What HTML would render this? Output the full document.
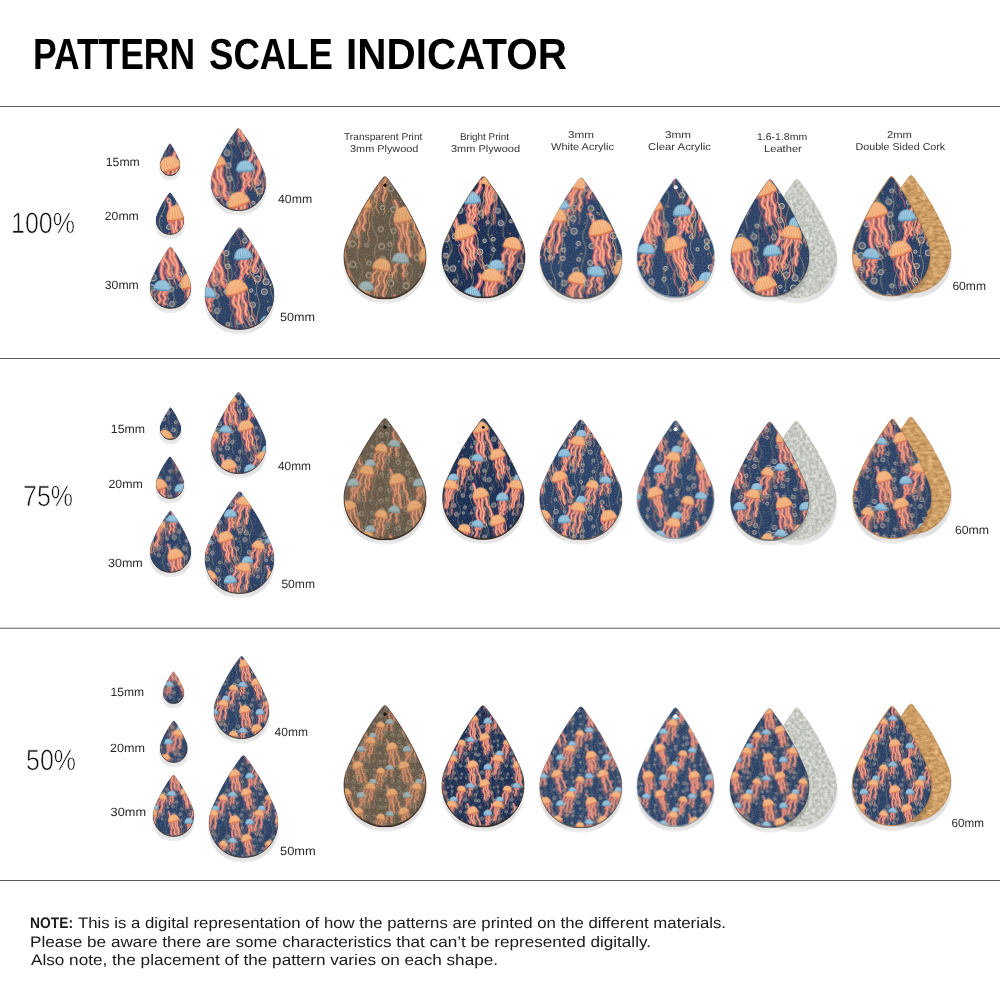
<!DOCTYPE html>
<html><head><meta charset="utf-8"><title>Pattern Scale Indicator</title>
<style>html,body{margin:0;padding:0;background:#fff;}svg{display:block;}text{text-rendering:geometricPrecision;}</style></head>
<body><svg width="1000" height="1000" viewBox="0 0 1000 1000">
<defs>
<clipPath id="dc" clipPathUnits="objectBoundingBox"><path d="M0.040,0.531 Q0.220,0.243 0.468,0.027 Q0.500,-0.003 0.532,0.027 Q0.780,0.243 0.960,0.531 A0.500,0.338 0 1 1 0.040,0.531 Z"/></clipPath>
<filter id="sh" x="-30%" y="-30%" width="160%" height="160%"><feGaussianBlur stdDeviation="4.5"/></filter>
<filter id="suede" x="0" y="0" width="100%" height="100%" color-interpolation-filters="sRGB"><feTurbulence type="fractalNoise" baseFrequency="0.32" numOctaves="3" seed="4"/><feColorMatrix type="matrix" values="0.34 0 0 0 0.615  0.34 0 0 0 0.627  0.34 0 0 0 0.595  0 0 0 0 1"/></filter>
<filter id="grain" x="0" y="0" width="100%" height="100%" color-interpolation-filters="sRGB"><feTurbulence type="fractalNoise" baseFrequency="0.9" numOctaves="1" seed="2"/><feColorMatrix type="matrix" values="0 0 0 0 1  0 0 0 0 1  0 0 0 0 1  1.2 0 0 0 -0.55"/></filter>
<filter id="cork" x="0" y="0" width="100%" height="100%" color-interpolation-filters="sRGB"><feTurbulence type="fractalNoise" baseFrequency="0.18 0.35" numOctaves="3" seed="9"/><feColorMatrix type="matrix" values="0.35 0 0 0 0.63  0.35 0 0 0 0.45  0.35 0 0 0 0.23  0 0 0 0 1"/></filter>
<g id="tN_c"><path d="M4.0,0.0 Q7.5,8.3 2.2,16.7 Q-3.1,25.0 0.9,33.3 Q5.8,41.7 0.1,50.0 Q-3.5,58.3 -0.9,66.7 Q1.6,75.0 -2.2,83.3 Q-5.9,91.7 -3.3,100.0" fill="none" stroke="#cdb877" stroke-width="0.7" opacity="0.75"/>
<path d="M20.0,0.0 Q26.8,8.3 21.9,16.7 Q15.6,25.0 21.6,33.3 Q28.0,41.7 23.4,50.0 Q19.2,58.3 24.0,66.7 Q28.9,75.0 25.7,83.3 Q22.6,91.7 26.9,100.0" fill="none" stroke="#cdb877" stroke-width="0.7" opacity="0.75"/>
<path d="M36.0,0.0 Q40.2,8.3 36.7,16.7 Q33.6,25.0 37.6,33.3 Q43.2,41.7 38.9,50.0 Q35.2,58.3 39.3,66.7 Q43.6,75.0 40.9,83.3 Q36.8,91.7 41.3,100.0" fill="none" stroke="#cdb877" stroke-width="0.7" opacity="0.75"/>
<path d="M52.0,0.0 Q54.9,8.3 51.9,16.7 Q47.3,25.0 50.8,33.3 Q55.9,41.7 49.9,50.0 Q45.1,58.3 48.5,66.7 Q53.9,75.0 48.7,83.3 Q42.2,91.7 47.1,100.0" fill="none" stroke="#cdb877" stroke-width="0.7" opacity="0.75"/>
<path d="M68.0,0.0 Q72.1,8.3 68.2,16.7 Q64.9,25.0 68.7,33.3 Q73.8,41.7 68.8,50.0 Q64.0,58.3 67.5,66.7 Q71.1,75.0 67.4,83.3 Q64.8,91.7 67.9,100.0" fill="none" stroke="#cdb877" stroke-width="0.7" opacity="0.75"/>
<path d="M84.0,0.0 Q87.4,8.3 83.3,16.7 Q77.8,25.0 83.7,33.3 Q87.6,41.7 83.2,50.0 Q78.5,58.3 83.1,66.7 Q88.7,75.0 82.6,83.3 Q78.8,91.7 83.0,100.0" fill="none" stroke="#cdb877" stroke-width="0.7" opacity="0.75"/>
<path d="M60.0,2.0 Q62.2,8.8 56.9,15.6 Q51.0,22.4 54.3,29.2 Q56.9,36.0 51.7,42.8 Q46.9,49.6 49.0,56.4 Q52.3,63.2 46.0,70.0" fill="none" stroke="#d8636d" stroke-width="4.5" stroke-linecap="round"/>
<path d="M60.0,2.0 Q62.2,8.8 56.9,15.6 Q51.0,22.4 54.3,29.2 Q56.9,36.0 51.7,42.8 Q46.9,49.6 49.0,56.4 Q52.3,63.2 46.0,70.0" fill="none" stroke="#f8c9a0" stroke-width="1.6" stroke-linecap="round" opacity="0.9"/>
<path d="M8.0,2.0 Q12.1,8.8 10.3,15.6 Q6.7,22.4 12.6,29.2 Q15.9,36.0 13.6,42.8 Q12.2,49.6 15.6,56.4 Q21.5,63.2 18.0,70.0" fill="none" stroke="#d8636d" stroke-width="4.5" stroke-linecap="round"/>
<path d="M8.0,2.0 Q12.1,8.8 10.3,15.6 Q6.7,22.4 12.6,29.2 Q15.9,36.0 13.6,42.8 Q12.2,49.6 15.6,56.4 Q21.5,63.2 18.0,70.0" fill="none" stroke="#f8c9a0" stroke-width="1.6" stroke-linecap="round" opacity="0.9"/>
<circle cx="9.6" cy="3.7" r="1.8" fill="#46587a" stroke="#cdc4b4" stroke-width="1.0"/>
<circle cx="9.9" cy="4.1" r="0.8" fill="#7a6a58"/>
<circle cx="9.4" cy="31.4" r="2.5" fill="#46587a" stroke="#cdc4b4" stroke-width="1.0"/>
<circle cx="9.7" cy="31.8" r="1.1" fill="#7a6a58"/>
<circle cx="4.8" cy="53.8" r="3.4" fill="#46587a" stroke="#cdc4b4" stroke-width="1.0"/>
<circle cx="5.1" cy="54.2" r="1.5" fill="#7a6a58"/>
<circle cx="3.1" cy="64.6" r="3.5" fill="#46587a" stroke="#cdc4b4" stroke-width="1.0"/>
<circle cx="3.4" cy="65.0" r="1.6" fill="#7a6a58"/>
<circle cx="4.7" cy="77.9" r="1.8" fill="#46587a" stroke="#cdc4b4" stroke-width="1.0"/>
<circle cx="5.0" cy="78.3" r="0.8" fill="#7a6a58"/>
<circle cx="6.6" cy="92.8" r="2.1" fill="#46587a" stroke="#cdc4b4" stroke-width="1.0"/>
<circle cx="6.9" cy="93.2" r="1.0" fill="#7a6a58"/>
<circle cx="19.0" cy="6.8" r="2.3" fill="#46587a" stroke="#cdc4b4" stroke-width="1.0"/>
<circle cx="19.3" cy="7.2" r="1.0" fill="#7a6a58"/>
<circle cx="24.3" cy="21.9" r="2.9" fill="#46587a" stroke="#cdc4b4" stroke-width="1.0"/>
<circle cx="24.6" cy="22.3" r="1.3" fill="#7a6a58"/>
<circle cx="25.7" cy="38.8" r="1.9" fill="#46587a" stroke="#cdc4b4" stroke-width="1.0"/>
<circle cx="26.0" cy="39.2" r="0.9" fill="#7a6a58"/>
<circle cx="23.3" cy="51.8" r="3.5" fill="#46587a" stroke="#cdc4b4" stroke-width="1.0"/>
<circle cx="23.6" cy="52.2" r="1.6" fill="#7a6a58"/>
<circle cx="24.3" cy="65.7" r="2.3" fill="#46587a" stroke="#cdc4b4" stroke-width="1.0"/>
<circle cx="24.6" cy="66.1" r="1.0" fill="#7a6a58"/>
<circle cx="24.7" cy="81.5" r="2.7" fill="#46587a" stroke="#cdc4b4" stroke-width="1.0"/>
<circle cx="25.0" cy="81.9" r="1.2" fill="#7a6a58"/>
<circle cx="17.4" cy="90.7" r="3.2" fill="#46587a" stroke="#cdc4b4" stroke-width="1.0"/>
<circle cx="17.7" cy="91.1" r="1.4" fill="#7a6a58"/>
<circle cx="32.9" cy="7.6" r="3.0" fill="#46587a" stroke="#cdc4b4" stroke-width="1.0"/>
<circle cx="33.2" cy="8.0" r="1.4" fill="#7a6a58"/>
<circle cx="34.6" cy="20.9" r="2.7" fill="#46587a" stroke="#cdc4b4" stroke-width="1.0"/>
<circle cx="34.9" cy="21.3" r="1.2" fill="#7a6a58"/>
<circle cx="35.9" cy="34.8" r="2.6" fill="#46587a" stroke="#cdc4b4" stroke-width="1.0"/>
<circle cx="36.2" cy="35.2" r="1.2" fill="#7a6a58"/>
<circle cx="31.8" cy="51.7" r="3.6" fill="#46587a" stroke="#cdc4b4" stroke-width="1.0"/>
<circle cx="32.1" cy="52.1" r="1.6" fill="#7a6a58"/>
<circle cx="34.8" cy="61.5" r="2.7" fill="#46587a" stroke="#cdc4b4" stroke-width="1.0"/>
<circle cx="35.1" cy="61.9" r="1.2" fill="#7a6a58"/>
<circle cx="36.1" cy="95.9" r="2.1" fill="#46587a" stroke="#cdc4b4" stroke-width="1.0"/>
<circle cx="36.4" cy="96.3" r="1.0" fill="#7a6a58"/>
<circle cx="53.9" cy="7.8" r="2.6" fill="#46587a" stroke="#cdc4b4" stroke-width="1.0"/>
<circle cx="54.2" cy="8.2" r="1.2" fill="#7a6a58"/>
<circle cx="50.4" cy="25.3" r="1.7" fill="#46587a" stroke="#cdc4b4" stroke-width="1.0"/>
<circle cx="50.7" cy="25.7" r="0.8" fill="#7a6a58"/>
<circle cx="52.7" cy="39.0" r="3.1" fill="#46587a" stroke="#cdc4b4" stroke-width="1.0"/>
<circle cx="53.0" cy="39.4" r="1.4" fill="#7a6a58"/>
<circle cx="50.5" cy="63.7" r="1.8" fill="#46587a" stroke="#cdc4b4" stroke-width="1.0"/>
<circle cx="50.8" cy="64.1" r="0.8" fill="#7a6a58"/>
<circle cx="47.4" cy="92.9" r="2.6" fill="#46587a" stroke="#cdc4b4" stroke-width="1.0"/>
<circle cx="47.7" cy="93.3" r="1.2" fill="#7a6a58"/>
<circle cx="63.0" cy="7.5" r="2.9" fill="#46587a" stroke="#cdc4b4" stroke-width="1.0"/>
<circle cx="63.3" cy="7.9" r="1.3" fill="#7a6a58"/>
<circle cx="63.9" cy="17.4" r="2.1" fill="#46587a" stroke="#cdc4b4" stroke-width="1.0"/>
<circle cx="64.2" cy="17.8" r="1.0" fill="#7a6a58"/>
<circle cx="65.0" cy="38.8" r="3.2" fill="#46587a" stroke="#cdc4b4" stroke-width="1.0"/>
<circle cx="65.3" cy="39.2" r="1.4" fill="#7a6a58"/>
<circle cx="67.0" cy="47.9" r="3.3" fill="#46587a" stroke="#cdc4b4" stroke-width="1.0"/>
<circle cx="67.3" cy="48.3" r="1.5" fill="#7a6a58"/>
<circle cx="60.7" cy="60.1" r="1.7" fill="#46587a" stroke="#cdc4b4" stroke-width="1.0"/>
<circle cx="61.0" cy="60.5" r="0.8" fill="#7a6a58"/>
<circle cx="62.1" cy="75.2" r="2.9" fill="#46587a" stroke="#cdc4b4" stroke-width="1.0"/>
<circle cx="62.4" cy="75.6" r="1.3" fill="#7a6a58"/>
<circle cx="60.6" cy="89.9" r="2.7" fill="#46587a" stroke="#cdc4b4" stroke-width="1.0"/>
<circle cx="60.9" cy="90.3" r="1.2" fill="#7a6a58"/>
<circle cx="76.6" cy="9.0" r="2.6" fill="#46587a" stroke="#cdc4b4" stroke-width="1.0"/>
<circle cx="76.9" cy="9.4" r="1.2" fill="#7a6a58"/>
<circle cx="78.3" cy="17.3" r="2.4" fill="#46587a" stroke="#cdc4b4" stroke-width="1.0"/>
<circle cx="78.6" cy="17.7" r="1.1" fill="#7a6a58"/>
<circle cx="75.9" cy="32.4" r="3.4" fill="#46587a" stroke="#cdc4b4" stroke-width="1.0"/>
<circle cx="76.2" cy="32.8" r="1.5" fill="#7a6a58"/>
<circle cx="76.1" cy="50.9" r="3.3" fill="#46587a" stroke="#cdc4b4" stroke-width="1.0"/>
<circle cx="76.4" cy="51.3" r="1.5" fill="#7a6a58"/>
<circle cx="74.4" cy="61.3" r="3.1" fill="#46587a" stroke="#cdc4b4" stroke-width="1.0"/>
<circle cx="74.7" cy="61.7" r="1.4" fill="#7a6a58"/>
<circle cx="80.3" cy="80.1" r="2.7" fill="#46587a" stroke="#cdc4b4" stroke-width="1.0"/>
<circle cx="80.6" cy="80.5" r="1.2" fill="#7a6a58"/>
<circle cx="82.6" cy="95.4" r="2.7" fill="#46587a" stroke="#cdc4b4" stroke-width="1.0"/>
<circle cx="82.9" cy="95.8" r="1.2" fill="#7a6a58"/>
<circle cx="94.1" cy="6.2" r="2.8" fill="#46587a" stroke="#cdc4b4" stroke-width="1.0"/>
<circle cx="94.4" cy="6.6" r="1.3" fill="#7a6a58"/>
<circle cx="94.0" cy="17.6" r="2.3" fill="#46587a" stroke="#cdc4b4" stroke-width="1.0"/>
<circle cx="94.3" cy="18.0" r="1.0" fill="#7a6a58"/>
<circle cx="95.9" cy="62.7" r="3.5" fill="#46587a" stroke="#cdc4b4" stroke-width="1.0"/>
<circle cx="96.2" cy="63.1" r="1.6" fill="#7a6a58"/>
<circle cx="92.1" cy="76.4" r="1.7" fill="#46587a" stroke="#cdc4b4" stroke-width="1.0"/>
<circle cx="92.4" cy="76.8" r="0.8" fill="#7a6a58"/>
<circle cx="3.8" cy="81.9" r="1.0" fill="#cdb877"/>
<circle cx="46.1" cy="82.8" r="0.9" fill="#cdb877"/>
<circle cx="62.3" cy="3.7" r="0.6" fill="#e07a5a"/>
<circle cx="20.6" cy="67.4" r="0.7" fill="#e07a5a"/>
<circle cx="49.2" cy="93.8" r="0.7" fill="#cdb877"/>
<circle cx="50.0" cy="32.5" r="0.9" fill="#7fa8c8"/>
<circle cx="1.8" cy="20.1" r="0.7" fill="#cdb877"/>
<circle cx="78.3" cy="33.9" r="0.6" fill="#cdb877"/>
<circle cx="9.6" cy="37.9" r="0.8" fill="#cdb877"/>
<circle cx="53.4" cy="76.8" r="0.8" fill="#e07a5a"/>
<circle cx="72.5" cy="8.5" r="0.6" fill="#cdb877"/>
<circle cx="21.3" cy="75.9" r="0.8" fill="#7fa8c8"/>
<circle cx="36.8" cy="34.0" r="0.6" fill="#cdb877"/>
<circle cx="78.0" cy="71.5" r="0.7" fill="#cdb877"/>
<circle cx="55.1" cy="10.4" r="0.5" fill="#e07a5a"/>
<circle cx="38.0" cy="99.1" r="0.6" fill="#e07a5a"/>
<circle cx="34.1" cy="61.5" r="0.9" fill="#7fa8c8"/>
<circle cx="7.7" cy="55.0" r="0.8" fill="#7fa8c8"/>
<circle cx="36.5" cy="29.6" r="0.8" fill="#e07a5a"/>
<circle cx="45.8" cy="27.7" r="0.9" fill="#7fa8c8"/>
<circle cx="1.2" cy="67.0" r="0.5" fill="#e07a5a"/>
<circle cx="82.6" cy="79.0" r="0.6" fill="#cdb877"/>
<circle cx="42.1" cy="11.6" r="0.6" fill="#e07a5a"/>
<circle cx="15.9" cy="84.5" r="0.7" fill="#7fa8c8"/>
<circle cx="80.6" cy="54.3" r="0.9" fill="#cdb877"/>
<circle cx="25.3" cy="47.7" r="0.6" fill="#cdb877"/>
<circle cx="31.7" cy="2.7" r="0.9" fill="#7fa8c8"/>
<circle cx="72.6" cy="32.0" r="0.7" fill="#7fa8c8"/>
<circle cx="6.3" cy="91.3" r="1.0" fill="#7fa8c8"/>
<circle cx="11.1" cy="21.5" r="0.8" fill="#cdb877"/>
<circle cx="86.8" cy="46.9" r="0.7" fill="#e07a5a"/>
<circle cx="54.2" cy="30.7" r="0.6" fill="#e07a5a"/>
<circle cx="82.0" cy="8.9" r="0.9" fill="#e07a5a"/>
<circle cx="65.2" cy="64.3" r="1.0" fill="#7fa8c8"/>
<circle cx="96.7" cy="4.1" r="0.6" fill="#cdb877"/>
<circle cx="89.4" cy="30.3" r="0.7" fill="#cdb877"/>
<circle cx="61.1" cy="80.8" r="0.5" fill="#e07a5a"/>
<circle cx="2.0" cy="24.4" r="0.5" fill="#cdb877"/>
<circle cx="86.8" cy="72.9" r="0.5" fill="#e07a5a"/>
<circle cx="29.1" cy="79.2" r="0.7" fill="#e07a5a"/>
<g transform="translate(20.0,22.0) rotate(-14)"><path d="M-10.5,0.0 Q-8.1,4.6 -10.7,9.2 Q-12.4,13.8 -9.6,18.5 Q-7.7,23.1 -10.7,27.7 Q-12.2,32.3 -9.9,36.9 Q-8.1,41.5 -9.9,46.1" fill="none" stroke="#d8636d" stroke-width="1.0"/>
<path d="M-7.5,0.0 Q-5.0,4.3 -7.2,8.5 Q-9.1,12.8 -7.7,17.1 Q-5.5,21.3 -8.1,25.6 Q-9.4,29.9 -6.9,34.2 Q-5.5,38.4 -7.3,42.7" fill="none" stroke="#e9a474" stroke-width="0.9"/>
<path d="M-4.5,0.0 Q-2.0,4.5 -4.4,8.9 Q-4.8,13.4 -2.4,17.9 Q-1.2,22.4 -2.9,26.8 Q-4.6,31.3 -1.4,35.8 Q-0.0,40.3 -1.1,44.7" fill="none" stroke="#e9a474" stroke-width="0.7"/>
<path d="M-1.5,0.0 Q-0.5,4.0 -1.9,7.9 Q-3.7,11.9 -2.5,15.8 Q-1.1,19.8 -3.4,23.7 Q-4.2,27.7 -2.6,31.6 Q-1.1,35.6 -3.6,39.5" fill="none" stroke="#d8636d" stroke-width="0.8"/>
<path d="M1.5,0.0 Q2.6,3.7 0.6,7.4 Q-0.7,11.2 -0.1,14.9 Q1.5,18.6 -0.8,22.3 Q-2.7,26.1 -1.0,29.8 Q0.7,33.5 -1.5,37.2" fill="none" stroke="#e9a474" stroke-width="0.7"/>
<path d="M4.5,0.0 Q6.2,4.9 3.9,9.8 Q2.7,14.7 4.4,19.6 Q6.9,24.5 4.1,29.4 Q2.3,34.3 4.0,39.2 Q6.7,44.1 4.8,48.9" fill="none" stroke="#e9a474" stroke-width="0.8"/>
<path d="M7.5,0.0 Q9.5,5.1 6.7,10.2 Q5.2,15.3 7.1,20.3 Q8.0,25.4 6.0,30.5 Q4.4,35.6 6.7,40.7 Q8.0,45.8 6.0,50.9" fill="none" stroke="#d8636d" stroke-width="0.8"/>
<path d="M10.5,0.0 Q12.9,3.9 11.2,7.9 Q8.6,11.8 9.8,15.7 Q12.3,19.6 11.0,23.6 Q8.9,27.5 9.9,31.4 Q12.0,35.4 10.6,39.3" fill="none" stroke="#e9a474" stroke-width="0.9"/>
<path d="M-5.5,-1.0 Q-2.9,2.8 -4.8,6.6 Q-8.1,10.3 -4.4,14.1 Q-2.6,17.9 -4.1,21.7 Q-7.4,25.5 -4.3,29.2" fill="none" stroke="#d8636d" stroke-width="4.2" stroke-linecap="round" stroke-dasharray="1.2 0.8"/>
<path d="M-5.5,-1.0 Q-2.9,2.8 -4.8,6.6 Q-8.1,10.3 -4.4,14.1 Q-2.6,17.9 -4.1,21.7 Q-7.4,25.5 -4.3,29.2" fill="none" stroke="#ee9b6c" stroke-width="2.0" stroke-linecap="round"/>
<path d="M-5.5,-1.0 Q-2.9,2.8 -4.8,6.6 Q-8.1,10.3 -4.4,14.1 Q-2.6,17.9 -4.1,21.7 Q-7.4,25.5 -4.3,29.2" fill="none" stroke="#f8c9a0" stroke-width="0.9" stroke-linecap="round"/>
<path d="M0.0,-1.0 Q2.9,3.6 0.9,8.2 Q-1.5,12.7 2.0,17.3 Q5.0,21.9 2.3,26.5 Q1.6,31.1 3.7,35.7" fill="none" stroke="#d8636d" stroke-width="4.2" stroke-linecap="round" stroke-dasharray="1.2 0.8"/>
<path d="M0.0,-1.0 Q2.9,3.6 0.9,8.2 Q-1.5,12.7 2.0,17.3 Q5.0,21.9 2.3,26.5 Q1.6,31.1 3.7,35.7" fill="none" stroke="#ee9b6c" stroke-width="2.0" stroke-linecap="round"/>
<path d="M0.0,-1.0 Q2.9,3.6 0.9,8.2 Q-1.5,12.7 2.0,17.3 Q5.0,21.9 2.3,26.5 Q1.6,31.1 3.7,35.7" fill="none" stroke="#f8c9a0" stroke-width="0.9" stroke-linecap="round"/>
<path d="M5.5,-1.0 Q7.6,3.3 4.4,7.6 Q2.9,11.9 5.1,16.2 Q5.6,20.5 4.5,24.8 Q0.8,29.1 3.2,33.4" fill="none" stroke="#d8636d" stroke-width="4.2" stroke-linecap="round" stroke-dasharray="1.2 0.8"/>
<path d="M5.5,-1.0 Q7.6,3.3 4.4,7.6 Q2.9,11.9 5.1,16.2 Q5.6,20.5 4.5,24.8 Q0.8,29.1 3.2,33.4" fill="none" stroke="#ee9b6c" stroke-width="2.0" stroke-linecap="round"/>
<path d="M5.5,-1.0 Q7.6,3.3 4.4,7.6 Q2.9,11.9 5.1,16.2 Q5.6,20.5 4.5,24.8 Q0.8,29.1 3.2,33.4" fill="none" stroke="#f8c9a0" stroke-width="0.9" stroke-linecap="round"/>
<path d="M-12.5,0 C-12.5,-19.5 12.5,-19.5 12.5,0 Q0,3.3 -12.5,0 Z" fill="#f0a66e"/>
<path d="M-9.0,-0.8 L-5.0,-12.8" stroke="#fbd3a6" stroke-width="1.1" opacity="0.6"/>
<path d="M-5.4,-0.8 L-3.0,-12.8" stroke="#fbd3a6" stroke-width="1.1" opacity="0.6"/>
<path d="M-1.8,-0.8 L-1.0,-12.8" stroke="#fbd3a6" stroke-width="1.1" opacity="0.6"/>
<path d="M1.8,-0.8 L1.0,-12.8" stroke="#fbd3a6" stroke-width="1.1" opacity="0.6"/>
<path d="M5.4,-0.8 L3.0,-12.8" stroke="#fbd3a6" stroke-width="1.1" opacity="0.6"/>
<path d="M9.0,-0.8 L5.0,-12.8" stroke="#fbd3a6" stroke-width="1.1" opacity="0.6"/>
<path d="M-12.5,0 Q0,3.3 12.5,0" fill="none" stroke="#da7350" stroke-width="2.0"/></g>
<g transform="translate(72.0,8.0) rotate(8)"><path d="M-9.2,0.0 Q-8.1,4.0 -9.1,8.0 Q-11.4,12.0 -10.3,15.9 Q-8.2,19.9 -10.0,23.9 Q-12.9,27.9 -10.9,31.9 Q-9.5,35.9 -11.6,39.8" fill="none" stroke="#d8636d" stroke-width="0.9"/>
<path d="M-6.6,0.0 Q-4.8,4.1 -7.1,8.2 Q-9.1,12.3 -8.3,16.4 Q-5.7,20.5 -8.0,24.6 Q-10.2,28.7 -8.4,32.8 Q-6.1,36.9 -8.8,40.9" fill="none" stroke="#e9a474" stroke-width="0.9"/>
<path d="M-4.0,0.0 Q-2.1,3.4 -3.0,6.7 Q-5.3,10.1 -4.0,13.4 Q-1.6,16.8 -3.8,20.1 Q-5.5,23.5 -2.7,26.8 Q-1.4,30.2 -2.8,33.5" fill="none" stroke="#e9a474" stroke-width="1.0"/>
<path d="M-1.3,0.0 Q1.1,3.5 -1.9,7.1 Q-3.0,10.6 -1.6,14.1 Q0.9,17.7 -1.7,21.2 Q-3.5,24.7 -2.1,28.3 Q-0.1,31.8 -1.7,35.3" fill="none" stroke="#d8636d" stroke-width="0.7"/>
<path d="M1.3,0.0 Q3.8,4.3 1.1,8.6 Q0.0,12.9 1.5,17.2 Q4.4,21.5 2.1,25.8 Q-0.0,30.1 3.2,34.4 Q5.3,38.7 3.0,43.0" fill="none" stroke="#e9a474" stroke-width="0.7"/>
<path d="M4.0,0.0 Q5.7,4.2 5.4,8.5 Q3.7,12.7 6.2,17.0 Q7.4,21.2 5.8,25.4 Q4.6,29.7 6.1,33.9 Q9.5,38.1 7.6,42.4" fill="none" stroke="#e9a474" stroke-width="0.9"/>
<path d="M6.6,0.0 Q8.2,4.2 5.9,8.4 Q3.6,12.7 5.6,16.9 Q7.5,21.1 4.7,25.3 Q2.7,29.5 4.2,33.8 Q5.3,38.0 3.2,42.2" fill="none" stroke="#d8636d" stroke-width="0.8"/>
<path d="M9.2,0.0 Q10.7,4.0 9.5,8.0 Q7.1,12.0 9.0,16.0 Q10.2,20.1 8.2,24.1 Q6.2,28.1 8.0,32.1 Q10.0,36.1 8.0,40.1" fill="none" stroke="#e9a474" stroke-width="0.7"/>
<path d="M-4.8,-1.0 Q-2.9,2.6 -4.4,6.1 Q-6.0,9.7 -4.7,13.3 Q-1.9,16.8 -4.0,20.4 Q-5.3,24.0 -3.1,27.5" fill="none" stroke="#d8636d" stroke-width="3.7" stroke-linecap="round" stroke-dasharray="1.2 0.8"/>
<path d="M-4.8,-1.0 Q-2.9,2.6 -4.4,6.1 Q-6.0,9.7 -4.7,13.3 Q-1.9,16.8 -4.0,20.4 Q-5.3,24.0 -3.1,27.5" fill="none" stroke="#ee9b6c" stroke-width="1.7" stroke-linecap="round"/>
<path d="M-4.8,-1.0 Q-2.9,2.6 -4.4,6.1 Q-6.0,9.7 -4.7,13.3 Q-1.9,16.8 -4.0,20.4 Q-5.3,24.0 -3.1,27.5" fill="none" stroke="#f8c9a0" stroke-width="0.8" stroke-linecap="round"/>
<path d="M0.0,-1.0 Q2.2,3.3 -0.9,7.5 Q-4.5,11.8 -2.4,16.1 Q-1.3,20.3 -4.2,24.6 Q-6.1,28.9 -4.6,33.2" fill="none" stroke="#d8636d" stroke-width="3.7" stroke-linecap="round" stroke-dasharray="1.2 0.8"/>
<path d="M0.0,-1.0 Q2.2,3.3 -0.9,7.5 Q-4.5,11.8 -2.4,16.1 Q-1.3,20.3 -4.2,24.6 Q-6.1,28.9 -4.6,33.2" fill="none" stroke="#ee9b6c" stroke-width="1.7" stroke-linecap="round"/>
<path d="M0.0,-1.0 Q2.2,3.3 -0.9,7.5 Q-4.5,11.8 -2.4,16.1 Q-1.3,20.3 -4.2,24.6 Q-6.1,28.9 -4.6,33.2" fill="none" stroke="#f8c9a0" stroke-width="0.8" stroke-linecap="round"/>
<path d="M4.8,-1.0 Q8.0,2.6 6.4,6.2 Q4.8,9.8 7.8,13.5 Q10.5,17.1 7.7,20.7 Q7.1,24.3 9.2,27.9" fill="none" stroke="#d8636d" stroke-width="3.7" stroke-linecap="round" stroke-dasharray="1.2 0.8"/>
<path d="M4.8,-1.0 Q8.0,2.6 6.4,6.2 Q4.8,9.8 7.8,13.5 Q10.5,17.1 7.7,20.7 Q7.1,24.3 9.2,27.9" fill="none" stroke="#ee9b6c" stroke-width="1.7" stroke-linecap="round"/>
<path d="M4.8,-1.0 Q8.0,2.6 6.4,6.2 Q4.8,9.8 7.8,13.5 Q10.5,17.1 7.7,20.7 Q7.1,24.3 9.2,27.9" fill="none" stroke="#f8c9a0" stroke-width="0.8" stroke-linecap="round"/>
<path d="M-11.0,0 C-11.0,-16.9 11.0,-16.9 11.0,0 Q0,2.9 -11.0,0 Z" fill="#f0a66e"/>
<path d="M-7.9,-0.7 L-4.4,-11.0" stroke="#fbd3a6" stroke-width="1.0" opacity="0.6"/>
<path d="M-4.8,-0.7 L-2.6,-11.0" stroke="#fbd3a6" stroke-width="1.0" opacity="0.6"/>
<path d="M-1.6,-0.7 L-0.9,-11.0" stroke="#fbd3a6" stroke-width="1.0" opacity="0.6"/>
<path d="M1.6,-0.7 L0.9,-11.0" stroke="#fbd3a6" stroke-width="1.0" opacity="0.6"/>
<path d="M4.8,-0.7 L2.6,-11.0" stroke="#fbd3a6" stroke-width="1.0" opacity="0.6"/>
<path d="M7.9,-0.7 L4.4,-11.0" stroke="#fbd3a6" stroke-width="1.0" opacity="0.6"/>
<path d="M-11.0,0 Q0,2.9 11.0,0" fill="none" stroke="#da7350" stroke-width="1.8"/></g>
<g transform="translate(46.0,62.0) rotate(-18)"><path d="M-10.1,0.0 Q-7.8,4.9 -11.3,9.9 Q-13.1,14.8 -10.6,19.8 Q-9.0,24.7 -12.2,29.6 Q-14.0,34.6 -12.0,39.5 Q-9.7,44.5 -12.3,49.4" fill="none" stroke="#d8636d" stroke-width="0.8"/>
<path d="M-7.2,0.0 Q-5.3,4.6 -6.5,9.2 Q-9.1,13.7 -5.7,18.3 Q-3.7,22.9 -6.6,27.5 Q-7.8,32.1 -5.0,36.7 Q-3.7,41.2 -5.1,45.8" fill="none" stroke="#e9a474" stroke-width="0.6"/>
<path d="M-4.3,0.0 Q-1.6,4.3 -4.3,8.6 Q-5.0,12.9 -3.4,17.2 Q-0.9,21.5 -2.9,25.7 Q-4.3,30.0 -3.0,34.3 Q-1.2,38.6 -2.3,42.9" fill="none" stroke="#e9a474" stroke-width="0.8"/>
<path d="M-1.4,0.0 Q0.7,4.1 -1.4,8.2 Q-2.7,12.3 0.2,16.4 Q1.4,20.5 -0.4,24.6 Q-2.0,28.7 1.0,32.8 Q1.8,36.9 0.8,41.0" fill="none" stroke="#d8636d" stroke-width="0.9"/>
<path d="M1.4,0.0 Q3.4,4.4 1.9,8.7 Q-0.7,13.1 1.4,17.5 Q3.3,21.8 1.4,26.2 Q0.0,30.6 1.7,34.9 Q4.0,39.3 2.3,43.6" fill="none" stroke="#e9a474" stroke-width="0.8"/>
<path d="M4.3,0.0 Q6.2,4.4 4.3,8.8 Q1.9,13.2 3.9,17.6 Q5.3,22.0 4.7,26.4 Q2.3,30.8 3.8,35.2 Q5.2,39.6 3.8,44.0" fill="none" stroke="#e9a474" stroke-width="0.8"/>
<path d="M7.2,0.0 Q9.4,3.4 7.0,6.9 Q6.2,10.3 7.6,13.7 Q10.7,17.2 9.4,20.6 Q7.0,24.0 9.0,27.5 Q11.7,30.9 9.7,34.3" fill="none" stroke="#d8636d" stroke-width="0.9"/>
<path d="M10.1,0.0 Q12.0,4.1 10.0,8.3 Q7.6,12.4 9.3,16.6 Q9.9,20.7 8.2,24.9 Q5.3,29.0 7.8,33.2 Q8.6,37.3 6.6,41.5" fill="none" stroke="#e9a474" stroke-width="0.9"/>
<path d="M-5.3,-1.0 Q-2.4,2.5 -6.3,6.1 Q-8.9,9.6 -6.7,13.1 Q-3.3,16.7 -6.7,20.2 Q-8.5,23.7 -6.6,27.2" fill="none" stroke="#d8636d" stroke-width="4.0" stroke-linecap="round" stroke-dasharray="1.2 0.8"/>
<path d="M-5.3,-1.0 Q-2.4,2.5 -6.3,6.1 Q-8.9,9.6 -6.7,13.1 Q-3.3,16.7 -6.7,20.2 Q-8.5,23.7 -6.6,27.2" fill="none" stroke="#ee9b6c" stroke-width="1.9" stroke-linecap="round"/>
<path d="M-5.3,-1.0 Q-2.4,2.5 -6.3,6.1 Q-8.9,9.6 -6.7,13.1 Q-3.3,16.7 -6.7,20.2 Q-8.5,23.7 -6.6,27.2" fill="none" stroke="#f8c9a0" stroke-width="0.9" stroke-linecap="round"/>
<path d="M0.0,-1.0 Q2.1,3.1 -0.7,7.2 Q-3.7,11.3 -2.9,15.4 Q-1.6,19.5 -4.3,23.6 Q-6.8,27.7 -5.0,31.8" fill="none" stroke="#d8636d" stroke-width="4.0" stroke-linecap="round" stroke-dasharray="1.2 0.8"/>
<path d="M0.0,-1.0 Q2.1,3.1 -0.7,7.2 Q-3.7,11.3 -2.9,15.4 Q-1.6,19.5 -4.3,23.6 Q-6.8,27.7 -5.0,31.8" fill="none" stroke="#ee9b6c" stroke-width="1.9" stroke-linecap="round"/>
<path d="M0.0,-1.0 Q2.1,3.1 -0.7,7.2 Q-3.7,11.3 -2.9,15.4 Q-1.6,19.5 -4.3,23.6 Q-6.8,27.7 -5.0,31.8" fill="none" stroke="#f8c9a0" stroke-width="0.9" stroke-linecap="round"/>
<path d="M5.3,-1.0 Q6.5,2.4 3.8,5.8 Q2.4,9.2 4.0,12.6 Q5.8,16.0 3.0,19.4 Q0.6,22.8 2.1,26.2" fill="none" stroke="#d8636d" stroke-width="4.0" stroke-linecap="round" stroke-dasharray="1.2 0.8"/>
<path d="M5.3,-1.0 Q6.5,2.4 3.8,5.8 Q2.4,9.2 4.0,12.6 Q5.8,16.0 3.0,19.4 Q0.6,22.8 2.1,26.2" fill="none" stroke="#ee9b6c" stroke-width="1.9" stroke-linecap="round"/>
<path d="M5.3,-1.0 Q6.5,2.4 3.8,5.8 Q2.4,9.2 4.0,12.6 Q5.8,16.0 3.0,19.4 Q0.6,22.8 2.1,26.2" fill="none" stroke="#f8c9a0" stroke-width="0.9" stroke-linecap="round"/>
<path d="M-12.0,0 C-12.0,-18.2 12.0,-18.2 12.0,0 Q0,3.1 -12.0,0 Z" fill="#f0a66e"/>
<path d="M-8.6,-0.7 L-4.8,-11.9" stroke="#fbd3a6" stroke-width="1.1" opacity="0.6"/>
<path d="M-5.2,-0.7 L-2.9,-11.9" stroke="#fbd3a6" stroke-width="1.1" opacity="0.6"/>
<path d="M-1.7,-0.7 L-1.0,-11.9" stroke="#fbd3a6" stroke-width="1.1" opacity="0.6"/>
<path d="M1.7,-0.7 L1.0,-11.9" stroke="#fbd3a6" stroke-width="1.1" opacity="0.6"/>
<path d="M5.2,-0.7 L2.9,-11.9" stroke="#fbd3a6" stroke-width="1.1" opacity="0.6"/>
<path d="M8.6,-0.7 L4.8,-11.9" stroke="#fbd3a6" stroke-width="1.1" opacity="0.6"/>
<path d="M-12.0,0 Q0,3.1 12.0,0" fill="none" stroke="#da7350" stroke-width="1.9"/></g>
<g transform="translate(94.0,74.0) rotate(12)"><path d="M-8.4,0.0 Q-6.0,3.5 -8.6,7.1 Q-10.9,10.6 -9.5,14.1 Q-8.0,17.7 -8.8,21.2 Q-12.1,24.8 -10.4,28.3 Q-8.2,31.8 -10.4,35.4" fill="none" stroke="#d8636d" stroke-width="0.9"/>
<path d="M-6.0,0.0 Q-4.0,3.1 -5.8,6.2 Q-7.0,9.3 -4.0,12.4 Q-2.1,15.5 -4.6,18.6 Q-5.4,21.7 -4.1,24.8 Q-1.6,27.9 -2.7,31.0" fill="none" stroke="#e9a474" stroke-width="0.8"/>
<path d="M-3.6,0.0 Q-2.3,3.1 -4.3,6.2 Q-6.8,9.3 -5.1,12.4 Q-2.9,15.4 -5.4,18.5 Q-7.1,21.6 -6.1,24.7 Q-3.8,27.8 -6.4,30.9" fill="none" stroke="#e9a474" stroke-width="0.9"/>
<path d="M-1.2,0.0 Q1.2,4.0 -1.2,8.0 Q-2.2,11.9 -0.3,15.9 Q1.8,19.9 0.4,23.9 Q-2.4,27.9 0.8,31.8 Q3.0,35.8 0.7,39.8" fill="none" stroke="#d8636d" stroke-width="0.9"/>
<path d="M1.2,0.0 Q3.2,3.9 2.0,7.7 Q-0.8,11.6 1.8,15.4 Q3.6,19.3 1.9,23.1 Q0.2,27.0 2.5,30.8 Q4.4,34.7 2.7,38.5" fill="none" stroke="#e9a474" stroke-width="0.8"/>
<path d="M3.6,0.0 Q6.3,3.7 4.7,7.4 Q3.0,11.1 4.2,14.7 Q6.8,18.4 4.8,22.1 Q2.9,25.8 4.7,29.5 Q7.1,33.2 5.5,36.9" fill="none" stroke="#e9a474" stroke-width="0.9"/>
<path d="M6.0,0.0 Q8.6,4.0 6.9,7.9 Q4.0,11.9 7.2,15.9 Q9.1,19.8 7.5,23.8 Q5.2,27.8 6.9,31.7 Q9.1,35.7 7.4,39.7" fill="none" stroke="#d8636d" stroke-width="0.9"/>
<path d="M8.4,0.0 Q10.6,3.7 8.5,7.3 Q8.2,11.0 9.2,14.7 Q11.7,18.3 9.9,22.0 Q9.3,25.7 11.1,29.3 Q14.4,33.0 12.2,36.7" fill="none" stroke="#e9a474" stroke-width="0.7"/>
<path d="M-4.4,-1.0 Q-1.9,2.8 -5.4,6.6 Q-8.3,10.4 -6.7,14.3 Q-4.8,18.1 -7.8,21.9 Q-9.6,25.7 -8.5,29.5" fill="none" stroke="#d8636d" stroke-width="3.4" stroke-linecap="round" stroke-dasharray="1.2 0.8"/>
<path d="M-4.4,-1.0 Q-1.9,2.8 -5.4,6.6 Q-8.3,10.4 -6.7,14.3 Q-4.8,18.1 -7.8,21.9 Q-9.6,25.7 -8.5,29.5" fill="none" stroke="#ee9b6c" stroke-width="1.6" stroke-linecap="round"/>
<path d="M-4.4,-1.0 Q-1.9,2.8 -5.4,6.6 Q-8.3,10.4 -6.7,14.3 Q-4.8,18.1 -7.8,21.9 Q-9.6,25.7 -8.5,29.5" fill="none" stroke="#f8c9a0" stroke-width="0.7" stroke-linecap="round"/>
<path d="M0.0,-1.0 Q3.5,2.8 0.6,6.5 Q-0.7,10.3 1.7,14.1 Q5.6,17.9 2.9,21.6 Q1.7,25.4 4.8,29.2" fill="none" stroke="#d8636d" stroke-width="3.4" stroke-linecap="round" stroke-dasharray="1.2 0.8"/>
<path d="M0.0,-1.0 Q3.5,2.8 0.6,6.5 Q-0.7,10.3 1.7,14.1 Q5.6,17.9 2.9,21.6 Q1.7,25.4 4.8,29.2" fill="none" stroke="#ee9b6c" stroke-width="1.6" stroke-linecap="round"/>
<path d="M0.0,-1.0 Q3.5,2.8 0.6,6.5 Q-0.7,10.3 1.7,14.1 Q5.6,17.9 2.9,21.6 Q1.7,25.4 4.8,29.2" fill="none" stroke="#f8c9a0" stroke-width="0.7" stroke-linecap="round"/>
<path d="M4.4,-1.0 Q6.9,2.9 3.4,6.8 Q0.1,10.8 3.1,14.7 Q4.0,18.6 2.4,22.5 Q-1.5,26.4 1.0,30.4" fill="none" stroke="#d8636d" stroke-width="3.4" stroke-linecap="round" stroke-dasharray="1.2 0.8"/>
<path d="M4.4,-1.0 Q6.9,2.9 3.4,6.8 Q0.1,10.8 3.1,14.7 Q4.0,18.6 2.4,22.5 Q-1.5,26.4 1.0,30.4" fill="none" stroke="#ee9b6c" stroke-width="1.6" stroke-linecap="round"/>
<path d="M4.4,-1.0 Q6.9,2.9 3.4,6.8 Q0.1,10.8 3.1,14.7 Q4.0,18.6 2.4,22.5 Q-1.5,26.4 1.0,30.4" fill="none" stroke="#f8c9a0" stroke-width="0.7" stroke-linecap="round"/>
<path d="M-10.0,0 C-10.0,-15.6 10.0,-15.6 10.0,0 Q0,2.6 -10.0,0 Z" fill="#f0a66e"/>
<path d="M-7.2,-0.6 L-4.0,-10.2" stroke="#fbd3a6" stroke-width="0.9" opacity="0.6"/>
<path d="M-4.3,-0.6 L-2.4,-10.2" stroke="#fbd3a6" stroke-width="0.9" opacity="0.6"/>
<path d="M-1.4,-0.6 L-0.8,-10.2" stroke="#fbd3a6" stroke-width="0.9" opacity="0.6"/>
<path d="M1.4,-0.6 L0.8,-10.2" stroke="#fbd3a6" stroke-width="0.9" opacity="0.6"/>
<path d="M4.3,-0.6 L2.4,-10.2" stroke="#fbd3a6" stroke-width="0.9" opacity="0.6"/>
<path d="M7.2,-0.6 L4.0,-10.2" stroke="#fbd3a6" stroke-width="0.9" opacity="0.6"/>
<path d="M-10.0,0 Q0,2.6 10.0,0" fill="none" stroke="#da7350" stroke-width="1.6"/></g>
<g transform="translate(52.0,26.0) rotate(-4)"><path d="M-8.0,0.0 Q-5.7,2.2 -8.2,4.5 Q-10.1,6.7 -8.2,9.0 Q-6.6,11.2 -8.2,13.5 Q-10.9,15.7 -9.2,18.0 Q-6.6,20.2 -8.7,22.5" fill="none" stroke="#d8636d" stroke-width="0.7"/>
<path d="M-4.8,0.0 Q-3.4,2.6 -5.2,5.2 Q-6.4,7.8 -3.7,10.4 Q-1.8,13.0 -3.5,15.6 Q-5.3,18.2 -4.0,20.8 Q-1.7,23.4 -3.5,26.0" fill="none" stroke="#e9a474" stroke-width="0.7"/>
<path d="M-1.6,0.0 Q0.3,2.9 -2.2,5.8 Q-4.1,8.7 -2.1,11.6 Q-0.4,14.5 -2.4,17.5 Q-4.8,20.4 -2.6,23.3 Q-1.3,26.2 -3.8,29.1" fill="none" stroke="#e9a474" stroke-width="0.7"/>
<path d="M1.6,0.0 Q2.9,2.4 1.7,4.8 Q-0.4,7.2 1.1,9.6 Q1.7,12.0 0.5,14.4 Q-2.0,16.8 -1.1,19.2 Q1.8,21.6 -1.0,24.0" fill="none" stroke="#d8636d" stroke-width="0.8"/>
<path d="M4.8,0.0 Q6.7,2.3 5.6,4.6 Q4.5,6.9 6.4,9.1 Q8.9,11.4 7.3,13.7 Q6.3,16.0 8.1,18.3 Q9.8,20.6 8.6,22.9" fill="none" stroke="#e9a474" stroke-width="0.8"/>
<path d="M8.0,0.0 Q9.7,2.9 7.9,5.7 Q6.6,8.6 9.0,11.4 Q11.6,14.3 9.9,17.1 Q7.4,20.0 10.8,22.8 Q13.2,25.7 10.8,28.5" fill="none" stroke="#e9a474" stroke-width="1.0"/>
<path d="M-2.3,-1.0 Q-0.5,1.3 -1.6,3.6 Q-4.3,5.9 -2.0,8.2 Q0.1,10.5 -2.0,12.9 Q-4.0,15.2 -1.6,17.5" fill="none" stroke="#d8636d" stroke-width="3.3" stroke-linecap="round" stroke-dasharray="1.2 0.8"/>
<path d="M-2.3,-1.0 Q-0.5,1.3 -1.6,3.6 Q-4.3,5.9 -2.0,8.2 Q0.1,10.5 -2.0,12.9 Q-4.0,15.2 -1.6,17.5" fill="none" stroke="#ee9b6c" stroke-width="1.6" stroke-linecap="round"/>
<path d="M-2.3,-1.0 Q-0.5,1.3 -1.6,3.6 Q-4.3,5.9 -2.0,8.2 Q0.1,10.5 -2.0,12.9 Q-4.0,15.2 -1.6,17.5" fill="none" stroke="#f8c9a0" stroke-width="0.7" stroke-linecap="round"/>
<path d="M2.3,-1.0 Q4.1,1.2 2.8,3.4 Q-0.2,5.6 3.1,7.9 Q6.3,10.1 2.8,12.3 Q0.8,14.5 3.7,16.7" fill="none" stroke="#d8636d" stroke-width="3.3" stroke-linecap="round" stroke-dasharray="1.2 0.8"/>
<path d="M2.3,-1.0 Q4.1,1.2 2.8,3.4 Q-0.2,5.6 3.1,7.9 Q6.3,10.1 2.8,12.3 Q0.8,14.5 3.7,16.7" fill="none" stroke="#ee9b6c" stroke-width="1.6" stroke-linecap="round"/>
<path d="M2.3,-1.0 Q4.1,1.2 2.8,3.4 Q-0.2,5.6 3.1,7.9 Q6.3,10.1 2.8,12.3 Q0.8,14.5 3.7,16.7" fill="none" stroke="#f8c9a0" stroke-width="0.7" stroke-linecap="round"/>
<path d="M-9.5,0 C-9.5,-14.3 9.5,-14.3 9.5,0 Q0,2.4 -9.5,0 Z" fill="#7fb3d2"/>
<path d="M-6.8,-0.6 L-3.8,-9.3" stroke="#c2e2ef" stroke-width="0.9" opacity="0.6"/>
<path d="M-4.1,-0.6 L-2.3,-9.3" stroke="#c2e2ef" stroke-width="0.9" opacity="0.6"/>
<path d="M-1.4,-0.6 L-0.8,-9.3" stroke="#c2e2ef" stroke-width="0.9" opacity="0.6"/>
<path d="M1.4,-0.6 L0.8,-9.3" stroke="#c2e2ef" stroke-width="0.9" opacity="0.6"/>
<path d="M4.1,-0.6 L2.3,-9.3" stroke="#c2e2ef" stroke-width="0.9" opacity="0.6"/>
<path d="M6.8,-0.6 L3.8,-9.3" stroke="#c2e2ef" stroke-width="0.9" opacity="0.6"/>
<path d="M-9.5,0 Q0,2.4 9.5,0" fill="none" stroke="#5d93b8" stroke-width="1.5"/></g>
<g transform="translate(14.0,66.0) rotate(6)"><path d="M-7.6,0.0 Q-4.9,2.5 -7.8,4.9 Q-8.5,7.4 -6.6,9.9 Q-5.3,12.4 -7.1,14.8 Q-9.1,17.3 -7.1,19.8 Q-4.0,22.3 -6.4,24.7" fill="none" stroke="#d8636d" stroke-width="0.8"/>
<path d="M-4.5,0.0 Q-2.9,2.7 -5.9,5.4 Q-7.9,8.0 -5.5,10.7 Q-4.0,13.4 -6.3,16.1 Q-9.5,18.8 -8.1,21.4 Q-5.1,24.1 -8.0,26.8" fill="none" stroke="#e9a474" stroke-width="0.9"/>
<path d="M-1.5,0.0 Q-0.0,2.4 -1.7,4.8 Q-4.3,7.2 -2.3,9.6 Q-1.2,11.9 -2.9,14.3 Q-4.5,16.7 -2.7,19.1 Q-0.8,21.5 -3.5,23.9" fill="none" stroke="#e9a474" stroke-width="0.9"/>
<path d="M1.5,0.0 Q3.7,2.0 1.2,3.9 Q-1.0,5.9 1.1,7.9 Q4.2,9.8 0.9,11.8 Q-0.6,13.7 1.5,15.7 Q3.7,17.7 1.8,19.6" fill="none" stroke="#d8636d" stroke-width="0.8"/>
<path d="M4.5,0.0 Q6.7,2.2 4.0,4.4 Q2.4,6.7 4.4,8.9 Q5.2,11.1 3.4,13.3 Q1.5,15.5 3.3,17.8 Q4.6,20.0 3.0,22.2" fill="none" stroke="#e9a474" stroke-width="0.9"/>
<path d="M7.6,0.0 Q9.2,1.9 6.8,3.8 Q5.9,5.7 6.9,7.6 Q9.1,9.4 7.6,11.3 Q5.3,13.2 7.2,15.1 Q9.3,17.0 7.5,18.9" fill="none" stroke="#e9a474" stroke-width="0.8"/>
<path d="M-2.2,-1.0 Q-0.2,1.6 -1.5,4.2 Q-4.2,6.8 -1.1,9.4 Q1.0,12.0 -2.3,14.5 Q-2.9,17.1 -1.3,19.7" fill="none" stroke="#d8636d" stroke-width="3.2" stroke-linecap="round" stroke-dasharray="1.2 0.8"/>
<path d="M-2.2,-1.0 Q-0.2,1.6 -1.5,4.2 Q-4.2,6.8 -1.1,9.4 Q1.0,12.0 -2.3,14.5 Q-2.9,17.1 -1.3,19.7" fill="none" stroke="#ee9b6c" stroke-width="1.5" stroke-linecap="round"/>
<path d="M-2.2,-1.0 Q-0.2,1.6 -1.5,4.2 Q-4.2,6.8 -1.1,9.4 Q1.0,12.0 -2.3,14.5 Q-2.9,17.1 -1.3,19.7" fill="none" stroke="#f8c9a0" stroke-width="0.7" stroke-linecap="round"/>
<path d="M2.2,-1.0 Q5.0,1.0 2.3,3.1 Q0.9,5.1 3.5,7.2 Q6.2,9.2 3.6,11.2 Q1.8,13.3 5.1,15.3" fill="none" stroke="#d8636d" stroke-width="3.2" stroke-linecap="round" stroke-dasharray="1.2 0.8"/>
<path d="M2.2,-1.0 Q5.0,1.0 2.3,3.1 Q0.9,5.1 3.5,7.2 Q6.2,9.2 3.6,11.2 Q1.8,13.3 5.1,15.3" fill="none" stroke="#ee9b6c" stroke-width="1.5" stroke-linecap="round"/>
<path d="M2.2,-1.0 Q5.0,1.0 2.3,3.1 Q0.9,5.1 3.5,7.2 Q6.2,9.2 3.6,11.2 Q1.8,13.3 5.1,15.3" fill="none" stroke="#f8c9a0" stroke-width="0.7" stroke-linecap="round"/>
<path d="M-9.0,0 C-9.0,-13.0 9.0,-13.0 9.0,0 Q0,2.2 -9.0,0 Z" fill="#7fb3d2"/>
<path d="M-6.5,-0.5 L-3.6,-8.5" stroke="#c2e2ef" stroke-width="0.8" opacity="0.6"/>
<path d="M-3.9,-0.5 L-2.1,-8.5" stroke="#c2e2ef" stroke-width="0.8" opacity="0.6"/>
<path d="M-1.3,-0.5 L-0.7,-8.5" stroke="#c2e2ef" stroke-width="0.8" opacity="0.6"/>
<path d="M1.3,-0.5 L0.7,-8.5" stroke="#c2e2ef" stroke-width="0.8" opacity="0.6"/>
<path d="M3.9,-0.5 L2.1,-8.5" stroke="#c2e2ef" stroke-width="0.8" opacity="0.6"/>
<path d="M6.5,-0.5 L3.6,-8.5" stroke="#c2e2ef" stroke-width="0.8" opacity="0.6"/>
<path d="M-9.0,0 Q0,2.2 9.0,0" fill="none" stroke="#5d93b8" stroke-width="1.4"/></g>
<g transform="translate(78.0,96.0) rotate(-8)"><path d="M-7.1,0.0 Q-5.3,1.8 -8.3,3.6 Q-10.7,5.4 -7.9,7.2 Q-6.6,9.0 -9.2,10.8 Q-11.8,12.6 -10.2,14.4 Q-8.1,16.2 -10.5,18.0" fill="none" stroke="#d8636d" stroke-width="0.7"/>
<path d="M-4.3,0.0 Q-2.8,2.5 -3.9,5.0 Q-6.6,7.5 -5.0,10.0 Q-1.7,12.5 -4.4,15.0 Q-6.3,17.5 -4.7,20.0 Q-2.4,22.5 -4.4,25.0" fill="none" stroke="#e9a474" stroke-width="1.0"/>
<path d="M-1.4,0.0 Q0.7,2.3 -1.1,4.6 Q-4.0,6.9 -2.0,9.2 Q-0.4,11.5 -2.3,13.8 Q-4.0,16.1 -1.8,18.4 Q-0.2,20.7 -2.6,23.0" fill="none" stroke="#e9a474" stroke-width="0.7"/>
<path d="M1.4,0.0 Q3.7,1.7 0.3,3.4 Q-0.9,5.1 0.2,6.8 Q2.0,8.4 1.0,10.1 Q-1.7,11.8 0.1,13.5 Q2.1,15.2 -0.5,16.9" fill="none" stroke="#d8636d" stroke-width="0.8"/>
<path d="M4.3,0.0 Q6.6,2.3 4.9,4.7 Q2.6,7.0 5.6,9.3 Q7.2,11.6 6.5,14.0 Q3.7,16.3 7.1,18.6 Q8.7,21.0 6.8,23.3" fill="none" stroke="#e9a474" stroke-width="0.8"/>
<path d="M7.1,0.0 Q8.5,2.2 7.3,4.4 Q4.6,6.6 7.3,8.8 Q8.1,11.0 6.6,13.2 Q4.3,15.4 6.4,17.6 Q7.9,19.8 6.0,22.0" fill="none" stroke="#e9a474" stroke-width="0.6"/>
<path d="M-2.0,-1.0 Q0.2,1.4 -0.3,3.8 Q-2.9,6.2 -0.7,8.5 Q3.1,10.9 0.8,13.3 Q-0.4,15.7 2.2,18.1" fill="none" stroke="#d8636d" stroke-width="3.0" stroke-linecap="round" stroke-dasharray="1.2 0.8"/>
<path d="M-2.0,-1.0 Q0.2,1.4 -0.3,3.8 Q-2.9,6.2 -0.7,8.5 Q3.1,10.9 0.8,13.3 Q-0.4,15.7 2.2,18.1" fill="none" stroke="#ee9b6c" stroke-width="1.4" stroke-linecap="round"/>
<path d="M-2.0,-1.0 Q0.2,1.4 -0.3,3.8 Q-2.9,6.2 -0.7,8.5 Q3.1,10.9 0.8,13.3 Q-0.4,15.7 2.2,18.1" fill="none" stroke="#f8c9a0" stroke-width="0.7" stroke-linecap="round"/>
<path d="M2.0,-1.0 Q4.1,1.3 0.6,3.6 Q-1.8,6.0 -0.1,8.3 Q2.7,10.6 -1.4,12.9 Q-4.0,15.3 -1.9,17.6" fill="none" stroke="#d8636d" stroke-width="3.0" stroke-linecap="round" stroke-dasharray="1.2 0.8"/>
<path d="M2.0,-1.0 Q4.1,1.3 0.6,3.6 Q-1.8,6.0 -0.1,8.3 Q2.7,10.6 -1.4,12.9 Q-4.0,15.3 -1.9,17.6" fill="none" stroke="#ee9b6c" stroke-width="1.4" stroke-linecap="round"/>
<path d="M2.0,-1.0 Q4.1,1.3 0.6,3.6 Q-1.8,6.0 -0.1,8.3 Q2.7,10.6 -1.4,12.9 Q-4.0,15.3 -1.9,17.6" fill="none" stroke="#f8c9a0" stroke-width="0.7" stroke-linecap="round"/>
<path d="M-8.5,0 C-8.5,-13.0 8.5,-13.0 8.5,0 Q0,2.2 -8.5,0 Z" fill="#7fb3d2"/>
<path d="M-6.1,-0.5 L-3.4,-8.5" stroke="#c2e2ef" stroke-width="0.8" opacity="0.6"/>
<path d="M-3.7,-0.5 L-2.0,-8.5" stroke="#c2e2ef" stroke-width="0.8" opacity="0.6"/>
<path d="M-1.2,-0.5 L-0.7,-8.5" stroke="#c2e2ef" stroke-width="0.8" opacity="0.6"/>
<path d="M1.2,-0.5 L0.7,-8.5" stroke="#c2e2ef" stroke-width="0.8" opacity="0.6"/>
<path d="M3.7,-0.5 L2.0,-8.5" stroke="#c2e2ef" stroke-width="0.8" opacity="0.6"/>
<path d="M6.1,-0.5 L3.4,-8.5" stroke="#c2e2ef" stroke-width="0.8" opacity="0.6"/>
<path d="M-8.5,0 Q0,2.2 8.5,0" fill="none" stroke="#5d93b8" stroke-width="1.4"/></g></g>
<g id="tN"><rect width="100" height="100" fill="#2b4065"/><use href="#tN_c" x="-100" y="-100"/><use href="#tN_c" x="-100" y="0"/><use href="#tN_c" x="-100" y="100"/><use href="#tN_c" x="0" y="-100"/><use href="#tN_c" x="0" y="0"/><use href="#tN_c" x="0" y="100"/><use href="#tN_c" x="100" y="-100"/><use href="#tN_c" x="100" y="0"/><use href="#tN_c" x="100" y="100"/></g>
<g id="tB_c"><path d="M4.0,0.0 Q9.8,8.3 5.4,16.7 Q1.3,25.0 6.6,33.3 Q13.6,41.7 9.1,50.0 Q4.0,58.3 9.5,66.7 Q15.7,75.0 11.3,83.3 Q8.5,91.7 13.1,100.0" fill="none" stroke="#cdb877" stroke-width="0.7" opacity="0.75"/>
<path d="M20.0,0.0 Q26.4,8.3 21.0,16.7 Q18.5,25.0 23.1,33.3 Q26.9,41.7 24.9,50.0 Q19.5,58.3 25.2,66.7 Q32.1,75.0 27.5,83.3 Q23.0,91.7 29.0,100.0" fill="none" stroke="#cdb877" stroke-width="0.7" opacity="0.75"/>
<path d="M36.0,0.0 Q40.5,8.3 33.8,16.7 Q29.8,25.0 32.6,33.3 Q37.9,41.7 31.8,50.0 Q24.7,58.3 29.4,66.7 Q33.8,75.0 27.9,83.3 Q24.1,91.7 27.1,100.0" fill="none" stroke="#cdb877" stroke-width="0.7" opacity="0.75"/>
<path d="M52.0,0.0 Q56.3,8.3 50.1,16.7 Q44.7,25.0 49.9,33.3 Q51.7,41.7 47.8,50.0 Q42.9,58.3 46.1,66.7 Q51.8,75.0 45.8,83.3 Q38.6,91.7 43.7,100.0" fill="none" stroke="#cdb877" stroke-width="0.7" opacity="0.75"/>
<path d="M68.0,0.0 Q74.6,8.3 69.1,16.7 Q66.3,25.0 69.6,33.3 Q74.9,41.7 72.0,50.0 Q65.6,58.3 72.2,66.7 Q77.6,75.0 73.5,83.3 Q67.9,91.7 74.7,100.0" fill="none" stroke="#cdb877" stroke-width="0.7" opacity="0.75"/>
<path d="M84.0,0.0 Q88.1,8.3 84.1,16.7 Q79.9,25.0 85.7,33.3 Q91.2,41.7 86.1,50.0 Q82.2,58.3 87.8,66.7 Q93.4,75.0 87.6,83.3 Q84.4,91.7 88.7,100.0" fill="none" stroke="#cdb877" stroke-width="0.7" opacity="0.75"/>
<path d="M60.0,2.0 Q63.5,8.8 56.9,15.6 Q52.1,22.4 53.8,29.2 Q58.2,36.0 51.0,42.8 Q45.9,49.6 49.0,56.4 Q51.8,63.2 46.0,70.0" fill="none" stroke="#d8636d" stroke-width="4.5" stroke-linecap="round"/>
<path d="M60.0,2.0 Q63.5,8.8 56.9,15.6 Q52.1,22.4 53.8,29.2 Q58.2,36.0 51.0,42.8 Q45.9,49.6 49.0,56.4 Q51.8,63.2 46.0,70.0" fill="none" stroke="#f8c9a0" stroke-width="1.6" stroke-linecap="round" opacity="0.9"/>
<path d="M8.0,2.0 Q11.9,8.8 10.3,15.6 Q7.7,22.4 11.5,29.2 Q16.8,36.0 14.0,42.8 Q11.3,49.6 15.9,56.4 Q20.1,63.2 18.0,70.0" fill="none" stroke="#d8636d" stroke-width="4.5" stroke-linecap="round"/>
<path d="M8.0,2.0 Q11.9,8.8 10.3,15.6 Q7.7,22.4 11.5,29.2 Q16.8,36.0 14.0,42.8 Q11.3,49.6 15.9,56.4 Q20.1,63.2 18.0,70.0" fill="none" stroke="#f8c9a0" stroke-width="1.6" stroke-linecap="round" opacity="0.9"/>
<circle cx="5.5" cy="8.1" r="2.9" fill="#46587a" stroke="#cdc4b4" stroke-width="1.0"/>
<circle cx="5.8" cy="8.5" r="1.3" fill="#7a6a58"/>
<circle cx="4.2" cy="20.8" r="2.4" fill="#46587a" stroke="#cdc4b4" stroke-width="1.0"/>
<circle cx="4.5" cy="21.2" r="1.1" fill="#7a6a58"/>
<circle cx="11.4" cy="39.6" r="2.7" fill="#46587a" stroke="#cdc4b4" stroke-width="1.0"/>
<circle cx="11.7" cy="40.0" r="1.2" fill="#7a6a58"/>
<circle cx="5.2" cy="46.0" r="1.8" fill="#46587a" stroke="#cdc4b4" stroke-width="1.0"/>
<circle cx="5.5" cy="46.4" r="0.8" fill="#7a6a58"/>
<circle cx="5.6" cy="63.3" r="3.4" fill="#46587a" stroke="#cdc4b4" stroke-width="1.0"/>
<circle cx="5.9" cy="63.7" r="1.5" fill="#7a6a58"/>
<circle cx="7.7" cy="76.3" r="1.7" fill="#46587a" stroke="#cdc4b4" stroke-width="1.0"/>
<circle cx="8.0" cy="76.7" r="0.8" fill="#7a6a58"/>
<circle cx="4.0" cy="92.9" r="3.6" fill="#46587a" stroke="#cdc4b4" stroke-width="1.0"/>
<circle cx="4.3" cy="93.3" r="1.6" fill="#7a6a58"/>
<circle cx="18.7" cy="10.5" r="3.2" fill="#46587a" stroke="#cdc4b4" stroke-width="1.0"/>
<circle cx="19.0" cy="10.9" r="1.4" fill="#7a6a58"/>
<circle cx="24.9" cy="23.7" r="3.2" fill="#46587a" stroke="#cdc4b4" stroke-width="1.0"/>
<circle cx="25.2" cy="24.1" r="1.4" fill="#7a6a58"/>
<circle cx="25.6" cy="39.7" r="2.0" fill="#46587a" stroke="#cdc4b4" stroke-width="1.0"/>
<circle cx="25.9" cy="40.1" r="0.9" fill="#7a6a58"/>
<circle cx="23.3" cy="49.7" r="2.7" fill="#46587a" stroke="#cdc4b4" stroke-width="1.0"/>
<circle cx="23.6" cy="50.1" r="1.2" fill="#7a6a58"/>
<circle cx="25.1" cy="64.3" r="3.3" fill="#46587a" stroke="#cdc4b4" stroke-width="1.0"/>
<circle cx="25.4" cy="64.7" r="1.5" fill="#7a6a58"/>
<circle cx="24.7" cy="82.0" r="2.6" fill="#46587a" stroke="#cdc4b4" stroke-width="1.0"/>
<circle cx="25.0" cy="82.4" r="1.2" fill="#7a6a58"/>
<circle cx="25.0" cy="94.8" r="2.6" fill="#46587a" stroke="#cdc4b4" stroke-width="1.0"/>
<circle cx="25.3" cy="95.2" r="1.2" fill="#7a6a58"/>
<circle cx="34.2" cy="8.9" r="2.0" fill="#46587a" stroke="#cdc4b4" stroke-width="1.0"/>
<circle cx="34.5" cy="9.3" r="0.9" fill="#7a6a58"/>
<circle cx="39.2" cy="34.1" r="3.5" fill="#46587a" stroke="#cdc4b4" stroke-width="1.0"/>
<circle cx="39.5" cy="34.5" r="1.6" fill="#7a6a58"/>
<circle cx="35.8" cy="50.2" r="2.9" fill="#46587a" stroke="#cdc4b4" stroke-width="1.0"/>
<circle cx="36.1" cy="50.6" r="1.3" fill="#7a6a58"/>
<circle cx="34.1" cy="61.8" r="2.7" fill="#46587a" stroke="#cdc4b4" stroke-width="1.0"/>
<circle cx="34.4" cy="62.2" r="1.2" fill="#7a6a58"/>
<circle cx="32.1" cy="95.6" r="3.1" fill="#46587a" stroke="#cdc4b4" stroke-width="1.0"/>
<circle cx="32.4" cy="96.0" r="1.4" fill="#7a6a58"/>
<circle cx="52.1" cy="17.6" r="2.9" fill="#46587a" stroke="#cdc4b4" stroke-width="1.0"/>
<circle cx="52.4" cy="18.0" r="1.3" fill="#7a6a58"/>
<circle cx="47.7" cy="38.9" r="1.9" fill="#46587a" stroke="#cdc4b4" stroke-width="1.0"/>
<circle cx="48.0" cy="39.3" r="0.9" fill="#7a6a58"/>
<circle cx="53.0" cy="47.8" r="2.1" fill="#46587a" stroke="#cdc4b4" stroke-width="1.0"/>
<circle cx="53.3" cy="48.2" r="0.9" fill="#7a6a58"/>
<circle cx="51.9" cy="74.6" r="2.4" fill="#46587a" stroke="#cdc4b4" stroke-width="1.0"/>
<circle cx="52.2" cy="75.0" r="1.1" fill="#7a6a58"/>
<circle cx="51.5" cy="89.3" r="3.5" fill="#46587a" stroke="#cdc4b4" stroke-width="1.0"/>
<circle cx="51.8" cy="89.7" r="1.6" fill="#7a6a58"/>
<circle cx="66.3" cy="3.0" r="2.2" fill="#46587a" stroke="#cdc4b4" stroke-width="1.0"/>
<circle cx="66.6" cy="3.4" r="1.0" fill="#7a6a58"/>
<circle cx="61.6" cy="37.4" r="2.4" fill="#46587a" stroke="#cdc4b4" stroke-width="1.0"/>
<circle cx="61.9" cy="37.8" r="1.1" fill="#7a6a58"/>
<circle cx="68.5" cy="47.0" r="1.8" fill="#46587a" stroke="#cdc4b4" stroke-width="1.0"/>
<circle cx="68.8" cy="47.4" r="0.8" fill="#7a6a58"/>
<circle cx="65.3" cy="66.4" r="1.9" fill="#46587a" stroke="#cdc4b4" stroke-width="1.0"/>
<circle cx="65.6" cy="66.8" r="0.9" fill="#7a6a58"/>
<circle cx="60.3" cy="78.1" r="3.2" fill="#46587a" stroke="#cdc4b4" stroke-width="1.0"/>
<circle cx="60.6" cy="78.5" r="1.4" fill="#7a6a58"/>
<circle cx="67.7" cy="95.0" r="3.3" fill="#46587a" stroke="#cdc4b4" stroke-width="1.0"/>
<circle cx="68.0" cy="95.4" r="1.5" fill="#7a6a58"/>
<circle cx="78.3" cy="4.8" r="3.0" fill="#46587a" stroke="#cdc4b4" stroke-width="1.0"/>
<circle cx="78.6" cy="5.2" r="1.3" fill="#7a6a58"/>
<circle cx="75.2" cy="21.0" r="3.4" fill="#46587a" stroke="#cdc4b4" stroke-width="1.0"/>
<circle cx="75.5" cy="21.4" r="1.5" fill="#7a6a58"/>
<circle cx="79.3" cy="34.8" r="2.7" fill="#46587a" stroke="#cdc4b4" stroke-width="1.0"/>
<circle cx="79.6" cy="35.2" r="1.2" fill="#7a6a58"/>
<circle cx="82.5" cy="47.9" r="2.9" fill="#46587a" stroke="#cdc4b4" stroke-width="1.0"/>
<circle cx="82.8" cy="48.3" r="1.3" fill="#7a6a58"/>
<circle cx="74.4" cy="64.8" r="2.0" fill="#46587a" stroke="#cdc4b4" stroke-width="1.0"/>
<circle cx="74.7" cy="65.2" r="0.9" fill="#7a6a58"/>
<circle cx="74.6" cy="75.7" r="1.9" fill="#46587a" stroke="#cdc4b4" stroke-width="1.0"/>
<circle cx="74.9" cy="76.1" r="0.8" fill="#7a6a58"/>
<circle cx="78.6" cy="97.0" r="3.5" fill="#46587a" stroke="#cdc4b4" stroke-width="1.0"/>
<circle cx="78.9" cy="97.4" r="1.6" fill="#7a6a58"/>
<circle cx="92.4" cy="19.3" r="2.8" fill="#46587a" stroke="#cdc4b4" stroke-width="1.0"/>
<circle cx="92.7" cy="19.7" r="1.3" fill="#7a6a58"/>
<circle cx="95.4" cy="37.5" r="2.2" fill="#46587a" stroke="#cdc4b4" stroke-width="1.0"/>
<circle cx="95.7" cy="37.9" r="1.0" fill="#7a6a58"/>
<circle cx="93.1" cy="45.8" r="1.8" fill="#46587a" stroke="#cdc4b4" stroke-width="1.0"/>
<circle cx="93.4" cy="46.2" r="0.8" fill="#7a6a58"/>
<circle cx="89.5" cy="66.2" r="2.2" fill="#46587a" stroke="#cdc4b4" stroke-width="1.0"/>
<circle cx="89.8" cy="66.6" r="1.0" fill="#7a6a58"/>
<circle cx="90.1" cy="76.3" r="2.1" fill="#46587a" stroke="#cdc4b4" stroke-width="1.0"/>
<circle cx="90.4" cy="76.7" r="1.0" fill="#7a6a58"/>
<circle cx="92.6" cy="91.2" r="2.9" fill="#46587a" stroke="#cdc4b4" stroke-width="1.0"/>
<circle cx="92.9" cy="91.6" r="1.3" fill="#7a6a58"/>
<circle cx="21.2" cy="90.7" r="1.0" fill="#cdb877"/>
<circle cx="80.6" cy="42.6" r="0.5" fill="#cdb877"/>
<circle cx="5.1" cy="41.8" r="0.8" fill="#e07a5a"/>
<circle cx="92.1" cy="66.3" r="0.7" fill="#e07a5a"/>
<circle cx="51.9" cy="92.1" r="0.8" fill="#7fa8c8"/>
<circle cx="69.0" cy="93.2" r="0.7" fill="#cdb877"/>
<circle cx="41.2" cy="10.5" r="0.6" fill="#cdb877"/>
<circle cx="82.5" cy="81.2" r="0.5" fill="#cdb877"/>
<circle cx="48.6" cy="20.8" r="0.8" fill="#e07a5a"/>
<circle cx="0.5" cy="2.4" r="0.7" fill="#cdb877"/>
<circle cx="7.7" cy="75.5" r="0.6" fill="#cdb877"/>
<circle cx="37.3" cy="71.6" r="0.6" fill="#7fa8c8"/>
<circle cx="39.5" cy="12.2" r="0.6" fill="#e07a5a"/>
<circle cx="61.7" cy="33.4" r="0.7" fill="#e07a5a"/>
<circle cx="69.3" cy="2.5" r="0.8" fill="#e07a5a"/>
<circle cx="72.4" cy="49.8" r="0.7" fill="#7fa8c8"/>
<circle cx="14.1" cy="37.5" r="0.7" fill="#7fa8c8"/>
<circle cx="72.0" cy="72.8" r="0.7" fill="#7fa8c8"/>
<circle cx="83.6" cy="29.7" r="0.6" fill="#7fa8c8"/>
<circle cx="59.7" cy="54.9" r="0.8" fill="#cdb877"/>
<circle cx="91.9" cy="58.6" r="0.9" fill="#e07a5a"/>
<circle cx="7.1" cy="17.6" r="0.8" fill="#7fa8c8"/>
<circle cx="89.8" cy="79.9" r="1.0" fill="#cdb877"/>
<circle cx="98.9" cy="64.8" r="0.6" fill="#7fa8c8"/>
<circle cx="39.1" cy="70.8" r="0.9" fill="#7fa8c8"/>
<circle cx="43.9" cy="52.4" r="0.6" fill="#cdb877"/>
<circle cx="98.7" cy="96.9" r="0.7" fill="#7fa8c8"/>
<circle cx="51.7" cy="71.5" r="0.6" fill="#e07a5a"/>
<circle cx="46.1" cy="70.3" r="0.7" fill="#7fa8c8"/>
<circle cx="78.3" cy="57.3" r="0.6" fill="#7fa8c8"/>
<circle cx="71.9" cy="81.0" r="0.7" fill="#cdb877"/>
<circle cx="18.0" cy="51.0" r="0.7" fill="#7fa8c8"/>
<circle cx="25.4" cy="73.1" r="0.7" fill="#cdb877"/>
<circle cx="47.2" cy="96.2" r="0.7" fill="#cdb877"/>
<circle cx="91.2" cy="8.1" r="0.9" fill="#cdb877"/>
<circle cx="22.5" cy="62.1" r="0.7" fill="#cdb877"/>
<circle cx="38.3" cy="88.1" r="1.0" fill="#7fa8c8"/>
<circle cx="46.5" cy="71.2" r="0.9" fill="#cdb877"/>
<circle cx="17.7" cy="9.4" r="0.7" fill="#e07a5a"/>
<circle cx="72.9" cy="60.6" r="1.0" fill="#e07a5a"/>
<g transform="translate(20.0,22.0) rotate(-14)"><path d="M-10.5,0.0 Q-8.2,4.2 -9.3,8.4 Q-11.1,12.6 -9.2,16.7 Q-6.9,20.9 -7.9,25.1 Q-9.6,29.3 -8.7,33.5 Q-6.1,37.7 -7.4,41.9" fill="none" stroke="#d8636d" stroke-width="0.9"/>
<path d="M-7.5,0.0 Q-4.7,3.7 -6.9,7.4 Q-9.2,11.1 -5.7,14.8 Q-4.8,18.5 -5.1,22.2 Q-7.4,25.9 -5.9,29.6 Q-3.2,33.3 -4.8,37.0" fill="none" stroke="#e9a474" stroke-width="0.6"/>
<path d="M-4.5,0.0 Q-2.9,4.5 -4.5,8.9 Q-5.8,13.4 -3.3,17.8 Q-1.9,22.3 -3.9,26.7 Q-4.8,31.2 -3.6,35.6 Q-1.0,40.1 -2.5,44.5" fill="none" stroke="#e9a474" stroke-width="0.9"/>
<path d="M-1.5,0.0 Q0.5,4.0 -2.5,8.0 Q-3.6,12.0 -2.9,16.0 Q-0.7,20.0 -2.7,24.0 Q-5.4,28.0 -4.2,32.0 Q-2.2,36.0 -4.0,40.1" fill="none" stroke="#d8636d" stroke-width="0.6"/>
<path d="M1.5,0.0 Q3.8,4.1 1.7,8.2 Q-0.4,12.4 1.2,16.5 Q3.7,20.6 1.1,24.7 Q0.5,28.9 2.5,33.0 Q3.4,37.1 2.0,41.2" fill="none" stroke="#e9a474" stroke-width="0.6"/>
<path d="M4.5,0.0 Q6.3,3.8 5.0,7.6 Q2.5,11.4 4.4,15.2 Q7.5,19.0 4.8,22.7 Q3.4,26.5 5.7,30.3 Q7.4,34.1 6.2,37.9" fill="none" stroke="#e9a474" stroke-width="0.8"/>
<path d="M7.5,0.0 Q9.4,3.7 8.2,7.4 Q5.5,11.1 8.3,14.8 Q10.0,18.5 8.6,22.2 Q6.9,25.9 8.3,29.6 Q10.2,33.3 8.7,37.0" fill="none" stroke="#d8636d" stroke-width="0.7"/>
<path d="M10.5,0.0 Q12.7,3.5 9.6,7.1 Q7.8,10.6 9.3,14.2 Q10.9,17.7 8.9,21.3 Q5.5,24.8 6.9,28.4 Q8.7,31.9 6.8,35.5" fill="none" stroke="#e9a474" stroke-width="0.8"/>
<path d="M-5.5,-1.0 Q-3.9,3.2 -5.3,7.5 Q-8.2,11.7 -5.8,16.0 Q-3.7,20.2 -6.7,24.5 Q-9.1,28.7 -7.4,33.0" fill="none" stroke="#d8636d" stroke-width="4.2" stroke-linecap="round" stroke-dasharray="1.2 0.8"/>
<path d="M-5.5,-1.0 Q-3.9,3.2 -5.3,7.5 Q-8.2,11.7 -5.8,16.0 Q-3.7,20.2 -6.7,24.5 Q-9.1,28.7 -7.4,33.0" fill="none" stroke="#ee9b6c" stroke-width="2.0" stroke-linecap="round"/>
<path d="M-5.5,-1.0 Q-3.9,3.2 -5.3,7.5 Q-8.2,11.7 -5.8,16.0 Q-3.7,20.2 -6.7,24.5 Q-9.1,28.7 -7.4,33.0" fill="none" stroke="#f8c9a0" stroke-width="0.9" stroke-linecap="round"/>
<path d="M0.0,-1.0 Q2.4,4.0 -1.1,9.0 Q-3.2,14.0 -1.8,19.0 Q-0.8,24.0 -3.4,29.0 Q-7.0,34.0 -4.4,39.0" fill="none" stroke="#d8636d" stroke-width="4.2" stroke-linecap="round" stroke-dasharray="1.2 0.8"/>
<path d="M0.0,-1.0 Q2.4,4.0 -1.1,9.0 Q-3.2,14.0 -1.8,19.0 Q-0.8,24.0 -3.4,29.0 Q-7.0,34.0 -4.4,39.0" fill="none" stroke="#ee9b6c" stroke-width="2.0" stroke-linecap="round"/>
<path d="M0.0,-1.0 Q2.4,4.0 -1.1,9.0 Q-3.2,14.0 -1.8,19.0 Q-0.8,24.0 -3.4,29.0 Q-7.0,34.0 -4.4,39.0" fill="none" stroke="#f8c9a0" stroke-width="0.9" stroke-linecap="round"/>
<path d="M5.5,-1.0 Q7.6,3.8 6.8,8.5 Q4.6,13.3 7.9,18.0 Q9.6,22.8 9.3,27.5 Q7.4,32.3 9.7,37.0" fill="none" stroke="#d8636d" stroke-width="4.2" stroke-linecap="round" stroke-dasharray="1.2 0.8"/>
<path d="M5.5,-1.0 Q7.6,3.8 6.8,8.5 Q4.6,13.3 7.9,18.0 Q9.6,22.8 9.3,27.5 Q7.4,32.3 9.7,37.0" fill="none" stroke="#ee9b6c" stroke-width="2.0" stroke-linecap="round"/>
<path d="M5.5,-1.0 Q7.6,3.8 6.8,8.5 Q4.6,13.3 7.9,18.0 Q9.6,22.8 9.3,27.5 Q7.4,32.3 9.7,37.0" fill="none" stroke="#f8c9a0" stroke-width="0.9" stroke-linecap="round"/>
<path d="M-12.5,0 C-12.5,-19.5 12.5,-19.5 12.5,0 Q0,3.3 -12.5,0 Z" fill="#f0a66e"/>
<path d="M-9.0,-0.8 L-5.0,-12.8" stroke="#fbd3a6" stroke-width="1.1" opacity="0.6"/>
<path d="M-5.4,-0.8 L-3.0,-12.8" stroke="#fbd3a6" stroke-width="1.1" opacity="0.6"/>
<path d="M-1.8,-0.8 L-1.0,-12.8" stroke="#fbd3a6" stroke-width="1.1" opacity="0.6"/>
<path d="M1.8,-0.8 L1.0,-12.8" stroke="#fbd3a6" stroke-width="1.1" opacity="0.6"/>
<path d="M5.4,-0.8 L3.0,-12.8" stroke="#fbd3a6" stroke-width="1.1" opacity="0.6"/>
<path d="M9.0,-0.8 L5.0,-12.8" stroke="#fbd3a6" stroke-width="1.1" opacity="0.6"/>
<path d="M-12.5,0 Q0,3.3 12.5,0" fill="none" stroke="#da7350" stroke-width="2.0"/></g>
<g transform="translate(72.0,8.0) rotate(8)"><path d="M-9.2,0.0 Q-7.7,4.3 -10.2,8.7 Q-11.4,13.0 -9.3,17.3 Q-7.7,21.6 -10.6,26.0 Q-11.9,30.3 -10.6,34.6 Q-9.0,39.0 -10.4,43.3" fill="none" stroke="#d8636d" stroke-width="1.0"/>
<path d="M-6.6,0.0 Q-4.1,3.6 -5.8,7.2 Q-7.3,10.7 -6.1,14.3 Q-4.2,17.9 -6.3,21.5 Q-7.7,25.0 -4.7,28.6 Q-3.2,32.2 -5.0,35.8" fill="none" stroke="#e9a474" stroke-width="0.9"/>
<path d="M-4.0,0.0 Q-1.9,3.6 -3.4,7.3 Q-5.4,10.9 -3.8,14.6 Q-2.4,18.2 -3.7,21.9 Q-5.9,25.5 -3.8,29.2 Q-2.3,32.8 -3.6,36.4" fill="none" stroke="#e9a474" stroke-width="1.0"/>
<path d="M-1.3,0.0 Q0.3,4.3 -0.1,8.6 Q-2.6,13.0 -1.0,17.3 Q1.4,21.6 -0.7,25.9 Q-2.1,30.3 1.1,34.6 Q3.1,38.9 0.9,43.2" fill="none" stroke="#d8636d" stroke-width="0.9"/>
<path d="M1.3,0.0 Q3.5,3.6 0.6,7.2 Q0.1,10.8 1.5,14.4 Q3.1,18.0 2.2,21.6 Q-0.7,25.2 0.8,28.8 Q3.6,32.4 1.5,36.0" fill="none" stroke="#e9a474" stroke-width="0.6"/>
<path d="M4.0,0.0 Q6.6,4.1 4.5,8.2 Q3.8,12.3 5.8,16.4 Q8.0,20.6 5.9,24.7 Q5.0,28.8 7.5,32.9 Q8.9,37.0 7.6,41.1" fill="none" stroke="#e9a474" stroke-width="0.9"/>
<path d="M6.6,0.0 Q8.3,4.1 7.8,8.1 Q5.0,12.2 8.4,16.3 Q10.3,20.3 7.8,24.4 Q7.5,28.5 9.5,32.5 Q10.8,36.6 9.7,40.6" fill="none" stroke="#d8636d" stroke-width="0.9"/>
<path d="M9.2,0.0 Q10.5,3.7 9.1,7.5 Q6.4,11.2 8.0,14.9 Q10.0,18.6 7.9,22.4 Q5.6,26.1 8.1,29.8 Q9.0,33.6 7.0,37.3" fill="none" stroke="#e9a474" stroke-width="0.6"/>
<path d="M-4.8,-1.0 Q-2.6,2.9 -3.5,6.9 Q-4.8,10.8 -2.0,14.8 Q-0.4,18.7 -1.3,22.7 Q-3.2,26.6 -0.7,30.6" fill="none" stroke="#d8636d" stroke-width="3.7" stroke-linecap="round" stroke-dasharray="1.2 0.8"/>
<path d="M-4.8,-1.0 Q-2.6,2.9 -3.5,6.9 Q-4.8,10.8 -2.0,14.8 Q-0.4,18.7 -1.3,22.7 Q-3.2,26.6 -0.7,30.6" fill="none" stroke="#ee9b6c" stroke-width="1.7" stroke-linecap="round"/>
<path d="M-4.8,-1.0 Q-2.6,2.9 -3.5,6.9 Q-4.8,10.8 -2.0,14.8 Q-0.4,18.7 -1.3,22.7 Q-3.2,26.6 -0.7,30.6" fill="none" stroke="#f8c9a0" stroke-width="0.8" stroke-linecap="round"/>
<path d="M0.0,-1.0 Q3.2,2.7 0.2,6.4 Q-2.4,10.1 0.5,13.8 Q2.7,17.5 1.3,21.2 Q-0.7,24.9 1.1,28.6" fill="none" stroke="#d8636d" stroke-width="3.7" stroke-linecap="round" stroke-dasharray="1.2 0.8"/>
<path d="M0.0,-1.0 Q3.2,2.7 0.2,6.4 Q-2.4,10.1 0.5,13.8 Q2.7,17.5 1.3,21.2 Q-0.7,24.9 1.1,28.6" fill="none" stroke="#ee9b6c" stroke-width="1.7" stroke-linecap="round"/>
<path d="M0.0,-1.0 Q3.2,2.7 0.2,6.4 Q-2.4,10.1 0.5,13.8 Q2.7,17.5 1.3,21.2 Q-0.7,24.9 1.1,28.6" fill="none" stroke="#f8c9a0" stroke-width="0.8" stroke-linecap="round"/>
<path d="M4.8,-1.0 Q6.7,2.3 4.2,5.7 Q1.9,9.0 2.4,12.4 Q5.1,15.7 1.7,19.1 Q-0.3,22.4 1.6,25.8" fill="none" stroke="#d8636d" stroke-width="3.7" stroke-linecap="round" stroke-dasharray="1.2 0.8"/>
<path d="M4.8,-1.0 Q6.7,2.3 4.2,5.7 Q1.9,9.0 2.4,12.4 Q5.1,15.7 1.7,19.1 Q-0.3,22.4 1.6,25.8" fill="none" stroke="#ee9b6c" stroke-width="1.7" stroke-linecap="round"/>
<path d="M4.8,-1.0 Q6.7,2.3 4.2,5.7 Q1.9,9.0 2.4,12.4 Q5.1,15.7 1.7,19.1 Q-0.3,22.4 1.6,25.8" fill="none" stroke="#f8c9a0" stroke-width="0.8" stroke-linecap="round"/>
<path d="M-11.0,0 C-11.0,-16.9 11.0,-16.9 11.0,0 Q0,2.9 -11.0,0 Z" fill="#f0a66e"/>
<path d="M-7.9,-0.7 L-4.4,-11.0" stroke="#fbd3a6" stroke-width="1.0" opacity="0.6"/>
<path d="M-4.8,-0.7 L-2.6,-11.0" stroke="#fbd3a6" stroke-width="1.0" opacity="0.6"/>
<path d="M-1.6,-0.7 L-0.9,-11.0" stroke="#fbd3a6" stroke-width="1.0" opacity="0.6"/>
<path d="M1.6,-0.7 L0.9,-11.0" stroke="#fbd3a6" stroke-width="1.0" opacity="0.6"/>
<path d="M4.8,-0.7 L2.6,-11.0" stroke="#fbd3a6" stroke-width="1.0" opacity="0.6"/>
<path d="M7.9,-0.7 L4.4,-11.0" stroke="#fbd3a6" stroke-width="1.0" opacity="0.6"/>
<path d="M-11.0,0 Q0,2.9 11.0,0" fill="none" stroke="#da7350" stroke-width="1.8"/></g>
<g transform="translate(46.0,62.0) rotate(-18)"><path d="M-10.1,0.0 Q-7.8,4.3 -11.0,8.7 Q-13.1,13.0 -11.6,17.4 Q-9.6,21.7 -11.8,26.1 Q-14.5,30.4 -12.0,34.8 Q-11.0,39.1 -13.5,43.5" fill="none" stroke="#d8636d" stroke-width="0.7"/>
<path d="M-7.2,0.0 Q-5.1,4.4 -7.8,8.8 Q-9.8,13.2 -7.7,17.7 Q-5.4,22.1 -8.4,26.5 Q-9.5,30.9 -8.7,35.3 Q-6.3,39.7 -8.2,44.2" fill="none" stroke="#e9a474" stroke-width="0.7"/>
<path d="M-4.3,0.0 Q-2.1,3.7 -4.3,7.4 Q-6.4,11.1 -4.8,14.8 Q-3.5,18.4 -4.3,22.1 Q-7.6,25.8 -5.2,29.5 Q-4.0,33.2 -5.5,36.9" fill="none" stroke="#e9a474" stroke-width="1.0"/>
<path d="M-1.4,0.0 Q0.1,3.4 -2.1,6.8 Q-4.5,10.2 -2.9,13.6 Q-1.3,17.0 -2.9,20.4 Q-4.3,23.8 -3.0,27.2 Q-1.6,30.6 -3.7,34.0" fill="none" stroke="#d8636d" stroke-width="0.9"/>
<path d="M1.4,0.0 Q4.1,3.7 2.1,7.4 Q-0.0,11.1 2.2,14.8 Q5.0,18.6 4.3,22.3 Q2.6,26.0 3.9,29.7 Q6.2,33.4 4.9,37.1" fill="none" stroke="#e9a474" stroke-width="0.7"/>
<path d="M4.3,0.0 Q7.1,3.6 4.7,7.3 Q3.1,10.9 5.3,14.5 Q7.6,18.2 7.5,21.8 Q5.9,25.5 7.7,29.1 Q9.4,32.7 8.3,36.4" fill="none" stroke="#e9a474" stroke-width="0.8"/>
<path d="M7.2,0.0 Q9.2,4.4 7.3,8.8 Q5.4,13.2 7.1,17.6 Q8.0,22.0 6.5,26.4 Q3.8,30.8 6.5,35.2 Q7.8,39.6 5.7,44.0" fill="none" stroke="#d8636d" stroke-width="0.8"/>
<path d="M10.1,0.0 Q11.8,4.8 10.0,9.7 Q6.7,14.5 9.3,19.4 Q10.3,24.2 8.4,29.1 Q6.7,33.9 7.5,38.8 Q10.0,43.6 7.3,48.5" fill="none" stroke="#e9a474" stroke-width="0.9"/>
<path d="M-5.3,-1.0 Q-3.6,3.0 -5.6,7.0 Q-9.4,11.0 -7.2,15.0 Q-5.8,19.1 -8.3,23.1 Q-10.6,27.1 -8.6,31.1" fill="none" stroke="#d8636d" stroke-width="4.0" stroke-linecap="round" stroke-dasharray="1.2 0.8"/>
<path d="M-5.3,-1.0 Q-3.6,3.0 -5.6,7.0 Q-9.4,11.0 -7.2,15.0 Q-5.8,19.1 -8.3,23.1 Q-10.6,27.1 -8.6,31.1" fill="none" stroke="#ee9b6c" stroke-width="1.9" stroke-linecap="round"/>
<path d="M-5.3,-1.0 Q-3.6,3.0 -5.6,7.0 Q-9.4,11.0 -7.2,15.0 Q-5.8,19.1 -8.3,23.1 Q-10.6,27.1 -8.6,31.1" fill="none" stroke="#f8c9a0" stroke-width="0.9" stroke-linecap="round"/>
<path d="M0.0,-1.0 Q2.5,2.2 -0.2,5.4 Q-2.5,8.6 -1.4,11.8 Q1.2,15.0 -0.9,18.2 Q-2.7,21.5 -1.4,24.7" fill="none" stroke="#d8636d" stroke-width="4.0" stroke-linecap="round" stroke-dasharray="1.2 0.8"/>
<path d="M0.0,-1.0 Q2.5,2.2 -0.2,5.4 Q-2.5,8.6 -1.4,11.8 Q1.2,15.0 -0.9,18.2 Q-2.7,21.5 -1.4,24.7" fill="none" stroke="#ee9b6c" stroke-width="1.9" stroke-linecap="round"/>
<path d="M0.0,-1.0 Q2.5,2.2 -0.2,5.4 Q-2.5,8.6 -1.4,11.8 Q1.2,15.0 -0.9,18.2 Q-2.7,21.5 -1.4,24.7" fill="none" stroke="#f8c9a0" stroke-width="0.9" stroke-linecap="round"/>
<path d="M5.3,-1.0 Q6.3,2.2 4.5,5.4 Q1.2,8.7 3.5,11.9 Q4.8,15.1 2.1,18.3 Q0.4,21.5 1.4,24.7" fill="none" stroke="#d8636d" stroke-width="4.0" stroke-linecap="round" stroke-dasharray="1.2 0.8"/>
<path d="M5.3,-1.0 Q6.3,2.2 4.5,5.4 Q1.2,8.7 3.5,11.9 Q4.8,15.1 2.1,18.3 Q0.4,21.5 1.4,24.7" fill="none" stroke="#ee9b6c" stroke-width="1.9" stroke-linecap="round"/>
<path d="M5.3,-1.0 Q6.3,2.2 4.5,5.4 Q1.2,8.7 3.5,11.9 Q4.8,15.1 2.1,18.3 Q0.4,21.5 1.4,24.7" fill="none" stroke="#f8c9a0" stroke-width="0.9" stroke-linecap="round"/>
<path d="M-12.0,0 C-12.0,-18.2 12.0,-18.2 12.0,0 Q0,3.1 -12.0,0 Z" fill="#f0a66e"/>
<path d="M-8.6,-0.7 L-4.8,-11.9" stroke="#fbd3a6" stroke-width="1.1" opacity="0.6"/>
<path d="M-5.2,-0.7 L-2.9,-11.9" stroke="#fbd3a6" stroke-width="1.1" opacity="0.6"/>
<path d="M-1.7,-0.7 L-1.0,-11.9" stroke="#fbd3a6" stroke-width="1.1" opacity="0.6"/>
<path d="M1.7,-0.7 L1.0,-11.9" stroke="#fbd3a6" stroke-width="1.1" opacity="0.6"/>
<path d="M5.2,-0.7 L2.9,-11.9" stroke="#fbd3a6" stroke-width="1.1" opacity="0.6"/>
<path d="M8.6,-0.7 L4.8,-11.9" stroke="#fbd3a6" stroke-width="1.1" opacity="0.6"/>
<path d="M-12.0,0 Q0,3.1 12.0,0" fill="none" stroke="#da7350" stroke-width="1.9"/></g>
<g transform="translate(94.0,74.0) rotate(12)"><path d="M-8.4,0.0 Q-5.9,3.0 -8.2,5.9 Q-10.4,8.9 -7.6,11.9 Q-7.0,14.9 -7.9,17.8 Q-9.8,20.8 -8.7,23.8 Q-6.6,26.7 -8.3,29.7" fill="none" stroke="#d8636d" stroke-width="0.9"/>
<path d="M-6.0,0.0 Q-4.0,3.7 -5.9,7.4 Q-6.5,11.2 -5.0,14.9 Q-2.3,18.6 -3.9,22.3 Q-4.9,26.0 -3.6,29.7 Q-0.4,33.5 -2.5,37.2" fill="none" stroke="#e9a474" stroke-width="0.9"/>
<path d="M-3.6,0.0 Q-2.1,3.9 -4.4,7.9 Q-6.9,11.8 -4.6,15.8 Q-3.4,19.7 -5.7,23.7 Q-7.8,27.6 -5.7,31.6 Q-4.3,35.5 -6.8,39.5" fill="none" stroke="#e9a474" stroke-width="0.6"/>
<path d="M-1.2,0.0 Q0.0,3.2 -1.5,6.4 Q-4.4,9.6 -3.3,12.9 Q-1.3,16.1 -3.3,19.3 Q-5.7,22.5 -4.6,25.7 Q-2.4,28.9 -5.0,32.2" fill="none" stroke="#d8636d" stroke-width="0.7"/>
<path d="M1.2,0.0 Q3.5,3.2 2.5,6.5 Q0.7,9.7 3.4,13.0 Q5.2,16.2 3.6,19.5 Q2.4,22.7 4.1,26.0 Q6.7,29.2 5.2,32.5" fill="none" stroke="#e9a474" stroke-width="0.9"/>
<path d="M3.6,0.0 Q5.8,3.9 2.4,7.8 Q0.7,11.8 2.1,15.7 Q3.6,19.6 2.7,23.5 Q0.1,27.4 1.2,31.4 Q3.3,35.3 0.8,39.2" fill="none" stroke="#e9a474" stroke-width="0.8"/>
<path d="M6.0,0.0 Q8.2,4.1 6.0,8.2 Q4.6,12.3 6.7,16.4 Q9.3,20.5 7.5,24.6 Q5.9,28.7 8.1,32.8 Q11.2,36.9 9.2,41.0" fill="none" stroke="#d8636d" stroke-width="0.8"/>
<path d="M8.4,0.0 Q10.2,3.8 8.1,7.5 Q6.4,11.3 9.0,15.1 Q10.6,18.9 8.4,22.6 Q7.6,26.4 9.0,30.2 Q11.3,34.0 9.3,37.7" fill="none" stroke="#e9a474" stroke-width="0.7"/>
<path d="M-4.4,-1.0 Q-3.2,2.2 -5.2,5.4 Q-8.8,8.7 -6.8,11.9 Q-5.9,15.1 -7.8,18.3 Q-10.9,21.6 -9.3,24.8" fill="none" stroke="#d8636d" stroke-width="3.4" stroke-linecap="round" stroke-dasharray="1.2 0.8"/>
<path d="M-4.4,-1.0 Q-3.2,2.2 -5.2,5.4 Q-8.8,8.7 -6.8,11.9 Q-5.9,15.1 -7.8,18.3 Q-10.9,21.6 -9.3,24.8" fill="none" stroke="#ee9b6c" stroke-width="1.6" stroke-linecap="round"/>
<path d="M-4.4,-1.0 Q-3.2,2.2 -5.2,5.4 Q-8.8,8.7 -6.8,11.9 Q-5.9,15.1 -7.8,18.3 Q-10.9,21.6 -9.3,24.8" fill="none" stroke="#f8c9a0" stroke-width="0.7" stroke-linecap="round"/>
<path d="M0.0,-1.0 Q2.0,2.7 0.3,6.3 Q-1.4,10.0 0.7,13.7 Q3.4,17.4 2.3,21.0 Q0.8,24.7 2.6,28.4" fill="none" stroke="#d8636d" stroke-width="3.4" stroke-linecap="round" stroke-dasharray="1.2 0.8"/>
<path d="M0.0,-1.0 Q2.0,2.7 0.3,6.3 Q-1.4,10.0 0.7,13.7 Q3.4,17.4 2.3,21.0 Q0.8,24.7 2.6,28.4" fill="none" stroke="#ee9b6c" stroke-width="1.6" stroke-linecap="round"/>
<path d="M0.0,-1.0 Q2.0,2.7 0.3,6.3 Q-1.4,10.0 0.7,13.7 Q3.4,17.4 2.3,21.0 Q0.8,24.7 2.6,28.4" fill="none" stroke="#f8c9a0" stroke-width="0.7" stroke-linecap="round"/>
<path d="M4.4,-1.0 Q7.0,1.8 4.1,4.6 Q0.7,7.3 3.6,10.1 Q4.6,12.9 3.0,15.7 Q0.1,18.5 1.9,21.3" fill="none" stroke="#d8636d" stroke-width="3.4" stroke-linecap="round" stroke-dasharray="1.2 0.8"/>
<path d="M4.4,-1.0 Q7.0,1.8 4.1,4.6 Q0.7,7.3 3.6,10.1 Q4.6,12.9 3.0,15.7 Q0.1,18.5 1.9,21.3" fill="none" stroke="#ee9b6c" stroke-width="1.6" stroke-linecap="round"/>
<path d="M4.4,-1.0 Q7.0,1.8 4.1,4.6 Q0.7,7.3 3.6,10.1 Q4.6,12.9 3.0,15.7 Q0.1,18.5 1.9,21.3" fill="none" stroke="#f8c9a0" stroke-width="0.7" stroke-linecap="round"/>
<path d="M-10.0,0 C-10.0,-15.6 10.0,-15.6 10.0,0 Q0,2.6 -10.0,0 Z" fill="#f0a66e"/>
<path d="M-7.2,-0.6 L-4.0,-10.2" stroke="#fbd3a6" stroke-width="0.9" opacity="0.6"/>
<path d="M-4.3,-0.6 L-2.4,-10.2" stroke="#fbd3a6" stroke-width="0.9" opacity="0.6"/>
<path d="M-1.4,-0.6 L-0.8,-10.2" stroke="#fbd3a6" stroke-width="0.9" opacity="0.6"/>
<path d="M1.4,-0.6 L0.8,-10.2" stroke="#fbd3a6" stroke-width="0.9" opacity="0.6"/>
<path d="M4.3,-0.6 L2.4,-10.2" stroke="#fbd3a6" stroke-width="0.9" opacity="0.6"/>
<path d="M7.2,-0.6 L4.0,-10.2" stroke="#fbd3a6" stroke-width="0.9" opacity="0.6"/>
<path d="M-10.0,0 Q0,2.6 10.0,0" fill="none" stroke="#da7350" stroke-width="1.6"/></g>
<g transform="translate(52.0,26.0) rotate(-4)"><path d="M-8.0,0.0 Q-5.2,2.0 -7.1,4.1 Q-8.8,6.1 -7.1,8.2 Q-5.5,10.2 -7.0,12.3 Q-8.3,14.3 -5.5,16.4 Q-4.3,18.4 -5.5,20.5" fill="none" stroke="#d8636d" stroke-width="0.9"/>
<path d="M-4.8,0.0 Q-2.5,2.5 -5.4,5.0 Q-6.5,7.6 -5.3,10.1 Q-2.7,12.6 -5.5,15.1 Q-7.8,17.6 -6.1,20.1 Q-3.4,22.7 -5.8,25.2" fill="none" stroke="#e9a474" stroke-width="0.9"/>
<path d="M-1.6,0.0 Q-0.4,2.2 -2.4,4.3 Q-3.5,6.5 -1.9,8.7 Q0.3,10.8 -2.6,13.0 Q-4.9,15.1 -3.0,17.3 Q-0.7,19.5 -2.7,21.6" fill="none" stroke="#e9a474" stroke-width="0.9"/>
<path d="M1.6,0.0 Q4.5,2.9 1.6,5.8 Q0.1,8.7 2.1,11.6 Q5.0,14.5 3.3,17.4 Q2.0,20.3 3.5,23.2 Q6.3,26.1 4.8,29.0" fill="none" stroke="#d8636d" stroke-width="0.9"/>
<path d="M4.8,0.0 Q7.2,2.0 4.8,3.9 Q3.2,5.9 5.0,7.8 Q7.6,9.8 5.6,11.7 Q3.3,13.7 5.2,15.7 Q7.8,17.6 6.1,19.6" fill="none" stroke="#e9a474" stroke-width="1.0"/>
<path d="M8.0,0.0 Q9.8,2.1 8.0,4.1 Q5.5,6.2 6.0,8.2 Q8.2,10.3 5.7,12.4 Q2.8,14.4 4.3,16.5 Q5.9,18.6 4.2,20.6" fill="none" stroke="#e9a474" stroke-width="0.7"/>
<path d="M-2.3,-1.0 Q-0.1,1.1 -3.1,3.3 Q-5.0,5.4 -2.9,7.6 Q-0.9,9.7 -3.4,11.9 Q-4.9,14.0 -3.0,16.2" fill="none" stroke="#d8636d" stroke-width="3.3" stroke-linecap="round" stroke-dasharray="1.2 0.8"/>
<path d="M-2.3,-1.0 Q-0.1,1.1 -3.1,3.3 Q-5.0,5.4 -2.9,7.6 Q-0.9,9.7 -3.4,11.9 Q-4.9,14.0 -3.0,16.2" fill="none" stroke="#ee9b6c" stroke-width="1.6" stroke-linecap="round"/>
<path d="M-2.3,-1.0 Q-0.1,1.1 -3.1,3.3 Q-5.0,5.4 -2.9,7.6 Q-0.9,9.7 -3.4,11.9 Q-4.9,14.0 -3.0,16.2" fill="none" stroke="#f8c9a0" stroke-width="0.7" stroke-linecap="round"/>
<path d="M2.3,-1.0 Q4.6,1.9 2.4,4.7 Q-0.7,7.6 0.6,10.5 Q3.5,13.3 1.1,16.2 Q-2.6,19.0 0.3,21.9" fill="none" stroke="#d8636d" stroke-width="3.3" stroke-linecap="round" stroke-dasharray="1.2 0.8"/>
<path d="M2.3,-1.0 Q4.6,1.9 2.4,4.7 Q-0.7,7.6 0.6,10.5 Q3.5,13.3 1.1,16.2 Q-2.6,19.0 0.3,21.9" fill="none" stroke="#ee9b6c" stroke-width="1.6" stroke-linecap="round"/>
<path d="M2.3,-1.0 Q4.6,1.9 2.4,4.7 Q-0.7,7.6 0.6,10.5 Q3.5,13.3 1.1,16.2 Q-2.6,19.0 0.3,21.9" fill="none" stroke="#f8c9a0" stroke-width="0.7" stroke-linecap="round"/>
<path d="M-9.5,0 C-9.5,-14.3 9.5,-14.3 9.5,0 Q0,2.4 -9.5,0 Z" fill="#7fb3d2"/>
<path d="M-6.8,-0.6 L-3.8,-9.3" stroke="#c2e2ef" stroke-width="0.9" opacity="0.6"/>
<path d="M-4.1,-0.6 L-2.3,-9.3" stroke="#c2e2ef" stroke-width="0.9" opacity="0.6"/>
<path d="M-1.4,-0.6 L-0.8,-9.3" stroke="#c2e2ef" stroke-width="0.9" opacity="0.6"/>
<path d="M1.4,-0.6 L0.8,-9.3" stroke="#c2e2ef" stroke-width="0.9" opacity="0.6"/>
<path d="M4.1,-0.6 L2.3,-9.3" stroke="#c2e2ef" stroke-width="0.9" opacity="0.6"/>
<path d="M6.8,-0.6 L3.8,-9.3" stroke="#c2e2ef" stroke-width="0.9" opacity="0.6"/>
<path d="M-9.5,0 Q0,2.4 9.5,0" fill="none" stroke="#5d93b8" stroke-width="1.5"/></g>
<g transform="translate(14.0,66.0) rotate(6)"><path d="M-7.6,0.0 Q-6.3,2.6 -8.0,5.3 Q-10.2,7.9 -7.4,10.6 Q-6.3,13.2 -8.0,15.9 Q-10.2,18.5 -7.9,21.1 Q-6.6,23.8 -7.9,26.4" fill="none" stroke="#d8636d" stroke-width="1.0"/>
<path d="M-4.5,0.0 Q-2.8,2.4 -5.2,4.8 Q-8.0,7.2 -6.2,9.7 Q-4.0,12.1 -6.9,14.5 Q-9.2,16.9 -7.5,19.3 Q-5.3,21.7 -7.5,24.2" fill="none" stroke="#e9a474" stroke-width="0.9"/>
<path d="M-1.5,0.0 Q1.2,1.9 -0.4,3.8 Q-2.2,5.7 0.1,7.6 Q1.5,9.5 -0.2,11.4 Q-0.8,13.3 0.6,15.1 Q3.6,17.0 1.6,18.9" fill="none" stroke="#e9a474" stroke-width="0.8"/>
<path d="M1.5,0.0 Q3.4,2.7 2.2,5.3 Q1.4,8.0 3.2,10.6 Q5.5,13.3 4.0,15.9 Q2.9,18.6 4.8,21.3 Q6.4,23.9 5.4,26.6" fill="none" stroke="#d8636d" stroke-width="0.9"/>
<path d="M4.5,0.0 Q7.1,1.9 5.2,3.8 Q2.8,5.7 5.1,7.6 Q6.0,9.5 4.4,11.4 Q2.3,13.3 4.8,15.2 Q5.6,17.1 4.2,19.0" fill="none" stroke="#e9a474" stroke-width="0.6"/>
<path d="M7.6,0.0 Q9.6,2.2 7.4,4.3 Q5.4,6.5 6.8,8.7 Q7.6,10.8 5.1,13.0 Q3.7,15.2 6.0,17.4 Q7.5,19.5 4.7,21.7" fill="none" stroke="#e9a474" stroke-width="0.8"/>
<path d="M-2.2,-1.0 Q-0.1,0.9 -0.7,2.9 Q-3.6,4.8 -1.2,6.8 Q1.7,8.7 0.5,10.7 Q-1.1,12.6 0.8,14.6" fill="none" stroke="#d8636d" stroke-width="3.2" stroke-linecap="round" stroke-dasharray="1.2 0.8"/>
<path d="M-2.2,-1.0 Q-0.1,0.9 -0.7,2.9 Q-3.6,4.8 -1.2,6.8 Q1.7,8.7 0.5,10.7 Q-1.1,12.6 0.8,14.6" fill="none" stroke="#ee9b6c" stroke-width="1.5" stroke-linecap="round"/>
<path d="M-2.2,-1.0 Q-0.1,0.9 -0.7,2.9 Q-3.6,4.8 -1.2,6.8 Q1.7,8.7 0.5,10.7 Q-1.1,12.6 0.8,14.6" fill="none" stroke="#f8c9a0" stroke-width="0.7" stroke-linecap="round"/>
<path d="M2.2,-1.0 Q3.6,1.5 1.2,4.0 Q-1.2,6.5 0.6,9.0 Q2.2,11.5 -0.6,14.0 Q-3.4,16.5 -1.0,19.0" fill="none" stroke="#d8636d" stroke-width="3.2" stroke-linecap="round" stroke-dasharray="1.2 0.8"/>
<path d="M2.2,-1.0 Q3.6,1.5 1.2,4.0 Q-1.2,6.5 0.6,9.0 Q2.2,11.5 -0.6,14.0 Q-3.4,16.5 -1.0,19.0" fill="none" stroke="#ee9b6c" stroke-width="1.5" stroke-linecap="round"/>
<path d="M2.2,-1.0 Q3.6,1.5 1.2,4.0 Q-1.2,6.5 0.6,9.0 Q2.2,11.5 -0.6,14.0 Q-3.4,16.5 -1.0,19.0" fill="none" stroke="#f8c9a0" stroke-width="0.7" stroke-linecap="round"/>
<path d="M-9.0,0 C-9.0,-13.0 9.0,-13.0 9.0,0 Q0,2.2 -9.0,0 Z" fill="#7fb3d2"/>
<path d="M-6.5,-0.5 L-3.6,-8.5" stroke="#c2e2ef" stroke-width="0.8" opacity="0.6"/>
<path d="M-3.9,-0.5 L-2.1,-8.5" stroke="#c2e2ef" stroke-width="0.8" opacity="0.6"/>
<path d="M-1.3,-0.5 L-0.7,-8.5" stroke="#c2e2ef" stroke-width="0.8" opacity="0.6"/>
<path d="M1.3,-0.5 L0.7,-8.5" stroke="#c2e2ef" stroke-width="0.8" opacity="0.6"/>
<path d="M3.9,-0.5 L2.1,-8.5" stroke="#c2e2ef" stroke-width="0.8" opacity="0.6"/>
<path d="M6.5,-0.5 L3.6,-8.5" stroke="#c2e2ef" stroke-width="0.8" opacity="0.6"/>
<path d="M-9.0,0 Q0,2.2 9.0,0" fill="none" stroke="#5d93b8" stroke-width="1.4"/></g>
<g transform="translate(78.0,96.0) rotate(-8)"><path d="M-7.1,0.0 Q-4.5,2.4 -6.8,4.8 Q-7.7,7.3 -5.3,9.7 Q-3.0,12.1 -5.7,14.5 Q-6.0,16.9 -3.6,19.3 Q-2.5,21.8 -3.5,24.2" fill="none" stroke="#d8636d" stroke-width="0.9"/>
<path d="M-4.3,0.0 Q-2.0,2.2 -4.4,4.4 Q-6.4,6.7 -5.1,8.9 Q-2.9,11.1 -4.9,13.3 Q-7.0,15.5 -5.4,17.7 Q-3.6,20.0 -5.6,22.2" fill="none" stroke="#e9a474" stroke-width="0.7"/>
<path d="M-1.4,0.0 Q-0.3,2.2 -1.8,4.3 Q-4.5,6.5 -1.9,8.6 Q-1.2,10.8 -3.1,12.9 Q-5.7,15.1 -3.7,17.2 Q-1.1,19.4 -4.0,21.5" fill="none" stroke="#e9a474" stroke-width="0.7"/>
<path d="M1.4,0.0 Q3.8,1.7 2.5,3.4 Q0.3,5.1 2.7,6.7 Q5.3,8.4 3.9,10.1 Q1.9,11.8 3.6,13.5 Q5.1,15.2 4.2,16.9" fill="none" stroke="#d8636d" stroke-width="0.8"/>
<path d="M4.3,0.0 Q6.1,1.8 3.1,3.6 Q2.0,5.4 2.4,7.2 Q5.2,9.0 2.2,10.7 Q1.0,12.5 2.2,14.3 Q3.9,16.1 1.4,17.9" fill="none" stroke="#e9a474" stroke-width="0.9"/>
<path d="M7.1,0.0 Q9.4,2.1 6.9,4.2 Q4.9,6.4 7.6,8.5 Q9.7,10.6 8.0,12.7 Q5.0,14.8 7.5,17.0 Q9.4,19.1 7.5,21.2" fill="none" stroke="#e9a474" stroke-width="0.9"/>
<path d="M-2.0,-1.0 Q1.0,0.7 -2.3,2.3 Q-4.0,4.0 -1.7,5.6 Q0.1,7.3 -1.3,9.0 Q-3.8,10.6 -1.2,12.3" fill="none" stroke="#d8636d" stroke-width="3.0" stroke-linecap="round" stroke-dasharray="1.2 0.8"/>
<path d="M-2.0,-1.0 Q1.0,0.7 -2.3,2.3 Q-4.0,4.0 -1.7,5.6 Q0.1,7.3 -1.3,9.0 Q-3.8,10.6 -1.2,12.3" fill="none" stroke="#ee9b6c" stroke-width="1.4" stroke-linecap="round"/>
<path d="M-2.0,-1.0 Q1.0,0.7 -2.3,2.3 Q-4.0,4.0 -1.7,5.6 Q0.1,7.3 -1.3,9.0 Q-3.8,10.6 -1.2,12.3" fill="none" stroke="#f8c9a0" stroke-width="0.7" stroke-linecap="round"/>
<path d="M2.0,-1.0 Q4.4,1.1 2.9,3.3 Q0.2,5.4 3.8,7.6 Q6.9,9.7 3.6,11.9 Q2.2,14.0 5.2,16.1" fill="none" stroke="#d8636d" stroke-width="3.0" stroke-linecap="round" stroke-dasharray="1.2 0.8"/>
<path d="M2.0,-1.0 Q4.4,1.1 2.9,3.3 Q0.2,5.4 3.8,7.6 Q6.9,9.7 3.6,11.9 Q2.2,14.0 5.2,16.1" fill="none" stroke="#ee9b6c" stroke-width="1.4" stroke-linecap="round"/>
<path d="M2.0,-1.0 Q4.4,1.1 2.9,3.3 Q0.2,5.4 3.8,7.6 Q6.9,9.7 3.6,11.9 Q2.2,14.0 5.2,16.1" fill="none" stroke="#f8c9a0" stroke-width="0.7" stroke-linecap="round"/>
<path d="M-8.5,0 C-8.5,-13.0 8.5,-13.0 8.5,0 Q0,2.2 -8.5,0 Z" fill="#7fb3d2"/>
<path d="M-6.1,-0.5 L-3.4,-8.5" stroke="#c2e2ef" stroke-width="0.8" opacity="0.6"/>
<path d="M-3.7,-0.5 L-2.0,-8.5" stroke="#c2e2ef" stroke-width="0.8" opacity="0.6"/>
<path d="M-1.2,-0.5 L-0.7,-8.5" stroke="#c2e2ef" stroke-width="0.8" opacity="0.6"/>
<path d="M1.2,-0.5 L0.7,-8.5" stroke="#c2e2ef" stroke-width="0.8" opacity="0.6"/>
<path d="M3.7,-0.5 L2.0,-8.5" stroke="#c2e2ef" stroke-width="0.8" opacity="0.6"/>
<path d="M6.1,-0.5 L3.4,-8.5" stroke="#c2e2ef" stroke-width="0.8" opacity="0.6"/>
<path d="M-8.5,0 Q0,2.2 8.5,0" fill="none" stroke="#5d93b8" stroke-width="1.4"/></g></g>
<g id="tB"><rect width="100" height="100" fill="#1c2f53"/><use href="#tB_c" x="-100" y="-100"/><use href="#tB_c" x="-100" y="0"/><use href="#tB_c" x="-100" y="100"/><use href="#tB_c" x="0" y="-100"/><use href="#tB_c" x="0" y="0"/><use href="#tB_c" x="0" y="100"/><use href="#tB_c" x="100" y="-100"/><use href="#tB_c" x="100" y="0"/><use href="#tB_c" x="100" y="100"/></g>
<g id="tW_c"><path d="M4.0,0.0 Q7.5,8.3 3.4,16.7 Q-2.7,25.0 2.8,33.3 Q5.5,41.7 0.9,50.0 Q-2.6,58.3 0.1,66.7 Q5.6,75.0 -1.0,83.3 Q-5.7,91.7 -1.2,100.0" fill="none" stroke="#cdb877" stroke-width="0.7" opacity="0.75"/>
<path d="M20.0,0.0 Q25.0,8.3 19.9,16.7 Q14.3,25.0 20.0,33.3 Q25.2,41.7 20.2,50.0 Q16.1,58.3 21.3,66.7 Q24.0,75.0 20.6,83.3 Q17.0,91.7 20.9,100.0" fill="none" stroke="#cdb877" stroke-width="0.7" opacity="0.75"/>
<path d="M36.0,0.0 Q39.7,8.3 35.5,16.7 Q32.1,25.0 34.9,33.3 Q38.2,41.7 33.9,50.0 Q30.5,58.3 33.7,66.7 Q38.1,75.0 34.2,83.3 Q30.5,91.7 33.4,100.0" fill="none" stroke="#cdb877" stroke-width="0.7" opacity="0.75"/>
<path d="M52.0,0.0 Q56.9,8.3 52.4,16.7 Q46.7,25.0 52.4,33.3 Q57.0,41.7 53.3,50.0 Q48.5,58.3 53.2,66.7 Q58.0,75.0 53.5,83.3 Q50.3,91.7 54.1,100.0" fill="none" stroke="#cdb877" stroke-width="0.7" opacity="0.75"/>
<path d="M68.0,0.0 Q74.0,8.3 68.1,16.7 Q64.8,25.0 69.4,33.3 Q72.5,41.7 69.2,50.0 Q64.5,58.3 69.9,66.7 Q73.4,75.0 70.3,83.3 Q65.6,91.7 70.5,100.0" fill="none" stroke="#cdb877" stroke-width="0.7" opacity="0.75"/>
<path d="M84.0,0.0 Q89.5,8.3 82.5,16.7 Q76.8,25.0 80.9,33.3 Q83.8,41.7 79.4,50.0 Q75.3,58.3 77.6,66.7 Q81.0,75.0 76.0,83.3 Q71.1,91.7 75.3,100.0" fill="none" stroke="#cdb877" stroke-width="0.7" opacity="0.75"/>
<path d="M60.0,2.0 Q62.3,8.8 57.1,15.6 Q53.3,22.4 54.8,29.2 Q57.3,36.0 51.9,42.8 Q46.5,49.6 49.1,56.4 Q52.3,63.2 46.0,70.0" fill="none" stroke="#d8636d" stroke-width="4.5" stroke-linecap="round"/>
<path d="M60.0,2.0 Q62.3,8.8 57.1,15.6 Q53.3,22.4 54.8,29.2 Q57.3,36.0 51.9,42.8 Q46.5,49.6 49.1,56.4 Q52.3,63.2 46.0,70.0" fill="none" stroke="#f8c9a0" stroke-width="1.6" stroke-linecap="round" opacity="0.9"/>
<path d="M8.0,2.0 Q14.0,8.8 10.7,15.6 Q6.1,22.4 11.3,29.2 Q17.1,36.0 13.9,42.8 Q11.1,49.6 15.4,56.4 Q19.9,63.2 18.0,70.0" fill="none" stroke="#d8636d" stroke-width="4.5" stroke-linecap="round"/>
<path d="M8.0,2.0 Q14.0,8.8 10.7,15.6 Q6.1,22.4 11.3,29.2 Q17.1,36.0 13.9,42.8 Q11.1,49.6 15.4,56.4 Q19.9,63.2 18.0,70.0" fill="none" stroke="#f8c9a0" stroke-width="1.6" stroke-linecap="round" opacity="0.9"/>
<circle cx="10.0" cy="5.1" r="2.1" fill="#46587a" stroke="#cdc4b4" stroke-width="1.0"/>
<circle cx="10.3" cy="5.5" r="1.0" fill="#7a6a58"/>
<circle cx="10.0" cy="35.5" r="2.9" fill="#46587a" stroke="#cdc4b4" stroke-width="1.0"/>
<circle cx="10.3" cy="35.9" r="1.3" fill="#7a6a58"/>
<circle cx="8.3" cy="53.2" r="2.7" fill="#46587a" stroke="#cdc4b4" stroke-width="1.0"/>
<circle cx="8.6" cy="53.6" r="1.2" fill="#7a6a58"/>
<circle cx="8.6" cy="60.5" r="3.1" fill="#46587a" stroke="#cdc4b4" stroke-width="1.0"/>
<circle cx="8.9" cy="60.9" r="1.4" fill="#7a6a58"/>
<circle cx="5.4" cy="74.6" r="3.3" fill="#46587a" stroke="#cdc4b4" stroke-width="1.0"/>
<circle cx="5.7" cy="75.0" r="1.5" fill="#7a6a58"/>
<circle cx="9.0" cy="96.1" r="3.1" fill="#46587a" stroke="#cdc4b4" stroke-width="1.0"/>
<circle cx="9.3" cy="96.5" r="1.4" fill="#7a6a58"/>
<circle cx="24.0" cy="21.0" r="3.5" fill="#46587a" stroke="#cdc4b4" stroke-width="1.0"/>
<circle cx="24.3" cy="21.4" r="1.6" fill="#7a6a58"/>
<circle cx="18.3" cy="47.6" r="3.5" fill="#46587a" stroke="#cdc4b4" stroke-width="1.0"/>
<circle cx="18.6" cy="48.0" r="1.6" fill="#7a6a58"/>
<circle cx="22.5" cy="62.6" r="2.7" fill="#46587a" stroke="#cdc4b4" stroke-width="1.0"/>
<circle cx="22.8" cy="63.0" r="1.2" fill="#7a6a58"/>
<circle cx="20.2" cy="79.3" r="2.8" fill="#46587a" stroke="#cdc4b4" stroke-width="1.0"/>
<circle cx="20.5" cy="79.7" r="1.3" fill="#7a6a58"/>
<circle cx="39.4" cy="10.2" r="3.6" fill="#46587a" stroke="#cdc4b4" stroke-width="1.0"/>
<circle cx="39.7" cy="10.6" r="1.6" fill="#7a6a58"/>
<circle cx="32.8" cy="24.5" r="3.5" fill="#46587a" stroke="#cdc4b4" stroke-width="1.0"/>
<circle cx="33.1" cy="24.9" r="1.6" fill="#7a6a58"/>
<circle cx="37.5" cy="47.5" r="3.3" fill="#46587a" stroke="#cdc4b4" stroke-width="1.0"/>
<circle cx="37.8" cy="47.9" r="1.5" fill="#7a6a58"/>
<circle cx="33.9" cy="60.5" r="3.3" fill="#46587a" stroke="#cdc4b4" stroke-width="1.0"/>
<circle cx="34.2" cy="60.9" r="1.5" fill="#7a6a58"/>
<circle cx="38.3" cy="92.1" r="2.0" fill="#46587a" stroke="#cdc4b4" stroke-width="1.0"/>
<circle cx="38.6" cy="92.5" r="0.9" fill="#7a6a58"/>
<circle cx="52.3" cy="10.3" r="1.8" fill="#46587a" stroke="#cdc4b4" stroke-width="1.0"/>
<circle cx="52.6" cy="10.7" r="0.8" fill="#7a6a58"/>
<circle cx="46.1" cy="23.3" r="2.3" fill="#46587a" stroke="#cdc4b4" stroke-width="1.0"/>
<circle cx="46.4" cy="23.7" r="1.0" fill="#7a6a58"/>
<circle cx="54.3" cy="62.7" r="1.8" fill="#46587a" stroke="#cdc4b4" stroke-width="1.0"/>
<circle cx="54.6" cy="63.1" r="0.8" fill="#7a6a58"/>
<circle cx="46.0" cy="76.0" r="2.5" fill="#46587a" stroke="#cdc4b4" stroke-width="1.0"/>
<circle cx="46.3" cy="76.4" r="1.1" fill="#7a6a58"/>
<circle cx="47.1" cy="88.9" r="3.3" fill="#46587a" stroke="#cdc4b4" stroke-width="1.0"/>
<circle cx="47.4" cy="89.3" r="1.5" fill="#7a6a58"/>
<circle cx="68.2" cy="10.5" r="2.4" fill="#46587a" stroke="#cdc4b4" stroke-width="1.0"/>
<circle cx="68.5" cy="10.9" r="1.1" fill="#7a6a58"/>
<circle cx="64.5" cy="22.7" r="2.8" fill="#46587a" stroke="#cdc4b4" stroke-width="1.0"/>
<circle cx="64.8" cy="23.1" r="1.3" fill="#7a6a58"/>
<circle cx="65.3" cy="39.5" r="2.7" fill="#46587a" stroke="#cdc4b4" stroke-width="1.0"/>
<circle cx="65.6" cy="39.9" r="1.2" fill="#7a6a58"/>
<circle cx="66.2" cy="47.8" r="2.3" fill="#46587a" stroke="#cdc4b4" stroke-width="1.0"/>
<circle cx="66.5" cy="48.2" r="1.0" fill="#7a6a58"/>
<circle cx="64.7" cy="74.4" r="2.5" fill="#46587a" stroke="#cdc4b4" stroke-width="1.0"/>
<circle cx="65.0" cy="74.8" r="1.1" fill="#7a6a58"/>
<circle cx="60.2" cy="93.8" r="2.9" fill="#46587a" stroke="#cdc4b4" stroke-width="1.0"/>
<circle cx="60.5" cy="94.2" r="1.3" fill="#7a6a58"/>
<circle cx="79.7" cy="6.9" r="3.0" fill="#46587a" stroke="#cdc4b4" stroke-width="1.0"/>
<circle cx="80.0" cy="7.3" r="1.3" fill="#7a6a58"/>
<circle cx="80.3" cy="23.5" r="1.7" fill="#46587a" stroke="#cdc4b4" stroke-width="1.0"/>
<circle cx="80.6" cy="23.9" r="0.8" fill="#7a6a58"/>
<circle cx="80.1" cy="39.7" r="2.2" fill="#46587a" stroke="#cdc4b4" stroke-width="1.0"/>
<circle cx="80.4" cy="40.1" r="1.0" fill="#7a6a58"/>
<circle cx="79.4" cy="48.5" r="2.4" fill="#46587a" stroke="#cdc4b4" stroke-width="1.0"/>
<circle cx="79.7" cy="48.9" r="1.1" fill="#7a6a58"/>
<circle cx="77.4" cy="65.1" r="2.3" fill="#46587a" stroke="#cdc4b4" stroke-width="1.0"/>
<circle cx="77.7" cy="65.5" r="1.0" fill="#7a6a58"/>
<circle cx="80.9" cy="74.5" r="2.8" fill="#46587a" stroke="#cdc4b4" stroke-width="1.0"/>
<circle cx="81.2" cy="74.9" r="1.3" fill="#7a6a58"/>
<circle cx="76.9" cy="90.5" r="3.2" fill="#46587a" stroke="#cdc4b4" stroke-width="1.0"/>
<circle cx="77.2" cy="90.9" r="1.5" fill="#7a6a58"/>
<circle cx="90.2" cy="6.6" r="3.0" fill="#46587a" stroke="#cdc4b4" stroke-width="1.0"/>
<circle cx="90.5" cy="7.0" r="1.4" fill="#7a6a58"/>
<circle cx="91.3" cy="20.0" r="3.3" fill="#46587a" stroke="#cdc4b4" stroke-width="1.0"/>
<circle cx="91.6" cy="20.4" r="1.5" fill="#7a6a58"/>
<circle cx="95.9" cy="32.9" r="2.3" fill="#46587a" stroke="#cdc4b4" stroke-width="1.0"/>
<circle cx="96.2" cy="33.3" r="1.1" fill="#7a6a58"/>
<circle cx="96.2" cy="49.6" r="2.1" fill="#46587a" stroke="#cdc4b4" stroke-width="1.0"/>
<circle cx="96.5" cy="50.0" r="1.0" fill="#7a6a58"/>
<circle cx="93.1" cy="61.6" r="3.2" fill="#46587a" stroke="#cdc4b4" stroke-width="1.0"/>
<circle cx="93.4" cy="62.0" r="1.5" fill="#7a6a58"/>
<circle cx="91.0" cy="95.5" r="2.9" fill="#46587a" stroke="#cdc4b4" stroke-width="1.0"/>
<circle cx="91.3" cy="95.9" r="1.3" fill="#7a6a58"/>
<circle cx="80.6" cy="34.5" r="0.6" fill="#7fa8c8"/>
<circle cx="51.8" cy="85.0" r="0.7" fill="#cdb877"/>
<circle cx="41.7" cy="42.0" r="0.7" fill="#7fa8c8"/>
<circle cx="15.6" cy="0.5" r="1.0" fill="#cdb877"/>
<circle cx="98.7" cy="43.4" r="1.0" fill="#cdb877"/>
<circle cx="22.2" cy="74.6" r="0.9" fill="#cdb877"/>
<circle cx="74.8" cy="96.3" r="0.8" fill="#e07a5a"/>
<circle cx="86.2" cy="85.8" r="1.0" fill="#e07a5a"/>
<circle cx="81.0" cy="4.5" r="1.0" fill="#cdb877"/>
<circle cx="51.2" cy="19.8" r="0.9" fill="#7fa8c8"/>
<circle cx="57.7" cy="1.3" r="0.9" fill="#e07a5a"/>
<circle cx="50.3" cy="23.9" r="0.5" fill="#cdb877"/>
<circle cx="41.4" cy="93.9" r="0.8" fill="#7fa8c8"/>
<circle cx="12.5" cy="97.2" r="0.8" fill="#e07a5a"/>
<circle cx="35.2" cy="19.7" r="0.8" fill="#e07a5a"/>
<circle cx="17.1" cy="79.2" r="1.0" fill="#e07a5a"/>
<circle cx="82.3" cy="0.8" r="0.8" fill="#7fa8c8"/>
<circle cx="5.0" cy="27.1" r="0.6" fill="#cdb877"/>
<circle cx="52.0" cy="5.1" r="0.7" fill="#e07a5a"/>
<circle cx="85.7" cy="77.5" r="0.5" fill="#e07a5a"/>
<circle cx="6.8" cy="97.5" r="0.9" fill="#e07a5a"/>
<circle cx="51.5" cy="49.0" r="0.6" fill="#e07a5a"/>
<circle cx="35.1" cy="64.7" r="0.8" fill="#7fa8c8"/>
<circle cx="26.5" cy="98.8" r="0.7" fill="#e07a5a"/>
<circle cx="55.6" cy="71.6" r="0.7" fill="#e07a5a"/>
<circle cx="56.7" cy="4.3" r="0.7" fill="#cdb877"/>
<circle cx="78.3" cy="38.0" r="0.9" fill="#cdb877"/>
<circle cx="88.7" cy="5.3" r="0.8" fill="#cdb877"/>
<circle cx="31.5" cy="95.0" r="0.7" fill="#e07a5a"/>
<circle cx="24.5" cy="53.6" r="0.8" fill="#e07a5a"/>
<circle cx="80.3" cy="22.4" r="0.6" fill="#e07a5a"/>
<circle cx="93.6" cy="37.4" r="0.9" fill="#7fa8c8"/>
<circle cx="12.1" cy="69.1" r="1.0" fill="#cdb877"/>
<circle cx="66.2" cy="88.7" r="0.9" fill="#cdb877"/>
<circle cx="10.9" cy="31.8" r="0.8" fill="#cdb877"/>
<circle cx="71.7" cy="47.4" r="0.6" fill="#7fa8c8"/>
<circle cx="4.4" cy="9.2" r="0.5" fill="#7fa8c8"/>
<circle cx="17.9" cy="2.3" r="0.9" fill="#e07a5a"/>
<circle cx="2.5" cy="11.5" r="0.7" fill="#cdb877"/>
<circle cx="95.2" cy="57.9" r="0.9" fill="#e07a5a"/>
<g transform="translate(20.0,22.0) rotate(-14)"><path d="M-10.5,0.0 Q-8.2,5.2 -11.7,10.3 Q-13.5,15.5 -11.0,20.7 Q-9.5,25.8 -12.6,31.0 Q-14.4,36.2 -12.5,41.3 Q-10.2,46.5 -12.7,51.7" fill="none" stroke="#d8636d" stroke-width="0.8"/>
<path d="M-7.5,0.0 Q-5.6,4.8 -6.8,9.6 Q-9.4,14.4 -6.0,19.2 Q-4.0,24.0 -6.9,28.7 Q-8.1,33.5 -5.3,38.3 Q-4.0,43.1 -5.4,47.9" fill="none" stroke="#e9a474" stroke-width="0.6"/>
<path d="M-4.5,0.0 Q-1.7,4.5 -4.5,9.0 Q-5.2,13.5 -3.6,17.9 Q-1.1,22.4 -3.1,26.9 Q-4.5,31.4 -3.2,35.9 Q-1.3,40.4 -2.5,44.9" fill="none" stroke="#e9a474" stroke-width="0.8"/>
<path d="M-1.5,0.0 Q0.7,4.3 -1.5,8.6 Q-2.8,12.8 0.2,17.1 Q1.4,21.4 -0.5,25.7 Q-2.1,30.0 0.9,34.3 Q1.8,38.5 0.7,42.8" fill="none" stroke="#d8636d" stroke-width="0.9"/>
<path d="M1.5,0.0 Q3.5,4.6 2.0,9.1 Q-0.6,13.7 1.4,18.3 Q3.3,22.8 1.4,27.4 Q0.1,31.9 1.7,36.5 Q4.1,41.1 2.3,45.6" fill="none" stroke="#e9a474" stroke-width="0.8"/>
<path d="M4.5,0.0 Q6.4,4.6 4.4,9.2 Q2.1,13.8 4.1,18.4 Q5.5,23.0 4.9,27.6 Q2.4,32.2 3.9,36.8 Q5.4,41.4 4.0,46.0" fill="none" stroke="#e9a474" stroke-width="0.8"/>
<path d="M7.5,0.0 Q9.7,3.6 7.3,7.2 Q6.5,10.8 7.9,14.4 Q11.0,17.9 9.7,21.5 Q7.3,25.1 9.3,28.7 Q12.0,32.3 10.0,35.9" fill="none" stroke="#d8636d" stroke-width="0.9"/>
<path d="M10.5,0.0 Q12.4,4.3 10.5,8.7 Q8.0,13.0 9.7,17.4 Q10.3,21.7 8.6,26.0 Q5.7,30.4 8.2,34.7 Q9.0,39.0 7.0,43.4" fill="none" stroke="#e9a474" stroke-width="0.9"/>
<path d="M-5.5,-1.0 Q-2.6,2.7 -6.6,6.4 Q-9.1,10.1 -6.9,13.7 Q-3.5,17.4 -6.9,21.1 Q-8.7,24.8 -6.8,28.5" fill="none" stroke="#d8636d" stroke-width="4.2" stroke-linecap="round" stroke-dasharray="1.2 0.8"/>
<path d="M-5.5,-1.0 Q-2.6,2.7 -6.6,6.4 Q-9.1,10.1 -6.9,13.7 Q-3.5,17.4 -6.9,21.1 Q-8.7,24.8 -6.8,28.5" fill="none" stroke="#ee9b6c" stroke-width="2.0" stroke-linecap="round"/>
<path d="M-5.5,-1.0 Q-2.6,2.7 -6.6,6.4 Q-9.1,10.1 -6.9,13.7 Q-3.5,17.4 -6.9,21.1 Q-8.7,24.8 -6.8,28.5" fill="none" stroke="#f8c9a0" stroke-width="0.9" stroke-linecap="round"/>
<path d="M0.0,-1.0 Q2.1,3.3 -0.7,7.6 Q-3.7,11.8 -2.9,16.1 Q-1.6,20.4 -4.3,24.7 Q-6.8,28.9 -5.0,33.2" fill="none" stroke="#d8636d" stroke-width="4.2" stroke-linecap="round" stroke-dasharray="1.2 0.8"/>
<path d="M0.0,-1.0 Q2.1,3.3 -0.7,7.6 Q-3.7,11.8 -2.9,16.1 Q-1.6,20.4 -4.3,24.7 Q-6.8,28.9 -5.0,33.2" fill="none" stroke="#ee9b6c" stroke-width="2.0" stroke-linecap="round"/>
<path d="M0.0,-1.0 Q2.1,3.3 -0.7,7.6 Q-3.7,11.8 -2.9,16.1 Q-1.6,20.4 -4.3,24.7 Q-6.8,28.9 -5.0,33.2" fill="none" stroke="#f8c9a0" stroke-width="0.9" stroke-linecap="round"/>
<path d="M5.5,-1.0 Q6.7,2.5 4.0,6.1 Q2.6,9.6 4.2,13.2 Q6.0,16.7 3.2,20.3 Q0.8,23.8 2.4,27.3" fill="none" stroke="#d8636d" stroke-width="4.2" stroke-linecap="round" stroke-dasharray="1.2 0.8"/>
<path d="M5.5,-1.0 Q6.7,2.5 4.0,6.1 Q2.6,9.6 4.2,13.2 Q6.0,16.7 3.2,20.3 Q0.8,23.8 2.4,27.3" fill="none" stroke="#ee9b6c" stroke-width="2.0" stroke-linecap="round"/>
<path d="M5.5,-1.0 Q6.7,2.5 4.0,6.1 Q2.6,9.6 4.2,13.2 Q6.0,16.7 3.2,20.3 Q0.8,23.8 2.4,27.3" fill="none" stroke="#f8c9a0" stroke-width="0.9" stroke-linecap="round"/>
<path d="M-12.5,0 C-12.5,-19.5 12.5,-19.5 12.5,0 Q0,3.3 -12.5,0 Z" fill="#f0a66e"/>
<path d="M-9.0,-0.8 L-5.0,-12.8" stroke="#fbd3a6" stroke-width="1.1" opacity="0.6"/>
<path d="M-5.4,-0.8 L-3.0,-12.8" stroke="#fbd3a6" stroke-width="1.1" opacity="0.6"/>
<path d="M-1.8,-0.8 L-1.0,-12.8" stroke="#fbd3a6" stroke-width="1.1" opacity="0.6"/>
<path d="M1.8,-0.8 L1.0,-12.8" stroke="#fbd3a6" stroke-width="1.1" opacity="0.6"/>
<path d="M5.4,-0.8 L3.0,-12.8" stroke="#fbd3a6" stroke-width="1.1" opacity="0.6"/>
<path d="M9.0,-0.8 L5.0,-12.8" stroke="#fbd3a6" stroke-width="1.1" opacity="0.6"/>
<path d="M-12.5,0 Q0,3.3 12.5,0" fill="none" stroke="#da7350" stroke-width="2.0"/></g>
<g transform="translate(72.0,8.0) rotate(8)"><path d="M-9.2,0.0 Q-6.5,3.3 -8.7,6.7 Q-10.2,10.0 -8.0,13.4 Q-6.5,16.7 -8.2,20.0 Q-9.2,23.4 -7.6,26.7 Q-4.7,30.1 -6.6,33.4" fill="none" stroke="#d8636d" stroke-width="0.8"/>
<path d="M-6.6,0.0 Q-5.2,3.4 -6.4,6.9 Q-9.3,10.3 -7.2,13.8 Q-4.7,17.2 -7.5,20.7 Q-9.5,24.1 -7.8,27.6 Q-5.4,31.0 -7.5,34.4" fill="none" stroke="#e9a474" stroke-width="0.8"/>
<path d="M-4.0,0.0 Q-2.3,4.2 -4.0,8.4 Q-4.9,12.7 -3.2,16.9 Q-0.9,21.1 -1.5,25.3 Q-4.4,29.5 -2.4,33.7 Q-0.1,38.0 -1.0,42.2" fill="none" stroke="#e9a474" stroke-width="0.9"/>
<path d="M-1.3,0.0 Q1.2,4.4 -0.2,8.8 Q-2.1,13.3 0.1,17.7 Q2.9,22.1 0.2,26.5 Q-1.0,31.0 1.9,35.4 Q3.3,39.8 2.3,44.2" fill="none" stroke="#d8636d" stroke-width="0.9"/>
<path d="M1.3,0.0 Q3.3,4.5 0.7,9.1 Q-1.5,13.6 1.0,18.2 Q1.7,22.7 -0.7,27.3 Q-2.7,31.8 -0.2,36.4 Q0.4,40.9 -1.3,45.5" fill="none" stroke="#e9a474" stroke-width="0.9"/>
<path d="M4.0,0.0 Q5.7,4.1 4.5,8.2 Q1.7,12.3 4.4,16.4 Q6.1,20.5 2.8,24.6 Q0.8,28.7 3.7,32.8 Q4.6,36.9 3.1,41.0" fill="none" stroke="#e9a474" stroke-width="0.8"/>
<path d="M6.6,0.0 Q7.7,3.1 6.0,6.2 Q3.6,9.2 5.2,12.3 Q7.7,15.4 6.1,18.5 Q3.6,21.5 5.5,24.6 Q7.0,27.7 4.8,30.8" fill="none" stroke="#d8636d" stroke-width="0.9"/>
<path d="M9.2,0.0 Q11.0,4.6 8.8,9.1 Q7.8,13.7 8.8,18.3 Q10.5,22.9 9.9,27.4 Q7.8,32.0 9.7,36.6 Q11.4,41.1 9.1,45.7" fill="none" stroke="#e9a474" stroke-width="0.8"/>
<path d="M-4.8,-1.0 Q-2.4,2.2 -6.1,5.4 Q-9.3,8.5 -7.7,11.7 Q-6.1,14.9 -8.4,18.1 Q-10.8,21.3 -9.3,24.4" fill="none" stroke="#d8636d" stroke-width="3.7" stroke-linecap="round" stroke-dasharray="1.2 0.8"/>
<path d="M-4.8,-1.0 Q-2.4,2.2 -6.1,5.4 Q-9.3,8.5 -7.7,11.7 Q-6.1,14.9 -8.4,18.1 Q-10.8,21.3 -9.3,24.4" fill="none" stroke="#ee9b6c" stroke-width="1.7" stroke-linecap="round"/>
<path d="M-4.8,-1.0 Q-2.4,2.2 -6.1,5.4 Q-9.3,8.5 -7.7,11.7 Q-6.1,14.9 -8.4,18.1 Q-10.8,21.3 -9.3,24.4" fill="none" stroke="#f8c9a0" stroke-width="0.8" stroke-linecap="round"/>
<path d="M0.0,-1.0 Q2.0,2.8 -0.6,6.7 Q-3.1,10.5 -1.6,14.3 Q0.0,18.2 -2.1,22.0 Q-4.7,25.9 -2.9,29.7" fill="none" stroke="#d8636d" stroke-width="3.7" stroke-linecap="round" stroke-dasharray="1.2 0.8"/>
<path d="M0.0,-1.0 Q2.0,2.8 -0.6,6.7 Q-3.1,10.5 -1.6,14.3 Q0.0,18.2 -2.1,22.0 Q-4.7,25.9 -2.9,29.7" fill="none" stroke="#ee9b6c" stroke-width="1.7" stroke-linecap="round"/>
<path d="M0.0,-1.0 Q2.0,2.8 -0.6,6.7 Q-3.1,10.5 -1.6,14.3 Q0.0,18.2 -2.1,22.0 Q-4.7,25.9 -2.9,29.7" fill="none" stroke="#f8c9a0" stroke-width="0.8" stroke-linecap="round"/>
<path d="M4.8,-1.0 Q7.0,3.3 5.4,7.6 Q3.8,12.0 6.1,16.3 Q8.1,20.6 6.1,24.9 Q3.8,29.2 6.3,33.6" fill="none" stroke="#d8636d" stroke-width="3.7" stroke-linecap="round" stroke-dasharray="1.2 0.8"/>
<path d="M4.8,-1.0 Q7.0,3.3 5.4,7.6 Q3.8,12.0 6.1,16.3 Q8.1,20.6 6.1,24.9 Q3.8,29.2 6.3,33.6" fill="none" stroke="#ee9b6c" stroke-width="1.7" stroke-linecap="round"/>
<path d="M4.8,-1.0 Q7.0,3.3 5.4,7.6 Q3.8,12.0 6.1,16.3 Q8.1,20.6 6.1,24.9 Q3.8,29.2 6.3,33.6" fill="none" stroke="#f8c9a0" stroke-width="0.8" stroke-linecap="round"/>
<path d="M-11.0,0 C-11.0,-16.9 11.0,-16.9 11.0,0 Q0,2.9 -11.0,0 Z" fill="#f0a66e"/>
<path d="M-7.9,-0.7 L-4.4,-11.0" stroke="#fbd3a6" stroke-width="1.0" opacity="0.6"/>
<path d="M-4.8,-0.7 L-2.6,-11.0" stroke="#fbd3a6" stroke-width="1.0" opacity="0.6"/>
<path d="M-1.6,-0.7 L-0.9,-11.0" stroke="#fbd3a6" stroke-width="1.0" opacity="0.6"/>
<path d="M1.6,-0.7 L0.9,-11.0" stroke="#fbd3a6" stroke-width="1.0" opacity="0.6"/>
<path d="M4.8,-0.7 L2.6,-11.0" stroke="#fbd3a6" stroke-width="1.0" opacity="0.6"/>
<path d="M7.9,-0.7 L4.4,-11.0" stroke="#fbd3a6" stroke-width="1.0" opacity="0.6"/>
<path d="M-11.0,0 Q0,2.9 11.0,0" fill="none" stroke="#da7350" stroke-width="1.8"/></g>
<g transform="translate(46.0,62.0) rotate(-18)"><path d="M-10.1,0.0 Q-9.0,4.4 -9.9,8.8 Q-12.3,13.1 -11.1,17.5 Q-9.0,21.9 -10.9,26.3 Q-13.8,30.7 -11.7,35.1 Q-10.3,39.4 -12.5,43.8" fill="none" stroke="#d8636d" stroke-width="0.9"/>
<path d="M-7.2,0.0 Q-5.4,4.5 -7.7,9.0 Q-9.7,13.5 -8.9,18.0 Q-6.3,22.5 -8.6,27.0 Q-10.8,31.5 -9.0,36.0 Q-6.7,40.5 -9.4,45.0" fill="none" stroke="#e9a474" stroke-width="0.9"/>
<path d="M-4.3,0.0 Q-2.4,3.7 -3.4,7.4 Q-5.7,11.1 -4.4,14.8 Q-2.0,18.4 -4.2,22.1 Q-5.9,25.8 -3.1,29.5 Q-1.7,33.2 -3.2,36.9" fill="none" stroke="#e9a474" stroke-width="1.0"/>
<path d="M-1.4,0.0 Q1.0,3.9 -2.1,7.8 Q-3.1,11.7 -1.7,15.6 Q0.8,19.4 -1.9,23.3 Q-3.7,27.2 -2.2,31.1 Q-0.2,35.0 -1.8,38.9" fill="none" stroke="#d8636d" stroke-width="0.7"/>
<path d="M1.4,0.0 Q3.9,4.7 1.2,9.5 Q0.1,14.2 1.6,18.9 Q4.5,23.7 2.2,28.4 Q0.1,33.1 3.3,37.9 Q5.4,42.6 3.2,47.4" fill="none" stroke="#e9a474" stroke-width="0.7"/>
<path d="M4.3,0.0 Q6.1,4.7 5.8,9.3 Q4.0,14.0 6.6,18.6 Q7.8,23.3 6.1,28.0 Q4.9,32.6 6.5,37.3 Q9.8,42.0 8.0,46.6" fill="none" stroke="#e9a474" stroke-width="0.9"/>
<path d="M7.2,0.0 Q8.8,4.6 6.5,9.3 Q4.2,13.9 6.2,18.6 Q8.1,23.2 5.3,27.9 Q3.3,32.5 4.8,37.1 Q5.9,41.8 3.8,46.4" fill="none" stroke="#d8636d" stroke-width="0.8"/>
<path d="M10.1,0.0 Q11.5,4.4 10.3,8.8 Q7.9,13.2 9.8,17.7 Q11.1,22.1 9.0,26.5 Q7.0,30.9 8.8,35.3 Q10.9,39.7 8.8,44.1" fill="none" stroke="#e9a474" stroke-width="0.7"/>
<path d="M-5.3,-1.0 Q-3.3,2.9 -4.8,6.8 Q-6.4,10.7 -5.1,14.6 Q-2.3,18.6 -4.5,22.5 Q-5.7,26.4 -3.5,30.3" fill="none" stroke="#d8636d" stroke-width="4.0" stroke-linecap="round" stroke-dasharray="1.2 0.8"/>
<path d="M-5.3,-1.0 Q-3.3,2.9 -4.8,6.8 Q-6.4,10.7 -5.1,14.6 Q-2.3,18.6 -4.5,22.5 Q-5.7,26.4 -3.5,30.3" fill="none" stroke="#ee9b6c" stroke-width="1.9" stroke-linecap="round"/>
<path d="M-5.3,-1.0 Q-3.3,2.9 -4.8,6.8 Q-6.4,10.7 -5.1,14.6 Q-2.3,18.6 -4.5,22.5 Q-5.7,26.4 -3.5,30.3" fill="none" stroke="#f8c9a0" stroke-width="0.9" stroke-linecap="round"/>
<path d="M0.0,-1.0 Q2.2,3.7 -0.9,8.4 Q-4.5,13.1 -2.4,17.7 Q-1.3,22.4 -4.2,27.1 Q-6.1,31.8 -4.6,36.5" fill="none" stroke="#d8636d" stroke-width="4.0" stroke-linecap="round" stroke-dasharray="1.2 0.8"/>
<path d="M0.0,-1.0 Q2.2,3.7 -0.9,8.4 Q-4.5,13.1 -2.4,17.7 Q-1.3,22.4 -4.2,27.1 Q-6.1,31.8 -4.6,36.5" fill="none" stroke="#ee9b6c" stroke-width="1.9" stroke-linecap="round"/>
<path d="M0.0,-1.0 Q2.2,3.7 -0.9,8.4 Q-4.5,13.1 -2.4,17.7 Q-1.3,22.4 -4.2,27.1 Q-6.1,31.8 -4.6,36.5" fill="none" stroke="#f8c9a0" stroke-width="0.9" stroke-linecap="round"/>
<path d="M5.3,-1.0 Q8.5,3.0 6.8,6.9 Q5.2,10.9 8.2,14.9 Q10.9,18.8 8.2,22.8 Q7.5,26.8 9.6,30.7" fill="none" stroke="#d8636d" stroke-width="4.0" stroke-linecap="round" stroke-dasharray="1.2 0.8"/>
<path d="M5.3,-1.0 Q8.5,3.0 6.8,6.9 Q5.2,10.9 8.2,14.9 Q10.9,18.8 8.2,22.8 Q7.5,26.8 9.6,30.7" fill="none" stroke="#ee9b6c" stroke-width="1.9" stroke-linecap="round"/>
<path d="M5.3,-1.0 Q8.5,3.0 6.8,6.9 Q5.2,10.9 8.2,14.9 Q10.9,18.8 8.2,22.8 Q7.5,26.8 9.6,30.7" fill="none" stroke="#f8c9a0" stroke-width="0.9" stroke-linecap="round"/>
<path d="M-12.0,0 C-12.0,-18.2 12.0,-18.2 12.0,0 Q0,3.1 -12.0,0 Z" fill="#f0a66e"/>
<path d="M-8.6,-0.7 L-4.8,-11.9" stroke="#fbd3a6" stroke-width="1.1" opacity="0.6"/>
<path d="M-5.2,-0.7 L-2.9,-11.9" stroke="#fbd3a6" stroke-width="1.1" opacity="0.6"/>
<path d="M-1.7,-0.7 L-1.0,-11.9" stroke="#fbd3a6" stroke-width="1.1" opacity="0.6"/>
<path d="M1.7,-0.7 L1.0,-11.9" stroke="#fbd3a6" stroke-width="1.1" opacity="0.6"/>
<path d="M5.2,-0.7 L2.9,-11.9" stroke="#fbd3a6" stroke-width="1.1" opacity="0.6"/>
<path d="M8.6,-0.7 L4.8,-11.9" stroke="#fbd3a6" stroke-width="1.1" opacity="0.6"/>
<path d="M-12.0,0 Q0,3.1 12.0,0" fill="none" stroke="#da7350" stroke-width="1.9"/></g>
<g transform="translate(94.0,74.0) rotate(12)"><path d="M-8.4,0.0 Q-6.1,3.4 -7.9,6.8 Q-10.1,10.2 -8.3,13.6 Q-6.4,17.0 -8.1,20.4 Q-11.0,23.8 -8.0,27.2 Q-6.0,30.6 -8.4,33.9" fill="none" stroke="#d8636d" stroke-width="0.9"/>
<path d="M-6.0,0.0 Q-5.0,3.1 -6.4,6.2 Q-8.0,9.3 -7.1,12.4 Q-5.5,15.6 -7.9,18.7 Q-9.6,21.8 -7.8,24.9 Q-5.6,28.0 -7.9,31.1" fill="none" stroke="#e9a474" stroke-width="1.0"/>
<path d="M-3.6,0.0 Q-2.4,3.5 -4.5,7.1 Q-6.3,10.6 -4.9,14.1 Q-1.9,17.7 -5.0,21.2 Q-7.2,24.7 -4.2,28.3 Q-3.8,31.8 -5.3,35.3" fill="none" stroke="#e9a474" stroke-width="0.8"/>
<path d="M-1.2,0.0 Q0.3,3.0 -1.4,6.1 Q-3.1,9.1 -1.6,12.1 Q0.8,15.2 -1.2,18.2 Q-3.2,21.2 -2.0,24.3 Q1.2,27.3 -1.2,30.3" fill="none" stroke="#d8636d" stroke-width="0.8"/>
<path d="M1.2,0.0 Q2.7,3.0 1.2,5.9 Q-0.8,8.9 1.6,11.8 Q2.7,14.8 0.5,17.8 Q-1.7,20.7 1.1,23.7 Q3.0,26.6 0.4,29.6" fill="none" stroke="#e9a474" stroke-width="0.9"/>
<path d="M3.6,0.0 Q5.1,3.9 3.1,7.8 Q2.6,11.7 4.1,15.6 Q6.2,19.5 3.5,23.4 Q1.8,27.3 3.7,31.2 Q6.5,35.1 4.2,39.0" fill="none" stroke="#e9a474" stroke-width="0.7"/>
<path d="M6.0,0.0 Q7.7,3.1 6.1,6.3 Q3.6,9.4 5.8,12.5 Q6.4,15.7 5.2,18.8 Q3.5,22.0 3.9,25.1 Q6.2,28.2 4.2,31.4" fill="none" stroke="#d8636d" stroke-width="0.9"/>
<path d="M8.4,0.0 Q10.0,3.7 9.4,7.5 Q6.4,11.2 9.1,14.9 Q11.4,18.7 9.3,22.4 Q7.0,26.1 9.4,29.9 Q11.7,33.6 9.8,37.3" fill="none" stroke="#e9a474" stroke-width="0.7"/>
<path d="M-4.4,-1.0 Q-1.5,2.3 -3.3,5.6 Q-6.7,9.0 -3.4,12.3 Q-0.8,15.6 -3.8,18.9 Q-4.5,22.3 -2.8,25.6" fill="none" stroke="#d8636d" stroke-width="3.4" stroke-linecap="round" stroke-dasharray="1.2 0.8"/>
<path d="M-4.4,-1.0 Q-1.5,2.3 -3.3,5.6 Q-6.7,9.0 -3.4,12.3 Q-0.8,15.6 -3.8,18.9 Q-4.5,22.3 -2.8,25.6" fill="none" stroke="#ee9b6c" stroke-width="1.6" stroke-linecap="round"/>
<path d="M-4.4,-1.0 Q-1.5,2.3 -3.3,5.6 Q-6.7,9.0 -3.4,12.3 Q-0.8,15.6 -3.8,18.9 Q-4.5,22.3 -2.8,25.6" fill="none" stroke="#f8c9a0" stroke-width="0.7" stroke-linecap="round"/>
<path d="M0.0,-1.0 Q1.6,2.4 -1.0,5.7 Q-3.1,9.1 -1.4,12.5 Q-0.2,15.8 -2.8,19.2 Q-4.3,22.6 -3.2,26.0" fill="none" stroke="#d8636d" stroke-width="3.4" stroke-linecap="round" stroke-dasharray="1.2 0.8"/>
<path d="M0.0,-1.0 Q1.6,2.4 -1.0,5.7 Q-3.1,9.1 -1.4,12.5 Q-0.2,15.8 -2.8,19.2 Q-4.3,22.6 -3.2,26.0" fill="none" stroke="#ee9b6c" stroke-width="1.6" stroke-linecap="round"/>
<path d="M0.0,-1.0 Q1.6,2.4 -1.0,5.7 Q-3.1,9.1 -1.4,12.5 Q-0.2,15.8 -2.8,19.2 Q-4.3,22.6 -3.2,26.0" fill="none" stroke="#f8c9a0" stroke-width="0.7" stroke-linecap="round"/>
<path d="M4.4,-1.0 Q7.6,2.0 4.9,5.0 Q3.3,8.0 6.4,11.0 Q8.8,14.0 7.3,17.0 Q5.3,20.0 8.1,23.1" fill="none" stroke="#d8636d" stroke-width="3.4" stroke-linecap="round" stroke-dasharray="1.2 0.8"/>
<path d="M4.4,-1.0 Q7.6,2.0 4.9,5.0 Q3.3,8.0 6.4,11.0 Q8.8,14.0 7.3,17.0 Q5.3,20.0 8.1,23.1" fill="none" stroke="#ee9b6c" stroke-width="1.6" stroke-linecap="round"/>
<path d="M4.4,-1.0 Q7.6,2.0 4.9,5.0 Q3.3,8.0 6.4,11.0 Q8.8,14.0 7.3,17.0 Q5.3,20.0 8.1,23.1" fill="none" stroke="#f8c9a0" stroke-width="0.7" stroke-linecap="round"/>
<path d="M-10.0,0 C-10.0,-15.6 10.0,-15.6 10.0,0 Q0,2.6 -10.0,0 Z" fill="#f0a66e"/>
<path d="M-7.2,-0.6 L-4.0,-10.2" stroke="#fbd3a6" stroke-width="0.9" opacity="0.6"/>
<path d="M-4.3,-0.6 L-2.4,-10.2" stroke="#fbd3a6" stroke-width="0.9" opacity="0.6"/>
<path d="M-1.4,-0.6 L-0.8,-10.2" stroke="#fbd3a6" stroke-width="0.9" opacity="0.6"/>
<path d="M1.4,-0.6 L0.8,-10.2" stroke="#fbd3a6" stroke-width="0.9" opacity="0.6"/>
<path d="M4.3,-0.6 L2.4,-10.2" stroke="#fbd3a6" stroke-width="0.9" opacity="0.6"/>
<path d="M7.2,-0.6 L4.0,-10.2" stroke="#fbd3a6" stroke-width="0.9" opacity="0.6"/>
<path d="M-10.0,0 Q0,2.6 10.0,0" fill="none" stroke="#da7350" stroke-width="1.6"/></g>
<g transform="translate(52.0,26.0) rotate(-4)"><path d="M-8.0,0.0 Q-6.2,2.1 -9.2,4.3 Q-11.5,6.4 -8.8,8.5 Q-7.4,10.6 -10.0,12.8 Q-12.7,14.9 -11.1,17.0 Q-8.9,19.2 -11.3,21.3" fill="none" stroke="#d8636d" stroke-width="0.7"/>
<path d="M-4.8,0.0 Q-3.3,3.0 -4.4,5.9 Q-7.1,8.9 -5.5,11.8 Q-2.2,14.8 -4.9,17.7 Q-6.8,20.7 -5.2,23.6 Q-2.9,26.6 -4.9,29.5" fill="none" stroke="#e9a474" stroke-width="1.0"/>
<path d="M-1.6,0.0 Q0.6,2.7 -1.2,5.4 Q-4.1,8.1 -2.2,10.8 Q-0.5,13.6 -2.5,16.3 Q-4.2,19.0 -1.9,21.7 Q-0.3,24.4 -2.8,27.1" fill="none" stroke="#e9a474" stroke-width="0.7"/>
<path d="M1.6,0.0 Q3.9,2.0 0.5,4.0 Q-0.7,6.0 0.3,8.0 Q2.1,10.0 1.2,12.0 Q-1.5,14.0 0.3,16.0 Q2.3,18.0 -0.3,20.0" fill="none" stroke="#d8636d" stroke-width="0.8"/>
<path d="M4.8,0.0 Q7.1,2.8 5.4,5.5 Q3.1,8.3 6.1,11.0 Q7.7,13.8 7.0,16.5 Q4.2,19.3 7.6,22.0 Q9.2,24.8 7.3,27.5" fill="none" stroke="#e9a474" stroke-width="0.8"/>
<path d="M8.0,0.0 Q9.3,2.6 8.1,5.2 Q5.4,7.8 8.1,10.4 Q8.9,13.0 7.4,15.6 Q5.2,18.2 7.2,20.8 Q8.7,23.4 6.8,26.0" fill="none" stroke="#e9a474" stroke-width="0.6"/>
<path d="M-2.3,-1.0 Q-0.0,1.8 -0.6,4.6 Q-3.1,7.4 -0.9,10.2 Q2.9,13.0 0.6,15.8 Q-0.6,18.6 2.0,21.4" fill="none" stroke="#d8636d" stroke-width="3.3" stroke-linecap="round" stroke-dasharray="1.2 0.8"/>
<path d="M-2.3,-1.0 Q-0.0,1.8 -0.6,4.6 Q-3.1,7.4 -0.9,10.2 Q2.9,13.0 0.6,15.8 Q-0.6,18.6 2.0,21.4" fill="none" stroke="#ee9b6c" stroke-width="1.6" stroke-linecap="round"/>
<path d="M-2.3,-1.0 Q-0.0,1.8 -0.6,4.6 Q-3.1,7.4 -0.9,10.2 Q2.9,13.0 0.6,15.8 Q-0.6,18.6 2.0,21.4" fill="none" stroke="#f8c9a0" stroke-width="0.7" stroke-linecap="round"/>
<path d="M2.3,-1.0 Q4.3,1.7 0.9,4.4 Q-1.6,7.2 0.2,9.9 Q2.9,12.6 -1.1,15.3 Q-3.8,18.1 -1.7,20.8" fill="none" stroke="#d8636d" stroke-width="3.3" stroke-linecap="round" stroke-dasharray="1.2 0.8"/>
<path d="M2.3,-1.0 Q4.3,1.7 0.9,4.4 Q-1.6,7.2 0.2,9.9 Q2.9,12.6 -1.1,15.3 Q-3.8,18.1 -1.7,20.8" fill="none" stroke="#ee9b6c" stroke-width="1.6" stroke-linecap="round"/>
<path d="M2.3,-1.0 Q4.3,1.7 0.9,4.4 Q-1.6,7.2 0.2,9.9 Q2.9,12.6 -1.1,15.3 Q-3.8,18.1 -1.7,20.8" fill="none" stroke="#f8c9a0" stroke-width="0.7" stroke-linecap="round"/>
<path d="M-9.5,0 C-9.5,-14.3 9.5,-14.3 9.5,0 Q0,2.4 -9.5,0 Z" fill="#7fb3d2"/>
<path d="M-6.8,-0.6 L-3.8,-9.3" stroke="#c2e2ef" stroke-width="0.9" opacity="0.6"/>
<path d="M-4.1,-0.6 L-2.3,-9.3" stroke="#c2e2ef" stroke-width="0.9" opacity="0.6"/>
<path d="M-1.4,-0.6 L-0.8,-9.3" stroke="#c2e2ef" stroke-width="0.9" opacity="0.6"/>
<path d="M1.4,-0.6 L0.8,-9.3" stroke="#c2e2ef" stroke-width="0.9" opacity="0.6"/>
<path d="M4.1,-0.6 L2.3,-9.3" stroke="#c2e2ef" stroke-width="0.9" opacity="0.6"/>
<path d="M6.8,-0.6 L3.8,-9.3" stroke="#c2e2ef" stroke-width="0.9" opacity="0.6"/>
<path d="M-9.5,0 Q0,2.4 9.5,0" fill="none" stroke="#5d93b8" stroke-width="1.5"/></g>
<g transform="translate(14.0,66.0) rotate(6)"><path d="M-7.6,0.0 Q-5.6,2.7 -7.0,5.3 Q-9.8,8.0 -7.2,10.6 Q-4.9,13.3 -6.6,15.9 Q-9.3,18.6 -7.6,21.2 Q-5.3,23.9 -6.6,26.5" fill="none" stroke="#d8636d" stroke-width="1.0"/>
<path d="M-4.5,0.0 Q-2.1,2.1 -4.7,4.1 Q-5.6,6.2 -3.8,8.2 Q-2.0,10.3 -3.9,12.3 Q-5.1,14.4 -2.7,16.4 Q-1.1,18.5 -2.6,20.5" fill="none" stroke="#e9a474" stroke-width="0.9"/>
<path d="M-1.5,0.0 Q0.5,1.9 -1.4,3.7 Q-2.5,5.6 -0.1,7.4 Q2.2,9.3 0.4,11.1 Q-1.1,13.0 2.0,14.8 Q3.8,16.7 2.3,18.5" fill="none" stroke="#e9a474" stroke-width="0.9"/>
<path d="M1.5,0.0 Q3.8,2.1 0.6,4.3 Q-0.5,6.4 -0.1,8.5 Q2.6,10.7 0.7,12.8 Q-1.3,14.9 -0.2,17.0 Q1.3,19.2 -0.6,21.3" fill="none" stroke="#d8636d" stroke-width="0.7"/>
<path d="M4.5,0.0 Q5.7,2.2 4.8,4.3 Q2.4,6.5 3.7,8.7 Q5.6,10.8 3.5,13.0 Q1.2,15.2 2.9,17.4 Q5.1,19.5 2.4,21.7" fill="none" stroke="#e9a474" stroke-width="0.7"/>
<path d="M7.6,0.0 Q9.6,2.1 7.0,4.2 Q5.1,6.3 5.9,8.4 Q7.7,10.5 6.4,12.5 Q4.4,14.6 5.6,16.7 Q6.9,18.8 5.2,20.9" fill="none" stroke="#e9a474" stroke-width="0.7"/>
<path d="M-2.2,-1.0 Q-0.1,1.6 -3.0,4.2 Q-5.1,6.8 -3.2,9.4 Q-1.7,12.0 -5.1,14.6 Q-6.6,17.1 -5.2,19.7" fill="none" stroke="#d8636d" stroke-width="3.2" stroke-linecap="round" stroke-dasharray="1.2 0.8"/>
<path d="M-2.2,-1.0 Q-0.1,1.6 -3.0,4.2 Q-5.1,6.8 -3.2,9.4 Q-1.7,12.0 -5.1,14.6 Q-6.6,17.1 -5.2,19.7" fill="none" stroke="#ee9b6c" stroke-width="1.5" stroke-linecap="round"/>
<path d="M-2.2,-1.0 Q-0.1,1.6 -3.0,4.2 Q-5.1,6.8 -3.2,9.4 Q-1.7,12.0 -5.1,14.6 Q-6.6,17.1 -5.2,19.7" fill="none" stroke="#f8c9a0" stroke-width="0.7" stroke-linecap="round"/>
<path d="M2.2,-1.0 Q4.9,1.1 2.6,3.1 Q0.9,5.2 4.0,7.3 Q7.4,9.3 5.9,11.4 Q3.8,13.5 6.7,15.5" fill="none" stroke="#d8636d" stroke-width="3.2" stroke-linecap="round" stroke-dasharray="1.2 0.8"/>
<path d="M2.2,-1.0 Q4.9,1.1 2.6,3.1 Q0.9,5.2 4.0,7.3 Q7.4,9.3 5.9,11.4 Q3.8,13.5 6.7,15.5" fill="none" stroke="#ee9b6c" stroke-width="1.5" stroke-linecap="round"/>
<path d="M2.2,-1.0 Q4.9,1.1 2.6,3.1 Q0.9,5.2 4.0,7.3 Q7.4,9.3 5.9,11.4 Q3.8,13.5 6.7,15.5" fill="none" stroke="#f8c9a0" stroke-width="0.7" stroke-linecap="round"/>
<path d="M-9.0,0 C-9.0,-13.0 9.0,-13.0 9.0,0 Q0,2.2 -9.0,0 Z" fill="#7fb3d2"/>
<path d="M-6.5,-0.5 L-3.6,-8.5" stroke="#c2e2ef" stroke-width="0.8" opacity="0.6"/>
<path d="M-3.9,-0.5 L-2.1,-8.5" stroke="#c2e2ef" stroke-width="0.8" opacity="0.6"/>
<path d="M-1.3,-0.5 L-0.7,-8.5" stroke="#c2e2ef" stroke-width="0.8" opacity="0.6"/>
<path d="M1.3,-0.5 L0.7,-8.5" stroke="#c2e2ef" stroke-width="0.8" opacity="0.6"/>
<path d="M3.9,-0.5 L2.1,-8.5" stroke="#c2e2ef" stroke-width="0.8" opacity="0.6"/>
<path d="M6.5,-0.5 L3.6,-8.5" stroke="#c2e2ef" stroke-width="0.8" opacity="0.6"/>
<path d="M-9.0,0 Q0,2.2 9.0,0" fill="none" stroke="#5d93b8" stroke-width="1.4"/></g>
<g transform="translate(78.0,96.0) rotate(-8)"><path d="M-7.1,0.0 Q-5.6,1.8 -8.1,3.6 Q-9.5,5.4 -8.6,7.2 Q-6.2,9.0 -8.3,10.8 Q-10.3,12.6 -8.3,14.4 Q-7.8,16.2 -9.2,17.9" fill="none" stroke="#d8636d" stroke-width="1.0"/>
<path d="M-4.3,0.0 Q-2.6,1.8 -4.5,3.6 Q-5.7,5.4 -4.2,7.2 Q-2.5,9.0 -4.5,10.8 Q-6.7,12.6 -4.1,14.4 Q-2.9,16.1 -4.8,17.9" fill="none" stroke="#e9a474" stroke-width="0.8"/>
<path d="M-1.4,0.0 Q0.4,2.4 -1.3,4.9 Q-2.8,7.3 0.2,9.7 Q1.6,12.2 0.2,14.6 Q-0.6,17.0 1.2,19.4 Q3.3,21.9 2.1,24.3" fill="none" stroke="#e9a474" stroke-width="0.7"/>
<path d="M1.4,0.0 Q3.7,2.5 2.2,4.9 Q0.4,7.4 1.3,9.8 Q4.1,12.3 1.8,14.7 Q0.1,17.2 1.4,19.7 Q4.2,22.1 1.9,24.6" fill="none" stroke="#d8636d" stroke-width="1.0"/>
<path d="M4.3,0.0 Q6.6,2.3 4.9,4.6 Q2.8,7.0 5.3,9.3 Q7.0,11.6 5.7,13.9 Q2.6,16.2 4.9,18.5 Q7.2,20.9 5.5,23.2" fill="none" stroke="#e9a474" stroke-width="0.8"/>
<path d="M7.1,0.0 Q9.4,1.9 6.3,3.8 Q4.9,5.7 5.8,7.6 Q7.7,9.5 5.8,11.5 Q3.3,13.4 4.9,15.3 Q5.9,17.2 4.1,19.1" fill="none" stroke="#e9a474" stroke-width="1.0"/>
<path d="M-2.0,-1.0 Q0.9,1.3 -1.8,3.6 Q-4.4,5.9 -2.0,8.2 Q0.0,10.5 -2.1,12.8 Q-5.5,15.1 -2.5,17.4" fill="none" stroke="#d8636d" stroke-width="3.0" stroke-linecap="round" stroke-dasharray="1.2 0.8"/>
<path d="M-2.0,-1.0 Q0.9,1.3 -1.8,3.6 Q-4.4,5.9 -2.0,8.2 Q0.0,10.5 -2.1,12.8 Q-5.5,15.1 -2.5,17.4" fill="none" stroke="#ee9b6c" stroke-width="1.4" stroke-linecap="round"/>
<path d="M-2.0,-1.0 Q0.9,1.3 -1.8,3.6 Q-4.4,5.9 -2.0,8.2 Q0.0,10.5 -2.1,12.8 Q-5.5,15.1 -2.5,17.4" fill="none" stroke="#f8c9a0" stroke-width="0.7" stroke-linecap="round"/>
<path d="M2.0,-1.0 Q3.8,0.9 1.7,2.8 Q-1.3,4.7 1.1,6.6 Q3.5,8.5 1.9,10.4 Q-1.0,12.4 0.7,14.3" fill="none" stroke="#d8636d" stroke-width="3.0" stroke-linecap="round" stroke-dasharray="1.2 0.8"/>
<path d="M2.0,-1.0 Q3.8,0.9 1.7,2.8 Q-1.3,4.7 1.1,6.6 Q3.5,8.5 1.9,10.4 Q-1.0,12.4 0.7,14.3" fill="none" stroke="#ee9b6c" stroke-width="1.4" stroke-linecap="round"/>
<path d="M2.0,-1.0 Q3.8,0.9 1.7,2.8 Q-1.3,4.7 1.1,6.6 Q3.5,8.5 1.9,10.4 Q-1.0,12.4 0.7,14.3" fill="none" stroke="#f8c9a0" stroke-width="0.7" stroke-linecap="round"/>
<path d="M-8.5,0 C-8.5,-13.0 8.5,-13.0 8.5,0 Q0,2.2 -8.5,0 Z" fill="#7fb3d2"/>
<path d="M-6.1,-0.5 L-3.4,-8.5" stroke="#c2e2ef" stroke-width="0.8" opacity="0.6"/>
<path d="M-3.7,-0.5 L-2.0,-8.5" stroke="#c2e2ef" stroke-width="0.8" opacity="0.6"/>
<path d="M-1.2,-0.5 L-0.7,-8.5" stroke="#c2e2ef" stroke-width="0.8" opacity="0.6"/>
<path d="M1.2,-0.5 L0.7,-8.5" stroke="#c2e2ef" stroke-width="0.8" opacity="0.6"/>
<path d="M3.7,-0.5 L2.0,-8.5" stroke="#c2e2ef" stroke-width="0.8" opacity="0.6"/>
<path d="M6.1,-0.5 L3.4,-8.5" stroke="#c2e2ef" stroke-width="0.8" opacity="0.6"/>
<path d="M-8.5,0 Q0,2.2 8.5,0" fill="none" stroke="#5d93b8" stroke-width="1.4"/></g></g>
<g id="tW"><rect width="100" height="100" fill="#2b4268"/><use href="#tW_c" x="-100" y="-100"/><use href="#tW_c" x="-100" y="0"/><use href="#tW_c" x="-100" y="100"/><use href="#tW_c" x="0" y="-100"/><use href="#tW_c" x="0" y="0"/><use href="#tW_c" x="0" y="100"/><use href="#tW_c" x="100" y="-100"/><use href="#tW_c" x="100" y="0"/><use href="#tW_c" x="100" y="100"/></g>
<g id="tC_c"><path d="M4.0,0.0 Q7.8,8.3 3.1,16.7 Q-1.8,25.0 2.2,33.3 Q6.2,41.7 1.6,50.0 Q-3.0,58.3 0.7,66.7 Q3.1,75.0 -0.7,83.3 Q-5.0,91.7 -1.3,100.0" fill="none" stroke="#cdb877" stroke-width="0.7" opacity="0.75"/>
<path d="M20.0,0.0 Q22.6,8.3 18.2,16.7 Q14.0,25.0 18.0,33.3 Q21.4,41.7 16.4,50.0 Q12.0,58.3 14.7,66.7 Q20.0,75.0 13.4,83.3 Q6.4,91.7 12.1,100.0" fill="none" stroke="#cdb877" stroke-width="0.7" opacity="0.75"/>
<path d="M36.0,0.0 Q40.7,8.3 35.1,16.7 Q30.0,25.0 35.0,33.3 Q41.4,41.7 34.5,50.0 Q29.1,58.3 34.1,66.7 Q40.8,75.0 34.9,83.3 Q30.7,91.7 33.9,100.0" fill="none" stroke="#cdb877" stroke-width="0.7" opacity="0.75"/>
<path d="M52.0,0.0 Q56.1,8.3 51.1,16.7 Q45.9,25.0 50.4,33.3 Q52.2,41.7 49.3,50.0 Q42.5,58.3 47.9,66.7 Q52.6,75.0 45.8,83.3 Q39.8,91.7 45.1,100.0" fill="none" stroke="#cdb877" stroke-width="0.7" opacity="0.75"/>
<path d="M68.0,0.0 Q71.2,8.3 66.6,16.7 Q60.4,25.0 65.8,33.3 Q68.7,41.7 63.7,50.0 Q58.6,58.3 62.3,66.7 Q67.4,75.0 61.6,83.3 Q53.8,91.7 59.3,100.0" fill="none" stroke="#cdb877" stroke-width="0.7" opacity="0.75"/>
<path d="M84.0,0.0 Q88.1,8.3 84.3,16.7 Q79.1,25.0 82.9,33.3 Q89.0,41.7 83.4,50.0 Q77.4,58.3 81.9,66.7 Q86.9,75.0 82.1,83.3 Q78.3,91.7 82.0,100.0" fill="none" stroke="#cdb877" stroke-width="0.7" opacity="0.75"/>
<path d="M60.0,2.0 Q61.8,8.8 57.3,15.6 Q51.4,22.4 55.1,29.2 Q56.4,36.0 51.7,42.8 Q46.8,49.6 48.9,56.4 Q52.2,63.2 46.0,70.0" fill="none" stroke="#d8636d" stroke-width="4.5" stroke-linecap="round"/>
<path d="M60.0,2.0 Q61.8,8.8 57.3,15.6 Q51.4,22.4 55.1,29.2 Q56.4,36.0 51.7,42.8 Q46.8,49.6 48.9,56.4 Q52.2,63.2 46.0,70.0" fill="none" stroke="#f8c9a0" stroke-width="1.6" stroke-linecap="round" opacity="0.9"/>
<path d="M8.0,2.0 Q11.7,8.8 9.4,15.6 Q6.9,22.4 11.5,29.2 Q15.8,36.0 13.9,42.8 Q11.4,49.6 15.5,56.4 Q20.5,63.2 18.0,70.0" fill="none" stroke="#d8636d" stroke-width="4.5" stroke-linecap="round"/>
<path d="M8.0,2.0 Q11.7,8.8 9.4,15.6 Q6.9,22.4 11.5,29.2 Q15.8,36.0 13.9,42.8 Q11.4,49.6 15.5,56.4 Q20.5,63.2 18.0,70.0" fill="none" stroke="#f8c9a0" stroke-width="1.6" stroke-linecap="round" opacity="0.9"/>
<circle cx="4.8" cy="36.0" r="2.2" fill="#46587a" stroke="#cdc4b4" stroke-width="1.0"/>
<circle cx="5.1" cy="36.4" r="1.0" fill="#7a6a58"/>
<circle cx="3.8" cy="47.6" r="3.5" fill="#46587a" stroke="#cdc4b4" stroke-width="1.0"/>
<circle cx="4.1" cy="48.0" r="1.6" fill="#7a6a58"/>
<circle cx="19.8" cy="8.2" r="3.1" fill="#46587a" stroke="#cdc4b4" stroke-width="1.0"/>
<circle cx="20.1" cy="8.6" r="1.4" fill="#7a6a58"/>
<circle cx="22.3" cy="51.5" r="2.7" fill="#46587a" stroke="#cdc4b4" stroke-width="1.0"/>
<circle cx="22.6" cy="51.9" r="1.2" fill="#7a6a58"/>
<circle cx="21.2" cy="60.8" r="3.5" fill="#46587a" stroke="#cdc4b4" stroke-width="1.0"/>
<circle cx="21.5" cy="61.2" r="1.6" fill="#7a6a58"/>
<circle cx="19.7" cy="96.4" r="2.8" fill="#46587a" stroke="#cdc4b4" stroke-width="1.0"/>
<circle cx="20.0" cy="96.8" r="1.3" fill="#7a6a58"/>
<circle cx="35.0" cy="36.6" r="2.5" fill="#46587a" stroke="#cdc4b4" stroke-width="1.0"/>
<circle cx="35.3" cy="37.0" r="1.1" fill="#7a6a58"/>
<circle cx="34.0" cy="52.7" r="1.8" fill="#46587a" stroke="#cdc4b4" stroke-width="1.0"/>
<circle cx="34.3" cy="53.1" r="0.8" fill="#7a6a58"/>
<circle cx="36.8" cy="62.4" r="2.7" fill="#46587a" stroke="#cdc4b4" stroke-width="1.0"/>
<circle cx="37.1" cy="62.8" r="1.2" fill="#7a6a58"/>
<circle cx="34.4" cy="82.8" r="2.1" fill="#46587a" stroke="#cdc4b4" stroke-width="1.0"/>
<circle cx="34.7" cy="83.2" r="0.9" fill="#7a6a58"/>
<circle cx="33.2" cy="94.0" r="2.2" fill="#46587a" stroke="#cdc4b4" stroke-width="1.0"/>
<circle cx="33.5" cy="94.4" r="1.0" fill="#7a6a58"/>
<circle cx="52.1" cy="5.6" r="2.8" fill="#46587a" stroke="#cdc4b4" stroke-width="1.0"/>
<circle cx="52.4" cy="6.0" r="1.2" fill="#7a6a58"/>
<circle cx="46.2" cy="33.4" r="3.2" fill="#46587a" stroke="#cdc4b4" stroke-width="1.0"/>
<circle cx="46.5" cy="33.8" r="1.4" fill="#7a6a58"/>
<circle cx="47.7" cy="48.6" r="2.0" fill="#46587a" stroke="#cdc4b4" stroke-width="1.0"/>
<circle cx="48.0" cy="49.0" r="0.9" fill="#7a6a58"/>
<circle cx="46.1" cy="66.0" r="3.4" fill="#46587a" stroke="#cdc4b4" stroke-width="1.0"/>
<circle cx="46.4" cy="66.4" r="1.5" fill="#7a6a58"/>
<circle cx="53.9" cy="88.7" r="2.2" fill="#46587a" stroke="#cdc4b4" stroke-width="1.0"/>
<circle cx="54.2" cy="89.1" r="1.0" fill="#7a6a58"/>
<circle cx="63.5" cy="25.2" r="2.9" fill="#46587a" stroke="#cdc4b4" stroke-width="1.0"/>
<circle cx="63.8" cy="25.6" r="1.3" fill="#7a6a58"/>
<circle cx="61.6" cy="49.5" r="2.0" fill="#46587a" stroke="#cdc4b4" stroke-width="1.0"/>
<circle cx="61.9" cy="49.9" r="0.9" fill="#7a6a58"/>
<circle cx="68.2" cy="62.8" r="1.7" fill="#46587a" stroke="#cdc4b4" stroke-width="1.0"/>
<circle cx="68.5" cy="63.2" r="0.8" fill="#7a6a58"/>
<circle cx="61.5" cy="81.0" r="2.4" fill="#46587a" stroke="#cdc4b4" stroke-width="1.0"/>
<circle cx="61.8" cy="81.4" r="1.1" fill="#7a6a58"/>
<circle cx="60.8" cy="97.0" r="2.5" fill="#46587a" stroke="#cdc4b4" stroke-width="1.0"/>
<circle cx="61.1" cy="97.4" r="1.1" fill="#7a6a58"/>
<circle cx="74.8" cy="3.3" r="2.0" fill="#46587a" stroke="#cdc4b4" stroke-width="1.0"/>
<circle cx="75.1" cy="3.7" r="0.9" fill="#7a6a58"/>
<circle cx="75.6" cy="17.5" r="2.6" fill="#46587a" stroke="#cdc4b4" stroke-width="1.0"/>
<circle cx="75.9" cy="17.9" r="1.2" fill="#7a6a58"/>
<circle cx="82.8" cy="32.5" r="2.7" fill="#46587a" stroke="#cdc4b4" stroke-width="1.0"/>
<circle cx="83.1" cy="32.9" r="1.2" fill="#7a6a58"/>
<circle cx="77.8" cy="54.2" r="2.6" fill="#46587a" stroke="#cdc4b4" stroke-width="1.0"/>
<circle cx="78.1" cy="54.6" r="1.2" fill="#7a6a58"/>
<circle cx="77.8" cy="60.3" r="2.5" fill="#46587a" stroke="#cdc4b4" stroke-width="1.0"/>
<circle cx="78.1" cy="60.7" r="1.1" fill="#7a6a58"/>
<circle cx="81.9" cy="81.4" r="2.6" fill="#46587a" stroke="#cdc4b4" stroke-width="1.0"/>
<circle cx="82.2" cy="81.8" r="1.2" fill="#7a6a58"/>
<circle cx="76.5" cy="90.6" r="2.1" fill="#46587a" stroke="#cdc4b4" stroke-width="1.0"/>
<circle cx="76.8" cy="91.0" r="0.9" fill="#7a6a58"/>
<circle cx="96.0" cy="4.1" r="1.8" fill="#46587a" stroke="#cdc4b4" stroke-width="1.0"/>
<circle cx="96.3" cy="4.5" r="0.8" fill="#7a6a58"/>
<circle cx="97.1" cy="34.9" r="3.4" fill="#46587a" stroke="#cdc4b4" stroke-width="1.0"/>
<circle cx="97.4" cy="35.3" r="1.5" fill="#7a6a58"/>
<circle cx="95.4" cy="52.1" r="2.6" fill="#46587a" stroke="#cdc4b4" stroke-width="1.0"/>
<circle cx="95.7" cy="52.5" r="1.2" fill="#7a6a58"/>
<circle cx="90.4" cy="67.5" r="3.4" fill="#46587a" stroke="#cdc4b4" stroke-width="1.0"/>
<circle cx="90.7" cy="67.9" r="1.5" fill="#7a6a58"/>
<circle cx="94.2" cy="95.4" r="2.9" fill="#46587a" stroke="#cdc4b4" stroke-width="1.0"/>
<circle cx="94.5" cy="95.8" r="1.3" fill="#7a6a58"/>
<circle cx="81.5" cy="52.8" r="0.8" fill="#cdb877"/>
<circle cx="80.1" cy="33.9" r="0.7" fill="#7fa8c8"/>
<circle cx="7.4" cy="97.1" r="1.0" fill="#cdb877"/>
<circle cx="19.1" cy="39.5" r="0.8" fill="#7fa8c8"/>
<circle cx="66.7" cy="6.0" r="0.6" fill="#cdb877"/>
<circle cx="46.5" cy="47.2" r="0.7" fill="#7fa8c8"/>
<circle cx="21.9" cy="0.3" r="1.0" fill="#e07a5a"/>
<circle cx="61.0" cy="25.7" r="0.7" fill="#7fa8c8"/>
<circle cx="87.8" cy="55.1" r="0.9" fill="#e07a5a"/>
<circle cx="16.2" cy="60.8" r="0.9" fill="#cdb877"/>
<circle cx="77.4" cy="47.2" r="0.8" fill="#e07a5a"/>
<circle cx="7.9" cy="69.5" r="0.6" fill="#cdb877"/>
<circle cx="86.5" cy="60.8" r="0.6" fill="#7fa8c8"/>
<circle cx="8.0" cy="87.9" r="1.0" fill="#7fa8c8"/>
<circle cx="83.8" cy="82.8" r="0.5" fill="#cdb877"/>
<circle cx="45.4" cy="20.5" r="1.0" fill="#7fa8c8"/>
<circle cx="23.4" cy="48.7" r="1.0" fill="#e07a5a"/>
<circle cx="7.7" cy="91.6" r="0.9" fill="#7fa8c8"/>
<circle cx="51.2" cy="43.4" r="0.9" fill="#7fa8c8"/>
<circle cx="6.7" cy="88.1" r="0.6" fill="#7fa8c8"/>
<circle cx="93.0" cy="47.9" r="0.6" fill="#cdb877"/>
<circle cx="16.7" cy="87.4" r="0.6" fill="#e07a5a"/>
<circle cx="32.7" cy="86.0" r="0.6" fill="#e07a5a"/>
<circle cx="71.1" cy="0.6" r="0.7" fill="#cdb877"/>
<circle cx="11.1" cy="78.6" r="0.8" fill="#cdb877"/>
<circle cx="7.6" cy="24.5" r="0.9" fill="#7fa8c8"/>
<circle cx="22.9" cy="18.0" r="0.9" fill="#e07a5a"/>
<circle cx="67.7" cy="61.0" r="0.7" fill="#7fa8c8"/>
<circle cx="78.2" cy="56.8" r="1.0" fill="#cdb877"/>
<circle cx="78.7" cy="61.3" r="0.7" fill="#e07a5a"/>
<circle cx="25.2" cy="59.7" r="1.0" fill="#7fa8c8"/>
<circle cx="13.3" cy="8.3" r="0.6" fill="#cdb877"/>
<circle cx="17.8" cy="90.2" r="0.7" fill="#cdb877"/>
<circle cx="79.4" cy="67.5" r="0.9" fill="#e07a5a"/>
<circle cx="40.3" cy="93.6" r="0.6" fill="#cdb877"/>
<circle cx="37.2" cy="17.5" r="0.9" fill="#cdb877"/>
<circle cx="2.0" cy="94.9" r="0.9" fill="#7fa8c8"/>
<circle cx="80.7" cy="95.3" r="0.6" fill="#cdb877"/>
<circle cx="98.7" cy="66.1" r="1.0" fill="#e07a5a"/>
<circle cx="76.0" cy="96.8" r="0.6" fill="#cdb877"/>
<g transform="translate(20.0,22.0) rotate(-14)"><path d="M-10.5,0.0 Q-8.3,4.5 -11.4,9.1 Q-13.5,13.6 -12.1,18.2 Q-10.0,22.7 -12.3,27.3 Q-14.9,31.8 -12.5,36.3 Q-11.4,40.9 -13.9,45.4" fill="none" stroke="#d8636d" stroke-width="0.7"/>
<path d="M-7.5,0.0 Q-5.4,4.6 -8.1,9.2 Q-10.1,13.8 -8.0,18.5 Q-5.7,23.1 -8.7,27.7 Q-9.8,32.3 -9.0,36.9 Q-6.6,41.5 -8.5,46.2" fill="none" stroke="#e9a474" stroke-width="0.7"/>
<path d="M-4.5,0.0 Q-2.2,3.9 -4.5,7.7 Q-6.6,11.6 -5.0,15.4 Q-3.7,19.3 -4.5,23.1 Q-7.8,27.0 -5.4,30.8 Q-4.2,34.7 -5.7,38.6" fill="none" stroke="#e9a474" stroke-width="1.0"/>
<path d="M-1.5,0.0 Q0.1,3.6 -2.1,7.1 Q-4.6,10.7 -3.0,14.2 Q-1.3,17.8 -3.0,21.3 Q-4.3,24.9 -3.1,28.4 Q-1.7,32.0 -3.8,35.5" fill="none" stroke="#d8636d" stroke-width="0.9"/>
<path d="M1.5,0.0 Q4.1,3.9 2.2,7.8 Q0.0,11.6 2.2,15.5 Q5.1,19.4 4.4,23.3 Q2.7,27.2 4.0,31.0 Q6.3,34.9 5.0,38.8" fill="none" stroke="#e9a474" stroke-width="0.7"/>
<path d="M4.5,0.0 Q7.2,3.8 4.9,7.6 Q3.3,11.4 5.5,15.2 Q7.8,19.0 7.6,22.8 Q6.0,26.6 7.9,30.4 Q9.5,34.2 8.4,38.0" fill="none" stroke="#e9a474" stroke-width="0.8"/>
<path d="M7.5,0.0 Q9.5,4.6 7.6,9.2 Q5.7,13.8 7.4,18.4 Q8.3,23.0 6.8,27.6 Q4.1,32.2 6.8,36.8 Q8.1,41.4 6.0,46.0" fill="none" stroke="#d8636d" stroke-width="0.8"/>
<path d="M10.5,0.0 Q12.3,5.1 10.4,10.1 Q7.1,15.2 9.7,20.3 Q10.7,25.3 8.8,30.4 Q7.1,35.5 7.9,40.5 Q10.4,45.6 7.7,50.7" fill="none" stroke="#e9a474" stroke-width="0.9"/>
<path d="M-5.5,-1.0 Q-3.8,3.2 -5.8,7.4 Q-9.6,11.6 -7.4,15.7 Q-6.0,19.9 -8.5,24.1 Q-10.8,28.3 -8.8,32.5" fill="none" stroke="#d8636d" stroke-width="4.2" stroke-linecap="round" stroke-dasharray="1.2 0.8"/>
<path d="M-5.5,-1.0 Q-3.8,3.2 -5.8,7.4 Q-9.6,11.6 -7.4,15.7 Q-6.0,19.9 -8.5,24.1 Q-10.8,28.3 -8.8,32.5" fill="none" stroke="#ee9b6c" stroke-width="2.0" stroke-linecap="round"/>
<path d="M-5.5,-1.0 Q-3.8,3.2 -5.8,7.4 Q-9.6,11.6 -7.4,15.7 Q-6.0,19.9 -8.5,24.1 Q-10.8,28.3 -8.8,32.5" fill="none" stroke="#f8c9a0" stroke-width="0.9" stroke-linecap="round"/>
<path d="M0.0,-1.0 Q2.5,2.3 -0.2,5.7 Q-2.5,9.0 -1.4,12.4 Q1.2,15.7 -0.9,19.1 Q-2.7,22.4 -1.4,25.8" fill="none" stroke="#d8636d" stroke-width="4.2" stroke-linecap="round" stroke-dasharray="1.2 0.8"/>
<path d="M0.0,-1.0 Q2.5,2.3 -0.2,5.7 Q-2.5,9.0 -1.4,12.4 Q1.2,15.7 -0.9,19.1 Q-2.7,22.4 -1.4,25.8" fill="none" stroke="#ee9b6c" stroke-width="2.0" stroke-linecap="round"/>
<path d="M0.0,-1.0 Q2.5,2.3 -0.2,5.7 Q-2.5,9.0 -1.4,12.4 Q1.2,15.7 -0.9,19.1 Q-2.7,22.4 -1.4,25.8" fill="none" stroke="#f8c9a0" stroke-width="0.9" stroke-linecap="round"/>
<path d="M5.5,-1.0 Q6.5,2.4 4.7,5.7 Q1.4,9.1 3.8,12.4 Q5.0,15.8 2.3,19.2 Q0.6,22.5 1.6,25.9" fill="none" stroke="#d8636d" stroke-width="4.2" stroke-linecap="round" stroke-dasharray="1.2 0.8"/>
<path d="M5.5,-1.0 Q6.5,2.4 4.7,5.7 Q1.4,9.1 3.8,12.4 Q5.0,15.8 2.3,19.2 Q0.6,22.5 1.6,25.9" fill="none" stroke="#ee9b6c" stroke-width="2.0" stroke-linecap="round"/>
<path d="M5.5,-1.0 Q6.5,2.4 4.7,5.7 Q1.4,9.1 3.8,12.4 Q5.0,15.8 2.3,19.2 Q0.6,22.5 1.6,25.9" fill="none" stroke="#f8c9a0" stroke-width="0.9" stroke-linecap="round"/>
<path d="M-12.5,0 C-12.5,-19.5 12.5,-19.5 12.5,0 Q0,3.3 -12.5,0 Z" fill="#f0a66e"/>
<path d="M-9.0,-0.8 L-5.0,-12.8" stroke="#fbd3a6" stroke-width="1.1" opacity="0.6"/>
<path d="M-5.4,-0.8 L-3.0,-12.8" stroke="#fbd3a6" stroke-width="1.1" opacity="0.6"/>
<path d="M-1.8,-0.8 L-1.0,-12.8" stroke="#fbd3a6" stroke-width="1.1" opacity="0.6"/>
<path d="M1.8,-0.8 L1.0,-12.8" stroke="#fbd3a6" stroke-width="1.1" opacity="0.6"/>
<path d="M5.4,-0.8 L3.0,-12.8" stroke="#fbd3a6" stroke-width="1.1" opacity="0.6"/>
<path d="M9.0,-0.8 L5.0,-12.8" stroke="#fbd3a6" stroke-width="1.1" opacity="0.6"/>
<path d="M-12.5,0 Q0,3.3 12.5,0" fill="none" stroke="#da7350" stroke-width="2.0"/></g>
<g transform="translate(72.0,8.0) rotate(8)"><path d="M-9.2,0.0 Q-7.4,3.9 -7.8,7.8 Q-9.9,11.6 -7.3,15.5 Q-6.2,19.4 -7.6,23.3 Q-9.2,27.1 -5.8,31.0 Q-4.7,34.9 -5.6,38.8" fill="none" stroke="#d8636d" stroke-width="0.8"/>
<path d="M-6.6,0.0 Q-5.3,3.4 -7.0,6.7 Q-8.2,10.1 -7.3,13.5 Q-4.5,16.8 -7.2,20.2 Q-8.6,23.6 -7.2,26.9 Q-5.8,30.3 -7.2,33.7" fill="none" stroke="#e9a474" stroke-width="1.0"/>
<path d="M-4.0,0.0 Q-1.4,4.1 -4.6,8.1 Q-5.9,12.2 -4.0,16.2 Q-1.6,20.3 -3.7,24.4 Q-5.7,28.4 -4.5,32.5 Q-1.9,36.5 -3.9,40.6" fill="none" stroke="#e9a474" stroke-width="0.9"/>
<path d="M-1.3,0.0 Q1.0,3.7 -0.1,7.5 Q-2.1,11.2 -0.0,14.9 Q2.7,18.6 1.4,22.4 Q-1.1,26.1 2.2,29.8 Q3.3,33.6 2.3,37.3" fill="none" stroke="#d8636d" stroke-width="0.8"/>
<path d="M1.3,0.0 Q2.5,4.5 0.7,9.0 Q-1.9,13.5 -0.1,18.0 Q1.4,22.5 -0.8,27.0 Q-3.1,31.5 -1.3,36.0 Q0.4,40.5 -2.2,45.0" fill="none" stroke="#e9a474" stroke-width="0.8"/>
<path d="M4.0,0.0 Q5.1,3.3 3.5,6.5 Q1.2,9.8 3.6,13.0 Q5.0,16.3 3.4,19.5 Q1.2,22.8 3.9,26.0 Q5.0,29.3 3.2,32.5" fill="none" stroke="#e9a474" stroke-width="0.8"/>
<path d="M6.6,0.0 Q8.0,4.3 5.3,8.7 Q4.0,13.0 5.7,17.4 Q7.3,21.7 4.0,26.0 Q1.6,30.4 3.3,34.7 Q4.7,39.1 3.0,43.4" fill="none" stroke="#d8636d" stroke-width="0.6"/>
<path d="M9.2,0.0 Q11.0,4.1 9.4,8.3 Q6.9,12.4 7.6,16.6 Q10.3,20.7 7.6,24.9 Q5.5,29.0 7.5,33.2 Q8.0,37.3 6.5,41.5" fill="none" stroke="#e9a474" stroke-width="0.6"/>
<path d="M-4.8,-1.0 Q-3.8,2.4 -5.8,5.8 Q-8.5,9.2 -7.1,12.6 Q-5.5,16.0 -8.0,19.5 Q-11.2,22.9 -9.0,26.3" fill="none" stroke="#d8636d" stroke-width="3.7" stroke-linecap="round" stroke-dasharray="1.2 0.8"/>
<path d="M-4.8,-1.0 Q-3.8,2.4 -5.8,5.8 Q-8.5,9.2 -7.1,12.6 Q-5.5,16.0 -8.0,19.5 Q-11.2,22.9 -9.0,26.3" fill="none" stroke="#ee9b6c" stroke-width="1.7" stroke-linecap="round"/>
<path d="M-4.8,-1.0 Q-3.8,2.4 -5.8,5.8 Q-8.5,9.2 -7.1,12.6 Q-5.5,16.0 -8.0,19.5 Q-11.2,22.9 -9.0,26.3" fill="none" stroke="#f8c9a0" stroke-width="0.8" stroke-linecap="round"/>
<path d="M0.0,-1.0 Q2.0,3.3 1.3,7.7 Q-1.0,12.0 3.0,16.4 Q5.2,20.7 3.0,25.1 Q1.8,29.4 4.5,33.8" fill="none" stroke="#d8636d" stroke-width="3.7" stroke-linecap="round" stroke-dasharray="1.2 0.8"/>
<path d="M0.0,-1.0 Q2.0,3.3 1.3,7.7 Q-1.0,12.0 3.0,16.4 Q5.2,20.7 3.0,25.1 Q1.8,29.4 4.5,33.8" fill="none" stroke="#ee9b6c" stroke-width="1.7" stroke-linecap="round"/>
<path d="M0.0,-1.0 Q2.0,3.3 1.3,7.7 Q-1.0,12.0 3.0,16.4 Q5.2,20.7 3.0,25.1 Q1.8,29.4 4.5,33.8" fill="none" stroke="#f8c9a0" stroke-width="0.8" stroke-linecap="round"/>
<path d="M4.8,-1.0 Q7.7,2.1 5.8,5.2 Q4.5,8.2 6.4,11.3 Q9.8,14.4 8.3,17.5 Q6.0,20.5 9.3,23.6" fill="none" stroke="#d8636d" stroke-width="3.7" stroke-linecap="round" stroke-dasharray="1.2 0.8"/>
<path d="M4.8,-1.0 Q7.7,2.1 5.8,5.2 Q4.5,8.2 6.4,11.3 Q9.8,14.4 8.3,17.5 Q6.0,20.5 9.3,23.6" fill="none" stroke="#ee9b6c" stroke-width="1.7" stroke-linecap="round"/>
<path d="M4.8,-1.0 Q7.7,2.1 5.8,5.2 Q4.5,8.2 6.4,11.3 Q9.8,14.4 8.3,17.5 Q6.0,20.5 9.3,23.6" fill="none" stroke="#f8c9a0" stroke-width="0.8" stroke-linecap="round"/>
<path d="M-11.0,0 C-11.0,-16.9 11.0,-16.9 11.0,0 Q0,2.9 -11.0,0 Z" fill="#f0a66e"/>
<path d="M-7.9,-0.7 L-4.4,-11.0" stroke="#fbd3a6" stroke-width="1.0" opacity="0.6"/>
<path d="M-4.8,-0.7 L-2.6,-11.0" stroke="#fbd3a6" stroke-width="1.0" opacity="0.6"/>
<path d="M-1.6,-0.7 L-0.9,-11.0" stroke="#fbd3a6" stroke-width="1.0" opacity="0.6"/>
<path d="M1.6,-0.7 L0.9,-11.0" stroke="#fbd3a6" stroke-width="1.0" opacity="0.6"/>
<path d="M4.8,-0.7 L2.6,-11.0" stroke="#fbd3a6" stroke-width="1.0" opacity="0.6"/>
<path d="M7.9,-0.7 L4.4,-11.0" stroke="#fbd3a6" stroke-width="1.0" opacity="0.6"/>
<path d="M-11.0,0 Q0,2.9 11.0,0" fill="none" stroke="#da7350" stroke-width="1.8"/></g>
<g transform="translate(46.0,62.0) rotate(-18)"><path d="M-10.1,0.0 Q-8.5,4.8 -11.0,9.5 Q-12.3,14.3 -10.2,19.1 Q-8.5,23.8 -11.5,28.6 Q-12.8,33.3 -11.5,38.1 Q-9.9,42.9 -11.2,47.6" fill="none" stroke="#d8636d" stroke-width="1.0"/>
<path d="M-7.2,0.0 Q-4.7,3.9 -6.4,7.9 Q-7.9,11.8 -6.7,15.7 Q-4.8,19.7 -6.9,23.6 Q-8.3,27.5 -5.3,31.5 Q-3.8,35.4 -5.6,39.4" fill="none" stroke="#e9a474" stroke-width="0.9"/>
<path d="M-4.3,0.0 Q-2.3,4.0 -3.8,8.0 Q-5.8,12.0 -4.2,16.0 Q-2.8,20.0 -4.1,24.1 Q-6.3,28.1 -4.2,32.1 Q-2.7,36.1 -4.0,40.1" fill="none" stroke="#e9a474" stroke-width="1.0"/>
<path d="M-1.4,0.0 Q0.2,4.8 -0.2,9.5 Q-2.7,14.3 -1.1,19.0 Q1.3,23.8 -0.8,28.5 Q-2.2,33.3 1.0,38.0 Q3.0,42.8 0.7,47.5" fill="none" stroke="#d8636d" stroke-width="0.9"/>
<path d="M1.4,0.0 Q3.6,4.0 0.7,7.9 Q0.2,11.9 1.6,15.8 Q3.2,19.8 2.4,23.7 Q-0.6,27.7 0.9,31.6 Q3.7,35.6 1.7,39.6" fill="none" stroke="#e9a474" stroke-width="0.6"/>
<path d="M4.3,0.0 Q7.0,4.5 4.8,9.0 Q4.2,13.6 6.2,18.1 Q8.3,22.6 6.3,27.1 Q5.4,31.6 7.8,36.2 Q9.3,40.7 8.0,45.2" fill="none" stroke="#e9a474" stroke-width="0.9"/>
<path d="M7.2,0.0 Q8.9,4.5 8.4,8.9 Q5.6,13.4 9.0,17.9 Q10.9,22.4 8.4,26.8 Q8.1,31.3 10.1,35.8 Q11.4,40.2 10.3,44.7" fill="none" stroke="#d8636d" stroke-width="0.9"/>
<path d="M10.1,0.0 Q11.4,4.1 9.9,8.2 Q7.3,12.3 8.9,16.4 Q10.8,20.5 8.7,24.6 Q6.4,28.7 8.9,32.8 Q9.9,36.9 7.9,41.0" fill="none" stroke="#e9a474" stroke-width="0.6"/>
<path d="M-5.3,-1.0 Q-3.0,3.3 -4.0,7.7 Q-5.2,12.0 -2.4,16.3 Q-0.8,20.6 -1.7,25.0 Q-3.7,29.3 -1.1,33.6" fill="none" stroke="#d8636d" stroke-width="4.0" stroke-linecap="round" stroke-dasharray="1.2 0.8"/>
<path d="M-5.3,-1.0 Q-3.0,3.3 -4.0,7.7 Q-5.2,12.0 -2.4,16.3 Q-0.8,20.6 -1.7,25.0 Q-3.7,29.3 -1.1,33.6" fill="none" stroke="#ee9b6c" stroke-width="1.9" stroke-linecap="round"/>
<path d="M-5.3,-1.0 Q-3.0,3.3 -4.0,7.7 Q-5.2,12.0 -2.4,16.3 Q-0.8,20.6 -1.7,25.0 Q-3.7,29.3 -1.1,33.6" fill="none" stroke="#f8c9a0" stroke-width="0.9" stroke-linecap="round"/>
<path d="M0.0,-1.0 Q3.2,3.1 0.2,7.1 Q-2.4,11.2 0.5,15.2 Q2.7,19.3 1.3,23.4 Q-0.7,27.4 1.1,31.5" fill="none" stroke="#d8636d" stroke-width="4.0" stroke-linecap="round" stroke-dasharray="1.2 0.8"/>
<path d="M0.0,-1.0 Q3.2,3.1 0.2,7.1 Q-2.4,11.2 0.5,15.2 Q2.7,19.3 1.3,23.4 Q-0.7,27.4 1.1,31.5" fill="none" stroke="#ee9b6c" stroke-width="1.9" stroke-linecap="round"/>
<path d="M0.0,-1.0 Q3.2,3.1 0.2,7.1 Q-2.4,11.2 0.5,15.2 Q2.7,19.3 1.3,23.4 Q-0.7,27.4 1.1,31.5" fill="none" stroke="#f8c9a0" stroke-width="0.9" stroke-linecap="round"/>
<path d="M5.3,-1.0 Q7.2,2.7 4.6,6.3 Q2.3,10.0 2.9,13.7 Q5.5,17.3 2.2,21.0 Q0.1,24.7 2.1,28.4" fill="none" stroke="#d8636d" stroke-width="4.0" stroke-linecap="round" stroke-dasharray="1.2 0.8"/>
<path d="M5.3,-1.0 Q7.2,2.7 4.6,6.3 Q2.3,10.0 2.9,13.7 Q5.5,17.3 2.2,21.0 Q0.1,24.7 2.1,28.4" fill="none" stroke="#ee9b6c" stroke-width="1.9" stroke-linecap="round"/>
<path d="M5.3,-1.0 Q7.2,2.7 4.6,6.3 Q2.3,10.0 2.9,13.7 Q5.5,17.3 2.2,21.0 Q0.1,24.7 2.1,28.4" fill="none" stroke="#f8c9a0" stroke-width="0.9" stroke-linecap="round"/>
<path d="M-12.0,0 C-12.0,-18.2 12.0,-18.2 12.0,0 Q0,3.1 -12.0,0 Z" fill="#f0a66e"/>
<path d="M-8.6,-0.7 L-4.8,-11.9" stroke="#fbd3a6" stroke-width="1.1" opacity="0.6"/>
<path d="M-5.2,-0.7 L-2.9,-11.9" stroke="#fbd3a6" stroke-width="1.1" opacity="0.6"/>
<path d="M-1.7,-0.7 L-1.0,-11.9" stroke="#fbd3a6" stroke-width="1.1" opacity="0.6"/>
<path d="M1.7,-0.7 L1.0,-11.9" stroke="#fbd3a6" stroke-width="1.1" opacity="0.6"/>
<path d="M5.2,-0.7 L2.9,-11.9" stroke="#fbd3a6" stroke-width="1.1" opacity="0.6"/>
<path d="M8.6,-0.7 L4.8,-11.9" stroke="#fbd3a6" stroke-width="1.1" opacity="0.6"/>
<path d="M-12.0,0 Q0,3.1 12.0,0" fill="none" stroke="#da7350" stroke-width="1.9"/></g>
<g transform="translate(94.0,74.0) rotate(12)"><path d="M-8.4,0.0 Q-6.4,3.6 -9.7,7.2 Q-11.3,10.8 -8.9,14.4 Q-8.2,18.0 -10.9,21.6 Q-13.0,25.2 -10.9,28.8 Q-8.7,32.4 -11.3,36.0" fill="none" stroke="#d8636d" stroke-width="0.9"/>
<path d="M-6.0,0.0 Q-3.5,4.1 -6.8,8.2 Q-7.4,12.3 -5.6,16.4 Q-4.5,20.6 -7.1,24.7 Q-8.9,28.8 -6.1,32.9 Q-4.2,37.0 -6.6,41.1" fill="none" stroke="#e9a474" stroke-width="0.7"/>
<path d="M-3.6,0.0 Q-1.1,3.0 -3.7,6.0 Q-5.5,9.0 -3.4,12.1 Q-0.7,15.1 -2.6,18.1 Q-5.0,21.1 -2.4,24.1 Q-1.4,27.1 -3.0,30.2" fill="none" stroke="#e9a474" stroke-width="0.9"/>
<path d="M-1.2,0.0 Q-0.1,2.9 -1.9,5.9 Q-3.8,8.8 -3.0,11.8 Q-0.3,14.7 -3.2,17.7 Q-4.6,20.6 -3.3,23.6 Q-2.2,26.5 -4.3,29.4" fill="none" stroke="#d8636d" stroke-width="0.6"/>
<path d="M1.2,0.0 Q3.0,3.3 0.5,6.7 Q-2.2,10.0 0.2,13.3 Q2.0,16.7 -0.8,20.0 Q-2.8,23.3 -1.8,26.6 Q0.2,30.0 -1.8,33.3" fill="none" stroke="#e9a474" stroke-width="0.6"/>
<path d="M3.6,0.0 Q5.6,3.9 4.0,7.7 Q1.8,11.6 4.5,15.5 Q6.6,19.3 5.6,23.2 Q2.7,27.0 4.9,30.9 Q6.9,34.8 5.7,38.6" fill="none" stroke="#e9a474" stroke-width="0.8"/>
<path d="M6.0,0.0 Q7.8,3.6 6.0,7.1 Q4.2,10.7 5.1,14.3 Q7.5,17.8 5.8,21.4 Q2.7,25.0 5.1,28.6 Q6.7,32.1 4.8,35.7" fill="none" stroke="#d8636d" stroke-width="0.9"/>
<path d="M8.4,0.0 Q10.0,3.0 7.6,6.0 Q6.4,9.0 7.1,12.0 Q9.8,15.0 7.6,18.0 Q4.9,21.0 6.1,23.9 Q9.3,26.9 6.5,29.9" fill="none" stroke="#e9a474" stroke-width="0.8"/>
<path d="M-4.4,-1.0 Q-1.7,2.6 -2.8,6.3 Q-5.0,9.9 -1.4,13.5 Q0.2,17.1 -1.6,20.8 Q-3.4,24.4 0.1,28.0" fill="none" stroke="#d8636d" stroke-width="3.4" stroke-linecap="round" stroke-dasharray="1.2 0.8"/>
<path d="M-4.4,-1.0 Q-1.7,2.6 -2.8,6.3 Q-5.0,9.9 -1.4,13.5 Q0.2,17.1 -1.6,20.8 Q-3.4,24.4 0.1,28.0" fill="none" stroke="#ee9b6c" stroke-width="1.6" stroke-linecap="round"/>
<path d="M-4.4,-1.0 Q-1.7,2.6 -2.8,6.3 Q-5.0,9.9 -1.4,13.5 Q0.2,17.1 -1.6,20.8 Q-3.4,24.4 0.1,28.0" fill="none" stroke="#f8c9a0" stroke-width="0.7" stroke-linecap="round"/>
<path d="M0.0,-1.0 Q0.9,1.8 -1.8,4.6 Q-4.1,7.4 -1.7,10.3 Q-1.1,13.1 -3.5,15.9 Q-6.9,18.7 -4.5,21.5" fill="none" stroke="#d8636d" stroke-width="3.4" stroke-linecap="round" stroke-dasharray="1.2 0.8"/>
<path d="M0.0,-1.0 Q0.9,1.8 -1.8,4.6 Q-4.1,7.4 -1.7,10.3 Q-1.1,13.1 -3.5,15.9 Q-6.9,18.7 -4.5,21.5" fill="none" stroke="#ee9b6c" stroke-width="1.6" stroke-linecap="round"/>
<path d="M0.0,-1.0 Q0.9,1.8 -1.8,4.6 Q-4.1,7.4 -1.7,10.3 Q-1.1,13.1 -3.5,15.9 Q-6.9,18.7 -4.5,21.5" fill="none" stroke="#f8c9a0" stroke-width="0.7" stroke-linecap="round"/>
<path d="M4.4,-1.0 Q6.4,2.7 3.9,6.4 Q0.4,10.2 3.0,13.9 Q5.7,17.6 2.3,21.3 Q-0.9,25.1 1.7,28.8" fill="none" stroke="#d8636d" stroke-width="3.4" stroke-linecap="round" stroke-dasharray="1.2 0.8"/>
<path d="M4.4,-1.0 Q6.4,2.7 3.9,6.4 Q0.4,10.2 3.0,13.9 Q5.7,17.6 2.3,21.3 Q-0.9,25.1 1.7,28.8" fill="none" stroke="#ee9b6c" stroke-width="1.6" stroke-linecap="round"/>
<path d="M4.4,-1.0 Q6.4,2.7 3.9,6.4 Q0.4,10.2 3.0,13.9 Q5.7,17.6 2.3,21.3 Q-0.9,25.1 1.7,28.8" fill="none" stroke="#f8c9a0" stroke-width="0.7" stroke-linecap="round"/>
<path d="M-10.0,0 C-10.0,-15.6 10.0,-15.6 10.0,0 Q0,2.6 -10.0,0 Z" fill="#f0a66e"/>
<path d="M-7.2,-0.6 L-4.0,-10.2" stroke="#fbd3a6" stroke-width="0.9" opacity="0.6"/>
<path d="M-4.3,-0.6 L-2.4,-10.2" stroke="#fbd3a6" stroke-width="0.9" opacity="0.6"/>
<path d="M-1.4,-0.6 L-0.8,-10.2" stroke="#fbd3a6" stroke-width="0.9" opacity="0.6"/>
<path d="M1.4,-0.6 L0.8,-10.2" stroke="#fbd3a6" stroke-width="0.9" opacity="0.6"/>
<path d="M4.3,-0.6 L2.4,-10.2" stroke="#fbd3a6" stroke-width="0.9" opacity="0.6"/>
<path d="M7.2,-0.6 L4.0,-10.2" stroke="#fbd3a6" stroke-width="0.9" opacity="0.6"/>
<path d="M-10.0,0 Q0,2.6 10.0,0" fill="none" stroke="#da7350" stroke-width="1.6"/></g>
<g transform="translate(52.0,26.0) rotate(-4)"><path d="M-8.0,0.0 Q-5.4,2.9 -7.7,5.7 Q-8.5,8.6 -6.2,11.4 Q-3.8,14.3 -6.5,17.1 Q-6.8,20.0 -4.4,22.9 Q-3.3,25.7 -4.3,28.6" fill="none" stroke="#d8636d" stroke-width="0.9"/>
<path d="M-4.8,0.0 Q-2.5,2.6 -4.9,5.2 Q-6.9,7.9 -5.6,10.5 Q-3.4,13.1 -5.4,15.7 Q-7.5,18.3 -5.9,21.0 Q-4.1,23.6 -6.2,26.2" fill="none" stroke="#e9a474" stroke-width="0.7"/>
<path d="M-1.6,0.0 Q-0.5,2.5 -2.0,5.1 Q-4.7,7.6 -2.1,10.2 Q-1.3,12.7 -3.3,15.2 Q-5.9,17.8 -3.9,20.3 Q-1.3,22.9 -4.2,25.4" fill="none" stroke="#e9a474" stroke-width="0.7"/>
<path d="M1.6,0.0 Q4.0,2.0 2.6,4.0 Q0.4,6.0 2.9,8.0 Q5.4,10.0 4.0,12.0 Q2.1,13.9 3.8,15.9 Q5.3,17.9 4.3,19.9" fill="none" stroke="#d8636d" stroke-width="0.8"/>
<path d="M4.8,0.0 Q6.6,2.1 3.6,4.2 Q2.5,6.3 2.9,8.5 Q5.7,10.6 2.7,12.7 Q1.5,14.8 2.7,16.9 Q4.4,19.0 1.9,21.2" fill="none" stroke="#e9a474" stroke-width="0.9"/>
<path d="M8.0,0.0 Q10.2,2.5 7.8,5.0 Q5.7,7.5 8.4,10.0 Q10.6,12.5 8.8,15.0 Q5.9,17.5 8.3,20.0 Q10.3,22.6 8.4,25.1" fill="none" stroke="#e9a474" stroke-width="0.9"/>
<path d="M-2.3,-1.0 Q0.8,0.9 -2.6,2.9 Q-4.2,4.8 -2.0,6.8 Q-0.2,8.7 -1.6,10.6 Q-4.0,12.6 -1.5,14.5" fill="none" stroke="#d8636d" stroke-width="3.3" stroke-linecap="round" stroke-dasharray="1.2 0.8"/>
<path d="M-2.3,-1.0 Q0.8,0.9 -2.6,2.9 Q-4.2,4.8 -2.0,6.8 Q-0.2,8.7 -1.6,10.6 Q-4.0,12.6 -1.5,14.5" fill="none" stroke="#ee9b6c" stroke-width="1.6" stroke-linecap="round"/>
<path d="M-2.3,-1.0 Q0.8,0.9 -2.6,2.9 Q-4.2,4.8 -2.0,6.8 Q-0.2,8.7 -1.6,10.6 Q-4.0,12.6 -1.5,14.5" fill="none" stroke="#f8c9a0" stroke-width="0.7" stroke-linecap="round"/>
<path d="M2.3,-1.0 Q4.6,1.5 3.2,4.0 Q0.4,6.5 4.1,9.0 Q7.1,11.5 3.8,14.1 Q2.4,16.6 5.4,19.1" fill="none" stroke="#d8636d" stroke-width="3.3" stroke-linecap="round" stroke-dasharray="1.2 0.8"/>
<path d="M2.3,-1.0 Q4.6,1.5 3.2,4.0 Q0.4,6.5 4.1,9.0 Q7.1,11.5 3.8,14.1 Q2.4,16.6 5.4,19.1" fill="none" stroke="#ee9b6c" stroke-width="1.6" stroke-linecap="round"/>
<path d="M2.3,-1.0 Q4.6,1.5 3.2,4.0 Q0.4,6.5 4.1,9.0 Q7.1,11.5 3.8,14.1 Q2.4,16.6 5.4,19.1" fill="none" stroke="#f8c9a0" stroke-width="0.7" stroke-linecap="round"/>
<path d="M-9.5,0 C-9.5,-14.3 9.5,-14.3 9.5,0 Q0,2.4 -9.5,0 Z" fill="#7fb3d2"/>
<path d="M-6.8,-0.6 L-3.8,-9.3" stroke="#c2e2ef" stroke-width="0.9" opacity="0.6"/>
<path d="M-4.1,-0.6 L-2.3,-9.3" stroke="#c2e2ef" stroke-width="0.9" opacity="0.6"/>
<path d="M-1.4,-0.6 L-0.8,-9.3" stroke="#c2e2ef" stroke-width="0.9" opacity="0.6"/>
<path d="M1.4,-0.6 L0.8,-9.3" stroke="#c2e2ef" stroke-width="0.9" opacity="0.6"/>
<path d="M4.1,-0.6 L2.3,-9.3" stroke="#c2e2ef" stroke-width="0.9" opacity="0.6"/>
<path d="M6.8,-0.6 L3.8,-9.3" stroke="#c2e2ef" stroke-width="0.9" opacity="0.6"/>
<path d="M-9.5,0 Q0,2.4 9.5,0" fill="none" stroke="#5d93b8" stroke-width="1.5"/></g>
<g transform="translate(14.0,66.0) rotate(6)"><path d="M-7.6,0.0 Q-6.4,2.2 -8.3,4.4 Q-10.1,6.7 -8.4,8.9 Q-7.3,11.1 -9.2,13.3 Q-12.5,15.5 -10.3,17.7 Q-8.8,20.0 -11.0,22.2" fill="none" stroke="#d8636d" stroke-width="0.7"/>
<path d="M-4.5,0.0 Q-2.6,1.9 -4.6,3.7 Q-6.1,5.6 -3.7,7.5 Q-1.5,9.3 -3.1,11.2 Q-5.3,13.1 -1.9,14.9 Q-0.8,16.8 -2.3,18.7" fill="none" stroke="#e9a474" stroke-width="1.0"/>
<path d="M-1.5,0.0 Q1.2,2.5 -1.6,4.9 Q-2.7,7.4 -0.9,9.9 Q1.0,12.3 -0.8,14.8 Q-1.8,17.3 0.5,19.8 Q2.6,22.2 0.2,24.7" fill="none" stroke="#e9a474" stroke-width="1.0"/>
<path d="M1.5,0.0 Q3.4,2.2 1.8,4.4 Q1.0,6.6 1.8,8.8 Q4.5,10.9 2.8,13.1 Q1.0,15.3 3.5,17.5 Q5.0,19.7 3.9,21.9" fill="none" stroke="#d8636d" stroke-width="0.9"/>
<path d="M4.5,0.0 Q6.2,2.3 4.2,4.5 Q1.9,6.8 5.0,9.0 Q5.7,11.3 4.8,13.6 Q1.8,15.8 4.6,18.1 Q5.6,20.3 3.9,22.6" fill="none" stroke="#e9a474" stroke-width="1.0"/>
<path d="M7.6,0.0 Q8.9,2.2 7.7,4.5 Q6.3,6.7 7.5,9.0 Q10.3,11.2 7.7,13.4 Q5.7,15.7 7.9,17.9 Q9.5,20.2 8.2,22.4" fill="none" stroke="#e9a474" stroke-width="0.8"/>
<path d="M-2.2,-1.0 Q-0.0,0.9 -2.7,2.8 Q-5.2,4.7 -3.5,6.7 Q-1.9,8.6 -5.3,10.5 Q-6.7,12.4 -5.5,14.3" fill="none" stroke="#d8636d" stroke-width="3.2" stroke-linecap="round" stroke-dasharray="1.2 0.8"/>
<path d="M-2.2,-1.0 Q-0.0,0.9 -2.7,2.8 Q-5.2,4.7 -3.5,6.7 Q-1.9,8.6 -5.3,10.5 Q-6.7,12.4 -5.5,14.3" fill="none" stroke="#ee9b6c" stroke-width="1.5" stroke-linecap="round"/>
<path d="M-2.2,-1.0 Q-0.0,0.9 -2.7,2.8 Q-5.2,4.7 -3.5,6.7 Q-1.9,8.6 -5.3,10.5 Q-6.7,12.4 -5.5,14.3" fill="none" stroke="#f8c9a0" stroke-width="0.7" stroke-linecap="round"/>
<path d="M2.2,-1.0 Q5.2,1.6 2.8,4.2 Q1.4,6.8 3.6,9.4 Q5.0,12.0 4.1,14.6 Q2.3,17.2 4.2,19.8" fill="none" stroke="#d8636d" stroke-width="3.2" stroke-linecap="round" stroke-dasharray="1.2 0.8"/>
<path d="M2.2,-1.0 Q5.2,1.6 2.8,4.2 Q1.4,6.8 3.6,9.4 Q5.0,12.0 4.1,14.6 Q2.3,17.2 4.2,19.8" fill="none" stroke="#ee9b6c" stroke-width="1.5" stroke-linecap="round"/>
<path d="M2.2,-1.0 Q5.2,1.6 2.8,4.2 Q1.4,6.8 3.6,9.4 Q5.0,12.0 4.1,14.6 Q2.3,17.2 4.2,19.8" fill="none" stroke="#f8c9a0" stroke-width="0.7" stroke-linecap="round"/>
<path d="M-9.0,0 C-9.0,-13.0 9.0,-13.0 9.0,0 Q0,2.2 -9.0,0 Z" fill="#7fb3d2"/>
<path d="M-6.5,-0.5 L-3.6,-8.5" stroke="#c2e2ef" stroke-width="0.8" opacity="0.6"/>
<path d="M-3.9,-0.5 L-2.1,-8.5" stroke="#c2e2ef" stroke-width="0.8" opacity="0.6"/>
<path d="M-1.3,-0.5 L-0.7,-8.5" stroke="#c2e2ef" stroke-width="0.8" opacity="0.6"/>
<path d="M1.3,-0.5 L0.7,-8.5" stroke="#c2e2ef" stroke-width="0.8" opacity="0.6"/>
<path d="M3.9,-0.5 L2.1,-8.5" stroke="#c2e2ef" stroke-width="0.8" opacity="0.6"/>
<path d="M6.5,-0.5 L3.6,-8.5" stroke="#c2e2ef" stroke-width="0.8" opacity="0.6"/>
<path d="M-9.0,0 Q0,2.2 9.0,0" fill="none" stroke="#5d93b8" stroke-width="1.4"/></g>
<g transform="translate(78.0,96.0) rotate(-8)"><path d="M-7.1,0.0 Q-4.9,1.9 -6.6,3.8 Q-9.2,5.7 -7.8,7.6 Q-5.5,9.5 -7.3,11.3 Q-9.6,13.2 -6.8,15.1 Q-5.1,17.0 -7.0,18.9" fill="none" stroke="#d8636d" stroke-width="0.9"/>
<path d="M-4.3,0.0 Q-2.5,2.3 -5.4,4.5 Q-6.9,6.8 -5.7,9.0 Q-3.3,11.3 -6.4,13.5 Q-7.7,15.8 -6.3,18.0 Q-4.7,20.3 -7.4,22.5" fill="none" stroke="#e9a474" stroke-width="0.7"/>
<path d="M-1.4,0.0 Q0.5,2.5 -0.8,5.0 Q-2.9,7.5 -0.6,10.0 Q1.4,12.6 0.2,15.1 Q-2.7,17.6 0.7,20.1 Q1.6,22.6 0.4,25.1" fill="none" stroke="#e9a474" stroke-width="0.9"/>
<path d="M1.4,0.0 Q2.5,1.8 0.2,3.6 Q-1.3,5.4 -0.4,7.1 Q1.7,8.9 0.2,10.7 Q-2.5,12.5 -1.7,14.3 Q0.9,16.1 -1.6,17.9" fill="none" stroke="#d8636d" stroke-width="0.8"/>
<path d="M4.3,0.0 Q5.6,1.9 3.9,3.9 Q1.0,5.8 2.8,7.8 Q4.8,9.7 2.4,11.7 Q0.4,13.6 2.9,15.6 Q3.5,17.5 1.8,19.5" fill="none" stroke="#e9a474" stroke-width="0.7"/>
<path d="M7.1,0.0 Q8.8,2.1 7.1,4.3 Q5.2,6.4 6.7,8.5 Q7.9,10.7 6.5,12.8 Q4.6,14.9 6.6,17.0 Q7.9,19.2 5.9,21.3" fill="none" stroke="#e9a474" stroke-width="0.6"/>
<path d="M-2.0,-1.0 Q0.3,0.9 -2.4,2.8 Q-4.2,4.7 -1.8,6.6 Q0.2,8.5 -1.2,10.4 Q-2.7,12.3 -0.8,14.2" fill="none" stroke="#d8636d" stroke-width="3.0" stroke-linecap="round" stroke-dasharray="1.2 0.8"/>
<path d="M-2.0,-1.0 Q0.3,0.9 -2.4,2.8 Q-4.2,4.7 -1.8,6.6 Q0.2,8.5 -1.2,10.4 Q-2.7,12.3 -0.8,14.2" fill="none" stroke="#ee9b6c" stroke-width="1.4" stroke-linecap="round"/>
<path d="M-2.0,-1.0 Q0.3,0.9 -2.4,2.8 Q-4.2,4.7 -1.8,6.6 Q0.2,8.5 -1.2,10.4 Q-2.7,12.3 -0.8,14.2" fill="none" stroke="#f8c9a0" stroke-width="0.7" stroke-linecap="round"/>
<path d="M2.0,-1.0 Q3.8,0.8 1.4,2.6 Q0.2,4.4 2.5,6.1 Q3.6,7.9 1.6,9.7 Q-0.6,11.5 1.8,13.3" fill="none" stroke="#d8636d" stroke-width="3.0" stroke-linecap="round" stroke-dasharray="1.2 0.8"/>
<path d="M2.0,-1.0 Q3.8,0.8 1.4,2.6 Q0.2,4.4 2.5,6.1 Q3.6,7.9 1.6,9.7 Q-0.6,11.5 1.8,13.3" fill="none" stroke="#ee9b6c" stroke-width="1.4" stroke-linecap="round"/>
<path d="M2.0,-1.0 Q3.8,0.8 1.4,2.6 Q0.2,4.4 2.5,6.1 Q3.6,7.9 1.6,9.7 Q-0.6,11.5 1.8,13.3" fill="none" stroke="#f8c9a0" stroke-width="0.7" stroke-linecap="round"/>
<path d="M-8.5,0 C-8.5,-13.0 8.5,-13.0 8.5,0 Q0,2.2 -8.5,0 Z" fill="#7fb3d2"/>
<path d="M-6.1,-0.5 L-3.4,-8.5" stroke="#c2e2ef" stroke-width="0.8" opacity="0.6"/>
<path d="M-3.7,-0.5 L-2.0,-8.5" stroke="#c2e2ef" stroke-width="0.8" opacity="0.6"/>
<path d="M-1.2,-0.5 L-0.7,-8.5" stroke="#c2e2ef" stroke-width="0.8" opacity="0.6"/>
<path d="M1.2,-0.5 L0.7,-8.5" stroke="#c2e2ef" stroke-width="0.8" opacity="0.6"/>
<path d="M3.7,-0.5 L2.0,-8.5" stroke="#c2e2ef" stroke-width="0.8" opacity="0.6"/>
<path d="M6.1,-0.5 L3.4,-8.5" stroke="#c2e2ef" stroke-width="0.8" opacity="0.6"/>
<path d="M-8.5,0 Q0,2.2 8.5,0" fill="none" stroke="#5d93b8" stroke-width="1.4"/></g></g>
<g id="tC"><rect width="100" height="100" fill="#2e456b"/><use href="#tC_c" x="-100" y="-100"/><use href="#tC_c" x="-100" y="0"/><use href="#tC_c" x="-100" y="100"/><use href="#tC_c" x="0" y="-100"/><use href="#tC_c" x="0" y="0"/><use href="#tC_c" x="0" y="100"/><use href="#tC_c" x="100" y="-100"/><use href="#tC_c" x="100" y="0"/><use href="#tC_c" x="100" y="100"/></g>
<g id="tT_c"><path d="M4.0,0.0 Q9.6,8.3 4.9,16.7 Q-0.2,25.0 4.8,33.3 Q9.4,41.7 6.0,50.0 Q1.4,58.3 5.1,66.7 Q9.8,75.0 5.7,83.3 Q2.1,91.7 6.5,100.0" fill="none" stroke="#a89a70" stroke-width="0.7" opacity="0.75"/>
<path d="M20.0,0.0 Q25.3,8.3 21.2,16.7 Q15.6,25.0 22.2,33.3 Q26.0,41.7 23.2,50.0 Q17.8,58.3 23.6,66.7 Q29.3,75.0 24.7,83.3 Q20.5,91.7 24.8,100.0" fill="none" stroke="#a89a70" stroke-width="0.7" opacity="0.75"/>
<path d="M36.0,0.0 Q40.3,8.3 37.0,16.7 Q33.9,25.0 38.5,33.3 Q42.3,41.7 39.0,50.0 Q33.2,58.3 39.8,66.7 Q46.8,75.0 41.3,83.3 Q36.5,91.7 41.9,100.0" fill="none" stroke="#a89a70" stroke-width="0.7" opacity="0.75"/>
<path d="M52.0,0.0 Q56.0,8.3 53.9,16.7 Q47.8,25.0 54.8,33.3 Q62.0,41.7 56.3,50.0 Q52.0,58.3 58.6,66.7 Q62.3,75.0 58.6,83.3 Q56.5,91.7 60.8,100.0" fill="none" stroke="#a89a70" stroke-width="0.7" opacity="0.75"/>
<path d="M68.0,0.0 Q73.1,8.3 69.4,16.7 Q65.9,25.0 69.4,33.3 Q73.2,41.7 70.6,50.0 Q67.1,58.3 70.9,66.7 Q77.5,75.0 71.3,83.3 Q68.9,91.7 72.8,100.0" fill="none" stroke="#a89a70" stroke-width="0.7" opacity="0.75"/>
<path d="M84.0,0.0 Q89.1,8.3 84.9,16.7 Q82.5,25.0 86.4,33.3 Q93.2,41.7 87.8,50.0 Q84.6,58.3 89.9,66.7 Q95.2,75.0 91.7,83.3 Q87.0,91.7 92.4,100.0" fill="none" stroke="#a89a70" stroke-width="0.7" opacity="0.75"/>
<path d="M60.0,2.0 Q61.6,8.8 57.4,15.6 Q53.1,22.4 55.0,29.2 Q55.9,36.0 51.5,42.8 Q45.6,49.6 49.5,56.4 Q51.4,63.2 46.0,70.0" fill="none" stroke="#b0685a" stroke-width="4.5" stroke-linecap="round"/>
<path d="M60.0,2.0 Q61.6,8.8 57.4,15.6 Q53.1,22.4 55.0,29.2 Q55.9,36.0 51.5,42.8 Q45.6,49.6 49.5,56.4 Q51.4,63.2 46.0,70.0" fill="none" stroke="#e4b07e" stroke-width="1.6" stroke-linecap="round" opacity="0.9"/>
<path d="M8.0,2.0 Q13.0,8.8 10.2,15.6 Q6.3,22.4 11.6,29.2 Q17.2,36.0 14.6,42.8 Q10.1,49.6 15.5,56.4 Q21.2,63.2 18.0,70.0" fill="none" stroke="#b0685a" stroke-width="4.5" stroke-linecap="round"/>
<path d="M8.0,2.0 Q13.0,8.8 10.2,15.6 Q6.3,22.4 11.6,29.2 Q17.2,36.0 14.6,42.8 Q10.1,49.6 15.5,56.4 Q21.2,63.2 18.0,70.0" fill="none" stroke="#e4b07e" stroke-width="1.6" stroke-linecap="round" opacity="0.9"/>
<circle cx="6.8" cy="10.9" r="2.9" fill="#7a6e5a" stroke="#a89c88" stroke-width="1.0"/>
<circle cx="7.1" cy="11.3" r="1.3" fill="#5a5040"/>
<circle cx="6.9" cy="33.5" r="2.7" fill="#7a6e5a" stroke="#a89c88" stroke-width="1.0"/>
<circle cx="7.2" cy="33.9" r="1.2" fill="#5a5040"/>
<circle cx="3.0" cy="47.6" r="2.2" fill="#7a6e5a" stroke="#a89c88" stroke-width="1.0"/>
<circle cx="3.3" cy="48.0" r="1.0" fill="#5a5040"/>
<circle cx="4.2" cy="81.1" r="2.0" fill="#7a6e5a" stroke="#a89c88" stroke-width="1.0"/>
<circle cx="4.5" cy="81.5" r="0.9" fill="#5a5040"/>
<circle cx="3.9" cy="88.6" r="3.4" fill="#7a6e5a" stroke="#a89c88" stroke-width="1.0"/>
<circle cx="4.2" cy="89.0" r="1.5" fill="#5a5040"/>
<circle cx="19.0" cy="11.3" r="3.4" fill="#7a6e5a" stroke="#a89c88" stroke-width="1.0"/>
<circle cx="19.3" cy="11.7" r="1.5" fill="#5a5040"/>
<circle cx="25.4" cy="21.8" r="3.0" fill="#7a6e5a" stroke="#a89c88" stroke-width="1.0"/>
<circle cx="25.7" cy="22.2" r="1.3" fill="#5a5040"/>
<circle cx="25.2" cy="37.3" r="3.5" fill="#7a6e5a" stroke="#a89c88" stroke-width="1.0"/>
<circle cx="25.5" cy="37.7" r="1.6" fill="#5a5040"/>
<circle cx="20.2" cy="61.4" r="2.0" fill="#7a6e5a" stroke="#a89c88" stroke-width="1.0"/>
<circle cx="20.5" cy="61.8" r="0.9" fill="#5a5040"/>
<circle cx="19.7" cy="79.5" r="1.7" fill="#7a6e5a" stroke="#a89c88" stroke-width="1.0"/>
<circle cx="20.0" cy="79.9" r="0.8" fill="#5a5040"/>
<circle cx="20.0" cy="91.2" r="3.3" fill="#7a6e5a" stroke="#a89c88" stroke-width="1.0"/>
<circle cx="20.3" cy="91.6" r="1.5" fill="#5a5040"/>
<circle cx="34.1" cy="7.0" r="3.0" fill="#7a6e5a" stroke="#a89c88" stroke-width="1.0"/>
<circle cx="34.4" cy="7.4" r="1.4" fill="#5a5040"/>
<circle cx="39.8" cy="17.3" r="3.1" fill="#7a6e5a" stroke="#a89c88" stroke-width="1.0"/>
<circle cx="40.1" cy="17.7" r="1.4" fill="#5a5040"/>
<circle cx="38.2" cy="48.9" r="2.8" fill="#7a6e5a" stroke="#a89c88" stroke-width="1.0"/>
<circle cx="38.5" cy="49.3" r="1.3" fill="#5a5040"/>
<circle cx="31.8" cy="61.6" r="3.5" fill="#7a6e5a" stroke="#a89c88" stroke-width="1.0"/>
<circle cx="32.1" cy="62.0" r="1.6" fill="#5a5040"/>
<circle cx="37.9" cy="82.3" r="3.5" fill="#7a6e5a" stroke="#a89c88" stroke-width="1.0"/>
<circle cx="38.2" cy="82.7" r="1.6" fill="#5a5040"/>
<circle cx="34.5" cy="93.1" r="3.2" fill="#7a6e5a" stroke="#a89c88" stroke-width="1.0"/>
<circle cx="34.8" cy="93.5" r="1.4" fill="#5a5040"/>
<circle cx="52.1" cy="9.7" r="3.3" fill="#7a6e5a" stroke="#a89c88" stroke-width="1.0"/>
<circle cx="52.4" cy="10.1" r="1.5" fill="#5a5040"/>
<circle cx="53.8" cy="17.9" r="2.3" fill="#7a6e5a" stroke="#a89c88" stroke-width="1.0"/>
<circle cx="54.1" cy="18.3" r="1.1" fill="#5a5040"/>
<circle cx="53.6" cy="34.3" r="3.5" fill="#7a6e5a" stroke="#a89c88" stroke-width="1.0"/>
<circle cx="53.9" cy="34.7" r="1.6" fill="#5a5040"/>
<circle cx="48.4" cy="48.4" r="2.0" fill="#7a6e5a" stroke="#a89c88" stroke-width="1.0"/>
<circle cx="48.7" cy="48.8" r="0.9" fill="#5a5040"/>
<circle cx="47.0" cy="65.9" r="3.6" fill="#7a6e5a" stroke="#a89c88" stroke-width="1.0"/>
<circle cx="47.3" cy="66.3" r="1.6" fill="#5a5040"/>
<circle cx="46.1" cy="82.7" r="2.7" fill="#7a6e5a" stroke="#a89c88" stroke-width="1.0"/>
<circle cx="46.4" cy="83.1" r="1.2" fill="#5a5040"/>
<circle cx="47.7" cy="93.7" r="3.3" fill="#7a6e5a" stroke="#a89c88" stroke-width="1.0"/>
<circle cx="48.0" cy="94.1" r="1.5" fill="#5a5040"/>
<circle cx="63.6" cy="3.3" r="3.4" fill="#7a6e5a" stroke="#a89c88" stroke-width="1.0"/>
<circle cx="63.9" cy="3.7" r="1.5" fill="#5a5040"/>
<circle cx="64.2" cy="24.3" r="1.9" fill="#7a6e5a" stroke="#a89c88" stroke-width="1.0"/>
<circle cx="64.5" cy="24.7" r="0.9" fill="#5a5040"/>
<circle cx="68.1" cy="36.8" r="3.2" fill="#7a6e5a" stroke="#a89c88" stroke-width="1.0"/>
<circle cx="68.4" cy="37.2" r="1.4" fill="#5a5040"/>
<circle cx="63.7" cy="47.0" r="3.3" fill="#7a6e5a" stroke="#a89c88" stroke-width="1.0"/>
<circle cx="64.0" cy="47.4" r="1.5" fill="#5a5040"/>
<circle cx="63.9" cy="68.6" r="3.3" fill="#7a6e5a" stroke="#a89c88" stroke-width="1.0"/>
<circle cx="64.2" cy="69.0" r="1.5" fill="#5a5040"/>
<circle cx="64.2" cy="94.8" r="2.6" fill="#7a6e5a" stroke="#a89c88" stroke-width="1.0"/>
<circle cx="64.5" cy="95.2" r="1.2" fill="#5a5040"/>
<circle cx="77.7" cy="4.1" r="2.4" fill="#7a6e5a" stroke="#a89c88" stroke-width="1.0"/>
<circle cx="78.0" cy="4.5" r="1.1" fill="#5a5040"/>
<circle cx="78.6" cy="48.6" r="1.9" fill="#7a6e5a" stroke="#a89c88" stroke-width="1.0"/>
<circle cx="78.9" cy="49.0" r="0.8" fill="#5a5040"/>
<circle cx="81.0" cy="67.4" r="2.4" fill="#7a6e5a" stroke="#a89c88" stroke-width="1.0"/>
<circle cx="81.3" cy="67.8" r="1.1" fill="#5a5040"/>
<circle cx="80.9" cy="80.2" r="3.0" fill="#7a6e5a" stroke="#a89c88" stroke-width="1.0"/>
<circle cx="81.2" cy="80.6" r="1.3" fill="#5a5040"/>
<circle cx="77.4" cy="94.6" r="2.2" fill="#7a6e5a" stroke="#a89c88" stroke-width="1.0"/>
<circle cx="77.7" cy="95.0" r="1.0" fill="#5a5040"/>
<circle cx="95.2" cy="8.8" r="2.3" fill="#7a6e5a" stroke="#a89c88" stroke-width="1.0"/>
<circle cx="95.5" cy="9.2" r="1.0" fill="#5a5040"/>
<circle cx="93.5" cy="31.5" r="2.7" fill="#7a6e5a" stroke="#a89c88" stroke-width="1.0"/>
<circle cx="93.8" cy="31.9" r="1.2" fill="#5a5040"/>
<circle cx="94.3" cy="49.7" r="3.3" fill="#7a6e5a" stroke="#a89c88" stroke-width="1.0"/>
<circle cx="94.6" cy="50.1" r="1.5" fill="#5a5040"/>
<circle cx="95.4" cy="63.0" r="2.9" fill="#7a6e5a" stroke="#a89c88" stroke-width="1.0"/>
<circle cx="95.7" cy="63.4" r="1.3" fill="#5a5040"/>
<circle cx="95.7" cy="77.3" r="3.3" fill="#7a6e5a" stroke="#a89c88" stroke-width="1.0"/>
<circle cx="96.0" cy="77.7" r="1.5" fill="#5a5040"/>
<circle cx="68.8" cy="97.6" r="1.0" fill="#a89a70"/>
<circle cx="14.2" cy="98.0" r="0.6" fill="#8a9a98"/>
<circle cx="93.7" cy="47.7" r="0.8" fill="#a89a70"/>
<circle cx="67.1" cy="41.7" r="0.8" fill="#a89a70"/>
<circle cx="51.6" cy="93.6" r="0.7" fill="#a89a70"/>
<circle cx="77.5" cy="63.7" r="0.9" fill="#c07050"/>
<circle cx="19.6" cy="58.6" r="0.8" fill="#c07050"/>
<circle cx="21.9" cy="68.6" r="0.8" fill="#c07050"/>
<circle cx="98.6" cy="98.0" r="0.6" fill="#c07050"/>
<circle cx="11.1" cy="96.8" r="0.7" fill="#a89a70"/>
<circle cx="3.6" cy="46.5" r="0.7" fill="#a89a70"/>
<circle cx="7.2" cy="20.4" r="0.9" fill="#8a9a98"/>
<circle cx="0.1" cy="40.5" r="0.6" fill="#8a9a98"/>
<circle cx="86.6" cy="68.9" r="0.8" fill="#c07050"/>
<circle cx="55.0" cy="30.1" r="0.6" fill="#a89a70"/>
<circle cx="33.9" cy="58.1" r="1.0" fill="#c07050"/>
<circle cx="41.9" cy="81.3" r="0.8" fill="#8a9a98"/>
<circle cx="46.7" cy="15.7" r="0.7" fill="#8a9a98"/>
<circle cx="95.7" cy="96.8" r="0.8" fill="#8a9a98"/>
<circle cx="82.1" cy="66.2" r="0.7" fill="#8a9a98"/>
<circle cx="56.6" cy="61.5" r="0.6" fill="#a89a70"/>
<circle cx="87.6" cy="56.4" r="0.7" fill="#c07050"/>
<circle cx="49.3" cy="48.0" r="0.9" fill="#8a9a98"/>
<circle cx="96.1" cy="91.4" r="0.8" fill="#8a9a98"/>
<circle cx="74.1" cy="30.1" r="0.6" fill="#c07050"/>
<circle cx="31.9" cy="98.4" r="0.7" fill="#8a9a98"/>
<circle cx="14.3" cy="2.4" r="0.8" fill="#8a9a98"/>
<circle cx="24.6" cy="4.0" r="0.6" fill="#8a9a98"/>
<circle cx="1.3" cy="53.3" r="0.6" fill="#8a9a98"/>
<circle cx="78.2" cy="24.6" r="0.6" fill="#c07050"/>
<circle cx="72.1" cy="28.6" r="0.7" fill="#8a9a98"/>
<circle cx="51.8" cy="86.3" r="0.9" fill="#c07050"/>
<circle cx="1.6" cy="12.6" r="0.6" fill="#a89a70"/>
<circle cx="33.6" cy="29.7" r="0.8" fill="#8a9a98"/>
<circle cx="35.0" cy="68.2" r="0.9" fill="#c07050"/>
<circle cx="3.6" cy="25.2" r="0.7" fill="#c07050"/>
<circle cx="88.8" cy="54.6" r="0.5" fill="#8a9a98"/>
<circle cx="59.5" cy="68.9" r="1.0" fill="#a89a70"/>
<circle cx="48.2" cy="91.2" r="0.7" fill="#8a9a98"/>
<circle cx="68.2" cy="72.0" r="0.9" fill="#8a9a98"/>
<g transform="translate(20.0,22.0) rotate(-14)"><path d="M-10.5,0.0 Q-9.4,4.6 -10.3,9.2 Q-12.7,13.7 -11.5,18.3 Q-9.4,22.9 -11.3,27.5 Q-14.2,32.1 -12.1,36.7 Q-10.7,41.2 -12.9,45.8" fill="none" stroke="#b0685a" stroke-width="0.9"/>
<path d="M-7.5,0.0 Q-5.7,4.7 -8.0,9.4 Q-10.0,14.1 -9.2,18.8 Q-6.6,23.5 -8.9,28.3 Q-11.1,33.0 -9.3,37.7 Q-7.0,42.4 -9.7,47.1" fill="none" stroke="#d09060" stroke-width="0.9"/>
<path d="M-4.5,0.0 Q-2.6,3.9 -3.6,7.7 Q-5.8,11.6 -4.6,15.4 Q-2.2,19.3 -4.4,23.1 Q-6.0,27.0 -3.3,30.8 Q-1.9,34.7 -3.3,38.6" fill="none" stroke="#d09060" stroke-width="1.0"/>
<path d="M-1.5,0.0 Q0.9,4.1 -2.1,8.1 Q-3.2,12.2 -1.8,16.3 Q0.7,20.3 -1.9,24.4 Q-3.7,28.5 -2.3,32.5 Q-0.3,36.6 -1.8,40.6" fill="none" stroke="#b0685a" stroke-width="0.7"/>
<path d="M1.5,0.0 Q4.0,5.0 1.3,9.9 Q0.2,14.9 1.6,19.8 Q4.6,24.8 2.2,29.7 Q0.1,34.7 3.4,39.6 Q5.5,44.6 3.2,49.5" fill="none" stroke="#d09060" stroke-width="0.7"/>
<path d="M4.5,0.0 Q6.3,4.9 6.0,9.7 Q4.2,14.6 6.7,19.5 Q7.9,24.4 6.3,29.2 Q5.1,34.1 6.7,39.0 Q10.0,43.9 8.1,48.7" fill="none" stroke="#d09060" stroke-width="0.9"/>
<path d="M7.5,0.0 Q9.1,4.9 6.8,9.7 Q4.5,14.6 6.5,19.4 Q8.4,24.3 5.6,29.1 Q3.6,34.0 5.1,38.8 Q6.2,43.7 4.1,48.5" fill="none" stroke="#b0685a" stroke-width="0.8"/>
<path d="M10.5,0.0 Q11.9,4.6 10.8,9.2 Q8.3,13.8 10.3,18.5 Q11.5,23.1 9.4,27.7 Q7.5,32.3 9.3,36.9 Q11.3,41.5 9.2,46.1" fill="none" stroke="#d09060" stroke-width="0.7"/>
<path d="M-5.5,-1.0 Q-3.6,3.1 -5.1,7.2 Q-6.6,11.3 -5.3,15.3 Q-2.6,19.4 -4.7,23.5 Q-5.9,27.6 -3.7,31.7" fill="none" stroke="#b0685a" stroke-width="4.2" stroke-linecap="round" stroke-dasharray="1.2 0.8"/>
<path d="M-5.5,-1.0 Q-3.6,3.1 -5.1,7.2 Q-6.6,11.3 -5.3,15.3 Q-2.6,19.4 -4.7,23.5 Q-5.9,27.6 -3.7,31.7" fill="none" stroke="#d08c5c" stroke-width="2.0" stroke-linecap="round"/>
<path d="M-5.5,-1.0 Q-3.6,3.1 -5.1,7.2 Q-6.6,11.3 -5.3,15.3 Q-2.6,19.4 -4.7,23.5 Q-5.9,27.6 -3.7,31.7" fill="none" stroke="#e4b07e" stroke-width="0.9" stroke-linecap="round"/>
<path d="M0.0,-1.0 Q2.2,3.9 -0.9,8.8 Q-4.5,13.7 -2.4,18.6 Q-1.3,23.5 -4.2,28.3 Q-6.1,33.2 -4.6,38.1" fill="none" stroke="#b0685a" stroke-width="4.2" stroke-linecap="round" stroke-dasharray="1.2 0.8"/>
<path d="M0.0,-1.0 Q2.2,3.9 -0.9,8.8 Q-4.5,13.7 -2.4,18.6 Q-1.3,23.5 -4.2,28.3 Q-6.1,33.2 -4.6,38.1" fill="none" stroke="#d08c5c" stroke-width="2.0" stroke-linecap="round"/>
<path d="M0.0,-1.0 Q2.2,3.9 -0.9,8.8 Q-4.5,13.7 -2.4,18.6 Q-1.3,23.5 -4.2,28.3 Q-6.1,33.2 -4.6,38.1" fill="none" stroke="#e4b07e" stroke-width="0.9" stroke-linecap="round"/>
<path d="M5.5,-1.0 Q8.7,3.1 7.1,7.3 Q5.4,11.4 8.4,15.6 Q11.1,19.7 8.4,23.8 Q7.8,28.0 9.8,32.1" fill="none" stroke="#b0685a" stroke-width="4.2" stroke-linecap="round" stroke-dasharray="1.2 0.8"/>
<path d="M5.5,-1.0 Q8.7,3.1 7.1,7.3 Q5.4,11.4 8.4,15.6 Q11.1,19.7 8.4,23.8 Q7.8,28.0 9.8,32.1" fill="none" stroke="#d08c5c" stroke-width="2.0" stroke-linecap="round"/>
<path d="M5.5,-1.0 Q8.7,3.1 7.1,7.3 Q5.4,11.4 8.4,15.6 Q11.1,19.7 8.4,23.8 Q7.8,28.0 9.8,32.1" fill="none" stroke="#e4b07e" stroke-width="0.9" stroke-linecap="round"/>
<path d="M-12.5,0 C-12.5,-19.5 12.5,-19.5 12.5,0 Q0,3.3 -12.5,0 Z" fill="#dc9a62"/>
<path d="M-9.0,-0.8 L-5.0,-12.8" stroke="#ecbf8e" stroke-width="1.1" opacity="0.6"/>
<path d="M-5.4,-0.8 L-3.0,-12.8" stroke="#ecbf8e" stroke-width="1.1" opacity="0.6"/>
<path d="M-1.8,-0.8 L-1.0,-12.8" stroke="#ecbf8e" stroke-width="1.1" opacity="0.6"/>
<path d="M1.8,-0.8 L1.0,-12.8" stroke="#ecbf8e" stroke-width="1.1" opacity="0.6"/>
<path d="M5.4,-0.8 L3.0,-12.8" stroke="#ecbf8e" stroke-width="1.1" opacity="0.6"/>
<path d="M9.0,-0.8 L5.0,-12.8" stroke="#ecbf8e" stroke-width="1.1" opacity="0.6"/>
<path d="M-12.5,0 Q0,3.3 12.5,0" fill="none" stroke="#c07a50" stroke-width="2.0"/></g>
<g transform="translate(72.0,8.0) rotate(8)"><path d="M-9.2,0.0 Q-7.0,3.7 -10.4,7.3 Q-12.0,11.0 -10.1,14.6 Q-8.5,18.3 -11.3,21.9 Q-14.2,25.6 -11.4,29.2 Q-10.4,32.9 -12.7,36.6" fill="none" stroke="#b0685a" stroke-width="0.7"/>
<path d="M-6.6,0.0 Q-5.5,3.8 -7.5,7.7 Q-9.3,11.5 -7.4,15.3 Q-4.4,19.1 -7.5,23.0 Q-9.3,26.8 -6.5,30.6 Q-4.6,34.5 -7.2,38.3" fill="none" stroke="#d09060" stroke-width="0.9"/>
<path d="M-4.0,0.0 Q-2.3,3.0 -4.9,6.0 Q-6.1,9.0 -4.5,12.1 Q-3.2,15.1 -4.7,18.1 Q-7.5,21.1 -5.0,24.1 Q-3.3,27.1 -5.4,30.2" fill="none" stroke="#d09060" stroke-width="0.9"/>
<path d="M-1.3,0.0 Q-0.4,4.3 -2.0,8.5 Q-4.8,12.8 -3.6,17.0 Q-1.0,21.3 -3.0,25.5 Q-5.4,29.8 -3.6,34.1 Q-2.1,38.3 -5.0,42.6" fill="none" stroke="#b0685a" stroke-width="0.7"/>
<path d="M1.3,0.0 Q3.0,4.3 2.2,8.7 Q0.3,13.0 2.4,17.3 Q4.2,21.7 1.9,26.0 Q0.3,30.3 3.2,34.7 Q5.3,39.0 3.3,43.3" fill="none" stroke="#d09060" stroke-width="1.0"/>
<path d="M4.0,0.0 Q5.8,4.4 4.5,8.9 Q2.3,13.3 3.0,17.8 Q5.6,22.2 2.8,26.6 Q1.1,31.1 3.5,35.5 Q5.2,40.0 3.1,44.4" fill="none" stroke="#d09060" stroke-width="0.9"/>
<path d="M6.6,0.0 Q9.0,4.4 5.8,8.7 Q3.9,13.1 5.5,17.5 Q7.8,21.9 6.1,26.2 Q3.7,30.6 5.8,35.0 Q6.9,39.4 5.0,43.7" fill="none" stroke="#b0685a" stroke-width="0.7"/>
<path d="M9.2,0.0 Q11.8,3.6 10.4,7.2 Q9.2,10.8 11.3,14.4 Q13.5,18.0 12.2,21.6 Q10.6,25.2 12.1,28.9 Q15.3,32.5 13.1,36.1" fill="none" stroke="#d09060" stroke-width="0.9"/>
<path d="M-4.8,-1.0 Q-3.5,3.0 -6.8,6.9 Q-8.2,10.9 -7.8,14.8 Q-5.0,18.8 -8.4,22.7 Q-11.3,26.7 -9.7,30.6" fill="none" stroke="#b0685a" stroke-width="3.7" stroke-linecap="round" stroke-dasharray="1.2 0.8"/>
<path d="M-4.8,-1.0 Q-3.5,3.0 -6.8,6.9 Q-8.2,10.9 -7.8,14.8 Q-5.0,18.8 -8.4,22.7 Q-11.3,26.7 -9.7,30.6" fill="none" stroke="#d08c5c" stroke-width="1.7" stroke-linecap="round"/>
<path d="M-4.8,-1.0 Q-3.5,3.0 -6.8,6.9 Q-8.2,10.9 -7.8,14.8 Q-5.0,18.8 -8.4,22.7 Q-11.3,26.7 -9.7,30.6" fill="none" stroke="#e4b07e" stroke-width="0.8" stroke-linecap="round"/>
<path d="M0.0,-1.0 Q1.8,2.8 1.1,6.6 Q-1.0,10.4 0.2,14.2 Q3.7,18.0 0.3,21.8 Q-1.1,25.6 1.3,29.4" fill="none" stroke="#b0685a" stroke-width="3.7" stroke-linecap="round" stroke-dasharray="1.2 0.8"/>
<path d="M0.0,-1.0 Q1.8,2.8 1.1,6.6 Q-1.0,10.4 0.2,14.2 Q3.7,18.0 0.3,21.8 Q-1.1,25.6 1.3,29.4" fill="none" stroke="#d08c5c" stroke-width="1.7" stroke-linecap="round"/>
<path d="M0.0,-1.0 Q1.8,2.8 1.1,6.6 Q-1.0,10.4 0.2,14.2 Q3.7,18.0 0.3,21.8 Q-1.1,25.6 1.3,29.4" fill="none" stroke="#e4b07e" stroke-width="0.8" stroke-linecap="round"/>
<path d="M4.8,-1.0 Q7.9,2.1 5.4,5.2 Q3.8,8.3 6.2,11.4 Q8.3,14.4 6.5,17.5 Q4.1,20.6 7.5,23.7" fill="none" stroke="#b0685a" stroke-width="3.7" stroke-linecap="round" stroke-dasharray="1.2 0.8"/>
<path d="M4.8,-1.0 Q7.9,2.1 5.4,5.2 Q3.8,8.3 6.2,11.4 Q8.3,14.4 6.5,17.5 Q4.1,20.6 7.5,23.7" fill="none" stroke="#d08c5c" stroke-width="1.7" stroke-linecap="round"/>
<path d="M4.8,-1.0 Q7.9,2.1 5.4,5.2 Q3.8,8.3 6.2,11.4 Q8.3,14.4 6.5,17.5 Q4.1,20.6 7.5,23.7" fill="none" stroke="#e4b07e" stroke-width="0.8" stroke-linecap="round"/>
<path d="M-11.0,0 C-11.0,-16.9 11.0,-16.9 11.0,0 Q0,2.9 -11.0,0 Z" fill="#dc9a62"/>
<path d="M-7.9,-0.7 L-4.4,-11.0" stroke="#ecbf8e" stroke-width="1.0" opacity="0.6"/>
<path d="M-4.8,-0.7 L-2.6,-11.0" stroke="#ecbf8e" stroke-width="1.0" opacity="0.6"/>
<path d="M-1.6,-0.7 L-0.9,-11.0" stroke="#ecbf8e" stroke-width="1.0" opacity="0.6"/>
<path d="M1.6,-0.7 L0.9,-11.0" stroke="#ecbf8e" stroke-width="1.0" opacity="0.6"/>
<path d="M4.8,-0.7 L2.6,-11.0" stroke="#ecbf8e" stroke-width="1.0" opacity="0.6"/>
<path d="M7.9,-0.7 L4.4,-11.0" stroke="#ecbf8e" stroke-width="1.0" opacity="0.6"/>
<path d="M-11.0,0 Q0,2.9 11.0,0" fill="none" stroke="#c07a50" stroke-width="1.8"/></g>
<g transform="translate(46.0,62.0) rotate(-18)"><path d="M-10.1,0.0 Q-7.3,3.7 -9.6,7.3 Q-11.1,11.0 -8.8,14.7 Q-7.3,18.4 -9.0,22.0 Q-10.0,25.7 -8.4,29.4 Q-5.6,33.1 -7.5,36.7" fill="none" stroke="#b0685a" stroke-width="0.8"/>
<path d="M-7.2,0.0 Q-5.8,3.8 -7.0,7.6 Q-9.9,11.4 -7.8,15.2 Q-5.3,18.9 -8.1,22.7 Q-10.1,26.5 -8.4,30.3 Q-6.0,34.1 -8.1,37.9" fill="none" stroke="#d09060" stroke-width="0.8"/>
<path d="M-4.3,0.0 Q-2.7,4.6 -4.4,9.3 Q-5.3,13.9 -3.6,18.6 Q-1.3,23.2 -1.8,27.8 Q-4.8,32.5 -2.7,37.1 Q-0.4,41.8 -1.4,46.4" fill="none" stroke="#d09060" stroke-width="0.9"/>
<path d="M-1.4,0.0 Q1.1,4.9 -0.3,9.7 Q-2.2,14.6 -0.0,19.5 Q2.8,24.3 0.1,29.2 Q-1.1,34.0 1.8,38.9 Q3.2,43.8 2.1,48.6" fill="none" stroke="#b0685a" stroke-width="0.9"/>
<path d="M1.4,0.0 Q3.4,5.0 0.8,10.0 Q-1.4,15.0 1.1,20.0 Q1.8,25.0 -0.6,30.0 Q-2.6,35.0 -0.0,40.0 Q0.5,45.0 -1.2,50.0" fill="none" stroke="#d09060" stroke-width="0.9"/>
<path d="M4.3,0.0 Q6.1,4.5 4.9,9.0 Q2.0,13.5 4.7,18.0 Q6.4,22.5 3.2,27.1 Q1.2,31.6 4.0,36.1 Q4.9,40.6 3.4,45.1" fill="none" stroke="#d09060" stroke-width="0.8"/>
<path d="M7.2,0.0 Q8.3,3.4 6.6,6.8 Q4.2,10.2 5.8,13.5 Q8.3,16.9 6.7,20.3 Q4.2,23.7 6.1,27.1 Q7.6,30.5 5.4,33.8" fill="none" stroke="#b0685a" stroke-width="0.9"/>
<path d="M10.1,0.0 Q11.8,5.0 9.6,10.1 Q8.7,15.1 9.6,20.1 Q11.4,25.1 10.7,30.2 Q8.6,35.2 10.5,40.2 Q12.2,45.2 9.9,50.3" fill="none" stroke="#d09060" stroke-width="0.8"/>
<path d="M-5.3,-1.0 Q-2.8,2.5 -6.5,6.0 Q-9.7,9.5 -8.1,12.9 Q-6.6,16.4 -8.9,19.9 Q-11.2,23.4 -9.8,26.9" fill="none" stroke="#b0685a" stroke-width="4.0" stroke-linecap="round" stroke-dasharray="1.2 0.8"/>
<path d="M-5.3,-1.0 Q-2.8,2.5 -6.5,6.0 Q-9.7,9.5 -8.1,12.9 Q-6.6,16.4 -8.9,19.9 Q-11.2,23.4 -9.8,26.9" fill="none" stroke="#d08c5c" stroke-width="1.9" stroke-linecap="round"/>
<path d="M-5.3,-1.0 Q-2.8,2.5 -6.5,6.0 Q-9.7,9.5 -8.1,12.9 Q-6.6,16.4 -8.9,19.9 Q-11.2,23.4 -9.8,26.9" fill="none" stroke="#e4b07e" stroke-width="0.9" stroke-linecap="round"/>
<path d="M0.0,-1.0 Q2.0,3.2 -0.6,7.4 Q-3.1,11.6 -1.6,15.8 Q0.0,20.0 -2.1,24.2 Q-4.7,28.4 -2.9,32.7" fill="none" stroke="#b0685a" stroke-width="4.0" stroke-linecap="round" stroke-dasharray="1.2 0.8"/>
<path d="M0.0,-1.0 Q2.0,3.2 -0.6,7.4 Q-3.1,11.6 -1.6,15.8 Q0.0,20.0 -2.1,24.2 Q-4.7,28.4 -2.9,32.7" fill="none" stroke="#d08c5c" stroke-width="1.9" stroke-linecap="round"/>
<path d="M0.0,-1.0 Q2.0,3.2 -0.6,7.4 Q-3.1,11.6 -1.6,15.8 Q0.0,20.0 -2.1,24.2 Q-4.7,28.4 -2.9,32.7" fill="none" stroke="#e4b07e" stroke-width="0.9" stroke-linecap="round"/>
<path d="M5.3,-1.0 Q7.5,3.7 5.8,8.5 Q4.2,13.2 6.6,18.0 Q8.6,22.7 6.6,27.4 Q4.2,32.2 6.8,36.9" fill="none" stroke="#b0685a" stroke-width="4.0" stroke-linecap="round" stroke-dasharray="1.2 0.8"/>
<path d="M5.3,-1.0 Q7.5,3.7 5.8,8.5 Q4.2,13.2 6.6,18.0 Q8.6,22.7 6.6,27.4 Q4.2,32.2 6.8,36.9" fill="none" stroke="#d08c5c" stroke-width="1.9" stroke-linecap="round"/>
<path d="M5.3,-1.0 Q7.5,3.7 5.8,8.5 Q4.2,13.2 6.6,18.0 Q8.6,22.7 6.6,27.4 Q4.2,32.2 6.8,36.9" fill="none" stroke="#e4b07e" stroke-width="0.9" stroke-linecap="round"/>
<path d="M-12.0,0 C-12.0,-18.2 12.0,-18.2 12.0,0 Q0,3.1 -12.0,0 Z" fill="#dc9a62"/>
<path d="M-8.6,-0.7 L-4.8,-11.9" stroke="#ecbf8e" stroke-width="1.1" opacity="0.6"/>
<path d="M-5.2,-0.7 L-2.9,-11.9" stroke="#ecbf8e" stroke-width="1.1" opacity="0.6"/>
<path d="M-1.7,-0.7 L-1.0,-11.9" stroke="#ecbf8e" stroke-width="1.1" opacity="0.6"/>
<path d="M1.7,-0.7 L1.0,-11.9" stroke="#ecbf8e" stroke-width="1.1" opacity="0.6"/>
<path d="M5.2,-0.7 L2.9,-11.9" stroke="#ecbf8e" stroke-width="1.1" opacity="0.6"/>
<path d="M8.6,-0.7 L4.8,-11.9" stroke="#ecbf8e" stroke-width="1.1" opacity="0.6"/>
<path d="M-12.0,0 Q0,3.1 12.0,0" fill="none" stroke="#c07a50" stroke-width="1.9"/></g>
<g transform="translate(94.0,74.0) rotate(12)"><path d="M-8.4,0.0 Q-6.9,3.7 -8.0,7.3 Q-10.7,11.0 -9.5,14.7 Q-6.6,18.3 -9.1,22.0 Q-10.2,25.7 -8.8,29.3 Q-7.7,33.0 -9.2,36.7" fill="none" stroke="#b0685a" stroke-width="0.8"/>
<path d="M-6.0,0.0 Q-4.5,3.7 -7.1,7.3 Q-8.5,11.0 -7.1,14.6 Q-4.9,18.3 -6.8,21.9 Q-8.5,25.6 -7.0,29.2 Q-5.8,32.9 -7.7,36.5" fill="none" stroke="#d09060" stroke-width="0.8"/>
<path d="M-3.6,0.0 Q-1.9,3.0 -3.2,6.0 Q-5.4,9.0 -2.7,12.0 Q-1.3,15.0 -3.0,18.0 Q-4.2,21.0 -1.9,24.0 Q-0.6,27.0 -1.7,30.0" fill="none" stroke="#d09060" stroke-width="0.7"/>
<path d="M-1.2,0.0 Q0.6,3.8 -1.1,7.6 Q-3.8,11.5 -2.7,15.3 Q-1.7,19.1 -3.1,22.9 Q-5.1,26.7 -3.7,30.5 Q-2.2,34.4 -4.7,38.2" fill="none" stroke="#b0685a" stroke-width="0.8"/>
<path d="M1.2,0.0 Q2.7,3.0 1.2,6.1 Q-0.7,9.1 1.4,12.2 Q2.2,15.2 0.0,18.3 Q-1.6,21.3 0.9,24.4 Q2.9,27.4 0.4,30.5" fill="none" stroke="#d09060" stroke-width="0.8"/>
<path d="M3.6,0.0 Q5.7,3.7 2.3,7.3 Q1.4,11.0 3.1,14.6 Q4.6,18.3 1.4,21.9 Q-0.9,25.6 1.8,29.2 Q2.6,32.9 0.5,36.5" fill="none" stroke="#d09060" stroke-width="0.9"/>
<path d="M6.0,0.0 Q8.1,2.9 5.9,5.9 Q3.2,8.8 4.7,11.8 Q7.1,14.7 4.5,17.6 Q1.9,20.6 3.3,23.5 Q6.3,26.5 3.6,29.4" fill="none" stroke="#b0685a" stroke-width="0.9"/>
<path d="M8.4,0.0 Q11.2,4.1 8.2,8.2 Q6.7,12.3 9.2,16.4 Q12.0,20.5 10.2,24.5 Q7.7,28.6 10.0,32.7 Q13.2,36.8 11.0,40.9" fill="none" stroke="#d09060" stroke-width="0.9"/>
<path d="M-4.4,-1.0 Q-3.4,1.9 -5.8,4.8 Q-8.9,7.7 -6.7,10.6 Q-4.2,13.6 -8.1,16.5 Q-11.4,19.4 -9.0,22.3" fill="none" stroke="#b0685a" stroke-width="3.4" stroke-linecap="round" stroke-dasharray="1.2 0.8"/>
<path d="M-4.4,-1.0 Q-3.4,1.9 -5.8,4.8 Q-8.9,7.7 -6.7,10.6 Q-4.2,13.6 -8.1,16.5 Q-11.4,19.4 -9.0,22.3" fill="none" stroke="#d08c5c" stroke-width="1.6" stroke-linecap="round"/>
<path d="M-4.4,-1.0 Q-3.4,1.9 -5.8,4.8 Q-8.9,7.7 -6.7,10.6 Q-4.2,13.6 -8.1,16.5 Q-11.4,19.4 -9.0,22.3" fill="none" stroke="#e4b07e" stroke-width="0.7" stroke-linecap="round"/>
<path d="M0.0,-1.0 Q2.0,2.1 0.3,5.3 Q-2.6,8.4 -0.8,11.5 Q2.5,14.7 0.3,17.8 Q-3.2,20.9 -0.4,24.1" fill="none" stroke="#b0685a" stroke-width="3.4" stroke-linecap="round" stroke-dasharray="1.2 0.8"/>
<path d="M0.0,-1.0 Q2.0,2.1 0.3,5.3 Q-2.6,8.4 -0.8,11.5 Q2.5,14.7 0.3,17.8 Q-3.2,20.9 -0.4,24.1" fill="none" stroke="#d08c5c" stroke-width="1.6" stroke-linecap="round"/>
<path d="M0.0,-1.0 Q2.0,2.1 0.3,5.3 Q-2.6,8.4 -0.8,11.5 Q2.5,14.7 0.3,17.8 Q-3.2,20.9 -0.4,24.1" fill="none" stroke="#e4b07e" stroke-width="0.7" stroke-linecap="round"/>
<path d="M4.4,-1.0 Q7.5,2.5 5.4,6.0 Q3.6,9.6 5.9,13.1 Q8.6,16.6 7.4,20.1 Q5.9,23.6 8.1,27.2" fill="none" stroke="#b0685a" stroke-width="3.4" stroke-linecap="round" stroke-dasharray="1.2 0.8"/>
<path d="M4.4,-1.0 Q7.5,2.5 5.4,6.0 Q3.6,9.6 5.9,13.1 Q8.6,16.6 7.4,20.1 Q5.9,23.6 8.1,27.2" fill="none" stroke="#d08c5c" stroke-width="1.6" stroke-linecap="round"/>
<path d="M4.4,-1.0 Q7.5,2.5 5.4,6.0 Q3.6,9.6 5.9,13.1 Q8.6,16.6 7.4,20.1 Q5.9,23.6 8.1,27.2" fill="none" stroke="#e4b07e" stroke-width="0.7" stroke-linecap="round"/>
<path d="M-10.0,0 C-10.0,-15.6 10.0,-15.6 10.0,0 Q0,2.6 -10.0,0 Z" fill="#dc9a62"/>
<path d="M-7.2,-0.6 L-4.0,-10.2" stroke="#ecbf8e" stroke-width="0.9" opacity="0.6"/>
<path d="M-4.3,-0.6 L-2.4,-10.2" stroke="#ecbf8e" stroke-width="0.9" opacity="0.6"/>
<path d="M-1.4,-0.6 L-0.8,-10.2" stroke="#ecbf8e" stroke-width="0.9" opacity="0.6"/>
<path d="M1.4,-0.6 L0.8,-10.2" stroke="#ecbf8e" stroke-width="0.9" opacity="0.6"/>
<path d="M4.3,-0.6 L2.4,-10.2" stroke="#ecbf8e" stroke-width="0.9" opacity="0.6"/>
<path d="M7.2,-0.6 L4.0,-10.2" stroke="#ecbf8e" stroke-width="0.9" opacity="0.6"/>
<path d="M-10.0,0 Q0,2.6 10.0,0" fill="none" stroke="#c07a50" stroke-width="1.6"/></g>
<g transform="translate(52.0,26.0) rotate(-4)"><path d="M-8.0,0.0 Q-6.4,2.1 -8.9,4.2 Q-10.4,6.4 -9.4,8.5 Q-7.1,10.6 -9.1,12.7 Q-11.1,14.8 -9.1,17.0 Q-8.6,19.1 -10.1,21.2" fill="none" stroke="#b0685a" stroke-width="1.0"/>
<path d="M-4.8,0.0 Q-3.1,2.1 -5.0,4.2 Q-6.2,6.4 -4.7,8.5 Q-3.0,10.6 -5.0,12.7 Q-7.2,14.8 -4.6,17.0 Q-3.4,19.1 -5.3,21.2" fill="none" stroke="#d09060" stroke-width="0.8"/>
<path d="M-1.6,0.0 Q0.2,2.9 -1.5,5.7 Q-3.0,8.6 0.0,11.5 Q1.4,14.4 0.1,17.2 Q-0.8,20.1 1.1,23.0 Q3.1,25.8 1.9,28.7" fill="none" stroke="#d09060" stroke-width="0.7"/>
<path d="M1.6,0.0 Q3.8,2.9 2.4,5.8 Q0.5,8.7 1.4,11.6 Q4.3,14.5 2.0,17.4 Q0.3,20.3 1.6,23.2 Q4.4,26.1 2.0,29.0" fill="none" stroke="#b0685a" stroke-width="1.0"/>
<path d="M4.8,0.0 Q7.1,2.7 5.4,5.5 Q3.3,8.2 5.8,11.0 Q7.5,13.7 6.2,16.4 Q3.2,19.2 5.4,21.9 Q7.8,24.6 6.0,27.4" fill="none" stroke="#d09060" stroke-width="0.8"/>
<path d="M8.0,0.0 Q10.2,2.3 7.2,4.5 Q5.7,6.8 6.7,9.0 Q8.5,11.3 6.6,13.5 Q4.2,15.8 5.7,18.0 Q6.8,20.3 4.9,22.6" fill="none" stroke="#d09060" stroke-width="1.0"/>
<path d="M-2.3,-1.0 Q0.6,1.7 -2.1,4.4 Q-4.7,7.1 -2.2,9.8 Q-0.2,12.5 -2.4,15.2 Q-5.8,17.9 -2.8,20.6" fill="none" stroke="#b0685a" stroke-width="3.3" stroke-linecap="round" stroke-dasharray="1.2 0.8"/>
<path d="M-2.3,-1.0 Q0.6,1.7 -2.1,4.4 Q-4.7,7.1 -2.2,9.8 Q-0.2,12.5 -2.4,15.2 Q-5.8,17.9 -2.8,20.6" fill="none" stroke="#d08c5c" stroke-width="1.6" stroke-linecap="round"/>
<path d="M-2.3,-1.0 Q0.6,1.7 -2.1,4.4 Q-4.7,7.1 -2.2,9.8 Q-0.2,12.5 -2.4,15.2 Q-5.8,17.9 -2.8,20.6" fill="none" stroke="#e4b07e" stroke-width="0.7" stroke-linecap="round"/>
<path d="M2.3,-1.0 Q4.0,1.2 1.9,3.5 Q-1.0,5.7 1.4,7.9 Q3.8,10.2 2.1,12.4 Q-0.7,14.6 1.0,16.9" fill="none" stroke="#b0685a" stroke-width="3.3" stroke-linecap="round" stroke-dasharray="1.2 0.8"/>
<path d="M2.3,-1.0 Q4.0,1.2 1.9,3.5 Q-1.0,5.7 1.4,7.9 Q3.8,10.2 2.1,12.4 Q-0.7,14.6 1.0,16.9" fill="none" stroke="#d08c5c" stroke-width="1.6" stroke-linecap="round"/>
<path d="M2.3,-1.0 Q4.0,1.2 1.9,3.5 Q-1.0,5.7 1.4,7.9 Q3.8,10.2 2.1,12.4 Q-0.7,14.6 1.0,16.9" fill="none" stroke="#e4b07e" stroke-width="0.7" stroke-linecap="round"/>
<path d="M-9.5,0 C-9.5,-14.3 9.5,-14.3 9.5,0 Q0,2.4 -9.5,0 Z" fill="#8ea4a6"/>
<path d="M-6.8,-0.6 L-3.8,-9.3" stroke="#b8c8c6" stroke-width="0.9" opacity="0.6"/>
<path d="M-4.1,-0.6 L-2.3,-9.3" stroke="#b8c8c6" stroke-width="0.9" opacity="0.6"/>
<path d="M-1.4,-0.6 L-0.8,-9.3" stroke="#b8c8c6" stroke-width="0.9" opacity="0.6"/>
<path d="M1.4,-0.6 L0.8,-9.3" stroke="#b8c8c6" stroke-width="0.9" opacity="0.6"/>
<path d="M4.1,-0.6 L2.3,-9.3" stroke="#b8c8c6" stroke-width="0.9" opacity="0.6"/>
<path d="M6.8,-0.6 L3.8,-9.3" stroke="#b8c8c6" stroke-width="0.9" opacity="0.6"/>
<path d="M-9.5,0 Q0,2.4 9.5,0" fill="none" stroke="#74898c" stroke-width="1.5"/></g>
<g transform="translate(14.0,66.0) rotate(6)"><path d="M-7.6,0.0 Q-6.4,2.1 -8.5,4.3 Q-10.6,6.4 -9.2,8.5 Q-7.3,10.7 -9.7,12.8 Q-12.1,14.9 -9.8,17.1 Q-8.5,19.2 -10.4,21.4" fill="none" stroke="#b0685a" stroke-width="0.8"/>
<path d="M-4.5,0.0 Q-1.9,2.2 -4.2,4.3 Q-5.3,6.5 -2.8,8.6 Q-2.0,10.8 -2.3,12.9 Q-4.4,15.1 -2.1,17.2 Q-0.3,19.4 -1.9,21.5" fill="none" stroke="#d09060" stroke-width="0.6"/>
<path d="M-1.5,0.0 Q-0.5,1.9 -2.7,3.8 Q-4.1,5.7 -3.4,7.6 Q-1.1,9.5 -3.7,11.4 Q-5.4,13.3 -5.1,15.1 Q-2.5,17.0 -5.0,18.9" fill="none" stroke="#d09060" stroke-width="0.8"/>
<path d="M1.5,0.0 Q3.3,1.9 2.9,3.9 Q1.0,5.8 3.6,7.8 Q5.8,9.7 3.6,11.6 Q1.7,13.6 3.7,15.5 Q7.0,17.5 4.9,19.4" fill="none" stroke="#b0685a" stroke-width="0.8"/>
<path d="M4.5,0.0 Q6.7,1.8 4.6,3.6 Q2.9,5.5 5.3,7.3 Q7.2,9.1 5.0,10.9 Q3.3,12.7 5.4,14.6 Q5.9,16.4 4.7,18.2" fill="none" stroke="#d09060" stroke-width="0.9"/>
<path d="M7.6,0.0 Q9.5,2.2 7.5,4.4 Q6.4,6.6 7.9,8.7 Q10.7,10.9 8.7,13.1 Q6.5,15.3 9.3,17.5 Q11.0,19.7 9.3,21.9" fill="none" stroke="#d09060" stroke-width="0.8"/>
<path d="M-2.2,-1.0 Q-0.4,1.1 -3.3,3.2 Q-6.9,5.3 -4.9,7.4 Q-2.6,9.5 -5.6,11.6 Q-7.9,13.7 -6.6,15.8" fill="none" stroke="#b0685a" stroke-width="3.2" stroke-linecap="round" stroke-dasharray="1.2 0.8"/>
<path d="M-2.2,-1.0 Q-0.4,1.1 -3.3,3.2 Q-6.9,5.3 -4.9,7.4 Q-2.6,9.5 -5.6,11.6 Q-7.9,13.7 -6.6,15.8" fill="none" stroke="#d08c5c" stroke-width="1.5" stroke-linecap="round"/>
<path d="M-2.2,-1.0 Q-0.4,1.1 -3.3,3.2 Q-6.9,5.3 -4.9,7.4 Q-2.6,9.5 -5.6,11.6 Q-7.9,13.7 -6.6,15.8" fill="none" stroke="#e4b07e" stroke-width="0.7" stroke-linecap="round"/>
<path d="M2.2,-1.0 Q4.4,1.0 3.4,3.1 Q1.5,5.1 4.5,7.1 Q6.1,9.1 4.2,11.2 Q3.4,13.2 5.4,15.2" fill="none" stroke="#b0685a" stroke-width="3.2" stroke-linecap="round" stroke-dasharray="1.2 0.8"/>
<path d="M2.2,-1.0 Q4.4,1.0 3.4,3.1 Q1.5,5.1 4.5,7.1 Q6.1,9.1 4.2,11.2 Q3.4,13.2 5.4,15.2" fill="none" stroke="#d08c5c" stroke-width="1.5" stroke-linecap="round"/>
<path d="M2.2,-1.0 Q4.4,1.0 3.4,3.1 Q1.5,5.1 4.5,7.1 Q6.1,9.1 4.2,11.2 Q3.4,13.2 5.4,15.2" fill="none" stroke="#e4b07e" stroke-width="0.7" stroke-linecap="round"/>
<path d="M-9.0,0 C-9.0,-13.0 9.0,-13.0 9.0,0 Q0,2.2 -9.0,0 Z" fill="#8ea4a6"/>
<path d="M-6.5,-0.5 L-3.6,-8.5" stroke="#b8c8c6" stroke-width="0.8" opacity="0.6"/>
<path d="M-3.9,-0.5 L-2.1,-8.5" stroke="#b8c8c6" stroke-width="0.8" opacity="0.6"/>
<path d="M-1.3,-0.5 L-0.7,-8.5" stroke="#b8c8c6" stroke-width="0.8" opacity="0.6"/>
<path d="M1.3,-0.5 L0.7,-8.5" stroke="#b8c8c6" stroke-width="0.8" opacity="0.6"/>
<path d="M3.9,-0.5 L2.1,-8.5" stroke="#b8c8c6" stroke-width="0.8" opacity="0.6"/>
<path d="M6.5,-0.5 L3.6,-8.5" stroke="#b8c8c6" stroke-width="0.8" opacity="0.6"/>
<path d="M-9.0,0 Q0,2.2 9.0,0" fill="none" stroke="#74898c" stroke-width="1.4"/></g>
<g transform="translate(78.0,96.0) rotate(-8)"><path d="M-7.1,0.0 Q-5.6,2.4 -6.9,4.8 Q-7.7,7.2 -5.5,9.6 Q-3.6,12.0 -5.1,14.4 Q-7.1,16.8 -4.4,19.2 Q-1.8,21.6 -3.9,24.0" fill="none" stroke="#b0685a" stroke-width="0.6"/>
<path d="M-4.3,0.0 Q-2.1,2.5 -4.7,5.0 Q-6.4,7.5 -3.2,10.0 Q-2.2,12.5 -3.8,15.0 Q-5.5,17.5 -4.2,19.9 Q-1.5,22.4 -3.4,24.9" fill="none" stroke="#d09060" stroke-width="0.7"/>
<path d="M-1.4,0.0 Q0.7,2.2 -1.8,4.4 Q-4.4,6.6 -2.1,8.8 Q-0.7,11.1 -2.2,13.3 Q-5.4,15.5 -3.3,17.7 Q-1.9,19.9 -3.9,22.1" fill="none" stroke="#d09060" stroke-width="0.7"/>
<path d="M1.4,0.0 Q3.5,2.3 1.5,4.6 Q0.6,6.8 2.1,9.1 Q4.5,11.4 3.4,13.7 Q2.6,16.0 4.7,18.3 Q6.0,20.5 4.9,22.8" fill="none" stroke="#b0685a" stroke-width="1.0"/>
<path d="M4.3,0.0 Q6.5,1.7 3.7,3.3 Q3.2,5.0 4.5,6.7 Q6.5,8.3 4.7,10.0 Q2.4,11.7 4.3,13.3 Q6.6,15.0 4.9,16.7" fill="none" stroke="#d09060" stroke-width="0.9"/>
<path d="M7.1,0.0 Q9.4,2.1 8.6,4.3 Q6.9,6.4 8.9,8.5 Q11.2,10.6 8.7,12.8 Q8.3,14.9 9.6,17.0 Q11.9,19.1 10.5,21.3" fill="none" stroke="#d09060" stroke-width="1.0"/>
<path d="M-2.0,-1.0 Q0.5,0.7 -2.5,2.5 Q-4.6,4.2 -2.2,5.9 Q1.2,7.7 -1.7,9.4 Q-4.5,11.1 -1.8,12.9" fill="none" stroke="#b0685a" stroke-width="3.0" stroke-linecap="round" stroke-dasharray="1.2 0.8"/>
<path d="M-2.0,-1.0 Q0.5,0.7 -2.5,2.5 Q-4.6,4.2 -2.2,5.9 Q1.2,7.7 -1.7,9.4 Q-4.5,11.1 -1.8,12.9" fill="none" stroke="#d08c5c" stroke-width="1.4" stroke-linecap="round"/>
<path d="M-2.0,-1.0 Q0.5,0.7 -2.5,2.5 Q-4.6,4.2 -2.2,5.9 Q1.2,7.7 -1.7,9.4 Q-4.5,11.1 -1.8,12.9" fill="none" stroke="#e4b07e" stroke-width="0.7" stroke-linecap="round"/>
<path d="M2.0,-1.0 Q4.6,1.2 1.1,3.5 Q-0.5,5.7 1.1,7.9 Q2.3,10.2 0.5,12.4 Q-3.3,14.6 -0.6,16.9" fill="none" stroke="#b0685a" stroke-width="3.0" stroke-linecap="round" stroke-dasharray="1.2 0.8"/>
<path d="M2.0,-1.0 Q4.6,1.2 1.1,3.5 Q-0.5,5.7 1.1,7.9 Q2.3,10.2 0.5,12.4 Q-3.3,14.6 -0.6,16.9" fill="none" stroke="#d08c5c" stroke-width="1.4" stroke-linecap="round"/>
<path d="M2.0,-1.0 Q4.6,1.2 1.1,3.5 Q-0.5,5.7 1.1,7.9 Q2.3,10.2 0.5,12.4 Q-3.3,14.6 -0.6,16.9" fill="none" stroke="#e4b07e" stroke-width="0.7" stroke-linecap="round"/>
<path d="M-8.5,0 C-8.5,-13.0 8.5,-13.0 8.5,0 Q0,2.2 -8.5,0 Z" fill="#8ea4a6"/>
<path d="M-6.1,-0.5 L-3.4,-8.5" stroke="#b8c8c6" stroke-width="0.8" opacity="0.6"/>
<path d="M-3.7,-0.5 L-2.0,-8.5" stroke="#b8c8c6" stroke-width="0.8" opacity="0.6"/>
<path d="M-1.2,-0.5 L-0.7,-8.5" stroke="#b8c8c6" stroke-width="0.8" opacity="0.6"/>
<path d="M1.2,-0.5 L0.7,-8.5" stroke="#b8c8c6" stroke-width="0.8" opacity="0.6"/>
<path d="M3.7,-0.5 L2.0,-8.5" stroke="#b8c8c6" stroke-width="0.8" opacity="0.6"/>
<path d="M6.1,-0.5 L3.4,-8.5" stroke="#b8c8c6" stroke-width="0.8" opacity="0.6"/>
<path d="M-8.5,0 Q0,2.2 8.5,0" fill="none" stroke="#74898c" stroke-width="1.4"/></g></g>
<g id="tT"><rect width="100" height="100" fill="#655848"/><use href="#tT_c" x="-100" y="-100"/><use href="#tT_c" x="-100" y="0"/><use href="#tT_c" x="-100" y="100"/><use href="#tT_c" x="0" y="-100"/><use href="#tT_c" x="0" y="0"/><use href="#tT_c" x="0" y="100"/><use href="#tT_c" x="100" y="-100"/><use href="#tT_c" x="100" y="0"/><use href="#tT_c" x="100" y="100"/></g>
<pattern id="p1" width="100" height="100" patternUnits="userSpaceOnUse" patternTransform="translate(32.4,15.1) scale(0.950)"><use href="#tN"/></pattern>
<pattern id="p2" width="100" height="100" patternUnits="userSpaceOnUse" patternTransform="translate(65.1,7.2) scale(0.950)"><use href="#tN"/></pattern>
<pattern id="p3" width="100" height="100" patternUnits="userSpaceOnUse" patternTransform="translate(53.6,36.6) scale(0.950)"><use href="#tN"/></pattern>
<pattern id="p4" width="100" height="100" patternUnits="userSpaceOnUse" patternTransform="translate(5.8,50.7) scale(0.950)"><use href="#tN"/></pattern>
<pattern id="p5" width="100" height="100" patternUnits="userSpaceOnUse" patternTransform="translate(3.7,43.4) scale(0.950)"><use href="#tN"/></pattern>
<pattern id="p6" width="100" height="100" patternUnits="userSpaceOnUse" patternTransform="translate(7.0,9.1) scale(0.950)"><use href="#tT"/></pattern>
<pattern id="p7" width="100" height="100" patternUnits="userSpaceOnUse" patternTransform="translate(42.5,82.7) scale(0.950)"><use href="#tB"/></pattern>
<pattern id="p8" width="100" height="100" patternUnits="userSpaceOnUse" patternTransform="translate(12.4,22.3) scale(0.950)"><use href="#tW"/></pattern>
<pattern id="p9" width="100" height="100" patternUnits="userSpaceOnUse" patternTransform="translate(62.7,94.8) scale(0.950)"><use href="#tC"/></pattern>
<pattern id="p10" width="100" height="100" patternUnits="userSpaceOnUse" patternTransform="translate(57.7,39.7) scale(0.950)"><use href="#tN"/></pattern>
<pattern id="p11" width="100" height="100" patternUnits="userSpaceOnUse" patternTransform="translate(97.6,4.7) scale(0.950)"><use href="#tN"/></pattern>
<pattern id="p12" width="100" height="100" patternUnits="userSpaceOnUse" patternTransform="translate(85.8,29.0) scale(0.660)"><use href="#tN"/></pattern>
<pattern id="p13" width="100" height="100" patternUnits="userSpaceOnUse" patternTransform="translate(14.4,11.8) scale(0.660)"><use href="#tN"/></pattern>
<pattern id="p14" width="100" height="100" patternUnits="userSpaceOnUse" patternTransform="translate(30.8,81.6) scale(0.660)"><use href="#tN"/></pattern>
<pattern id="p15" width="100" height="100" patternUnits="userSpaceOnUse" patternTransform="translate(18.1,58.2) scale(0.660)"><use href="#tN"/></pattern>
<pattern id="p16" width="100" height="100" patternUnits="userSpaceOnUse" patternTransform="translate(63.9,37.2) scale(0.660)"><use href="#tN"/></pattern>
<pattern id="p17" width="100" height="100" patternUnits="userSpaceOnUse" patternTransform="translate(54.8,6.3) scale(0.660)"><use href="#tT"/></pattern>
<pattern id="p18" width="100" height="100" patternUnits="userSpaceOnUse" patternTransform="translate(6.0,20.6) scale(0.660)"><use href="#tB"/></pattern>
<pattern id="p19" width="100" height="100" patternUnits="userSpaceOnUse" patternTransform="translate(68.0,42.8) scale(0.660)"><use href="#tW"/></pattern>
<pattern id="p20" width="100" height="100" patternUnits="userSpaceOnUse" patternTransform="translate(31.4,58.6) scale(0.660)"><use href="#tC"/></pattern>
<pattern id="p21" width="100" height="100" patternUnits="userSpaceOnUse" patternTransform="translate(45.3,30.0) scale(0.660)"><use href="#tN"/></pattern>
<pattern id="p22" width="100" height="100" patternUnits="userSpaceOnUse" patternTransform="translate(79.4,69.9) scale(0.660)"><use href="#tN"/></pattern>
<pattern id="p23" width="100" height="100" patternUnits="userSpaceOnUse" patternTransform="translate(24.4,57.4) scale(0.460)"><use href="#tN"/></pattern>
<pattern id="p24" width="100" height="100" patternUnits="userSpaceOnUse" patternTransform="translate(52.5,87.5) scale(0.460)"><use href="#tN"/></pattern>
<pattern id="p25" width="100" height="100" patternUnits="userSpaceOnUse" patternTransform="translate(72.9,28.8) scale(0.460)"><use href="#tN"/></pattern>
<pattern id="p26" width="100" height="100" patternUnits="userSpaceOnUse" patternTransform="translate(98.0,11.8) scale(0.460)"><use href="#tN"/></pattern>
<pattern id="p27" width="100" height="100" patternUnits="userSpaceOnUse" patternTransform="translate(41.8,75.7) scale(0.460)"><use href="#tN"/></pattern>
<pattern id="p28" width="100" height="100" patternUnits="userSpaceOnUse" patternTransform="translate(15.2,48.9) scale(0.460)"><use href="#tT"/></pattern>
<pattern id="p29" width="100" height="100" patternUnits="userSpaceOnUse" patternTransform="translate(3.9,66.8) scale(0.460)"><use href="#tB"/></pattern>
<pattern id="p30" width="100" height="100" patternUnits="userSpaceOnUse" patternTransform="translate(76.5,57.3) scale(0.460)"><use href="#tW"/></pattern>
<pattern id="p31" width="100" height="100" patternUnits="userSpaceOnUse" patternTransform="translate(87.5,31.4) scale(0.460)"><use href="#tC"/></pattern>
<pattern id="p32" width="100" height="100" patternUnits="userSpaceOnUse" patternTransform="translate(69.5,59.4) scale(0.460)"><use href="#tN"/></pattern>
<pattern id="p33" width="100" height="100" patternUnits="userSpaceOnUse" patternTransform="translate(58.0,45.6) scale(0.460)"><use href="#tN"/></pattern>
<filter id="gs" x="0" y="0" width="100%" height="100%" filterUnits="userSpaceOnUse" color-interpolation-filters="sRGB"><feColorMatrix type="saturate" values="0"/></filter>
</defs>
<rect width="1000" height="1000" fill="#ffffff"/>
<rect x="0" y="106" width="1000" height="1" fill="#5a5a5a"/>
<rect x="0" y="358" width="1000" height="1" fill="#5a5a5a"/>
<rect x="0" y="628" width="1000" height="1" fill="#8c8c8c"/>
<rect x="0" y="627" width="1000" height="1" fill="#d6d6d6"/>
<rect x="0" y="880" width="1000" height="1" fill="#5a5a5a"/>
<rect x="159.0" y="148.7" width="22.0" height="31.8" fill="#000" opacity="0.12" clip-path="url(#dc)" filter="url(#sh)"/>
<rect x="160.0" y="144.1" width="20.0" height="31.8" fill="#4a3e38" clip-path="url(#dc)"/>
<rect x="160.0" y="143.2" width="20.0" height="31.8" fill="url(#p1)" clip-path="url(#dc)"/>
<rect x="160.0" y="143.2" width="20.0" height="31.8" fill="#fff" filter="url(#grain)" clip-path="url(#dc)" opacity="0.35"/>
<path d="M160.795,160.074 Q164.408,150.938 169.362,144.068 Q170.000,143.093 170.638,144.068 Q175.592,150.938 179.205,160.074 A10.000,10.733 0 1 1 160.795,160.074 Z" fill="none" stroke="#1e2a40" stroke-width="0.70" opacity="0.30"/>
<rect x="155.0" y="197.7" width="30.0" height="41.8" fill="#000" opacity="0.12" clip-path="url(#dc)" filter="url(#sh)"/>
<rect x="156.0" y="193.1" width="28.0" height="41.8" fill="#4a3e38" clip-path="url(#dc)"/>
<rect x="156.0" y="192.2" width="28.0" height="41.8" fill="url(#p2)" clip-path="url(#dc)"/>
<rect x="156.0" y="192.2" width="28.0" height="41.8" fill="#fff" filter="url(#grain)" clip-path="url(#dc)" opacity="0.35"/>
<path d="M157.113,214.380 Q162.172,202.371 169.107,193.341 Q170.000,192.059 170.893,193.341 Q177.828,202.371 182.887,214.380 A14.000,14.107 0 1 1 157.113,214.380 Z" fill="none" stroke="#1e2a40" stroke-width="0.70" opacity="0.30"/>
<rect x="149.0" y="251.7" width="43.0" height="61.8" fill="#000" opacity="0.12" clip-path="url(#dc)" filter="url(#sh)"/>
<rect x="150.0" y="247.1" width="41.0" height="61.8" fill="#4a3e38" clip-path="url(#dc)"/>
<rect x="150.0" y="246.2" width="41.0" height="61.8" fill="url(#p3)" clip-path="url(#dc)"/>
<rect x="150.0" y="246.2" width="41.0" height="61.8" fill="#fff" filter="url(#grain)" clip-path="url(#dc)" opacity="0.35"/>
<path d="M151.630,278.993 Q159.037,261.237 169.192,247.886 Q170.500,245.991 171.808,247.886 Q181.963,261.237 189.370,278.993 A20.500,20.858 0 1 1 151.630,278.993 Z" fill="none" stroke="#1e2a40" stroke-width="0.70" opacity="0.30"/>
<rect x="210.0" y="132.7" width="57.0" height="82.8" fill="#000" opacity="0.12" clip-path="url(#dc)" filter="url(#sh)"/>
<rect x="211.0" y="128.1" width="55.0" height="82.8" fill="#4a3e38" clip-path="url(#dc)"/>
<rect x="211.0" y="127.2" width="55.0" height="82.8" fill="url(#p4)" clip-path="url(#dc)"/>
<rect x="211.0" y="127.2" width="55.0" height="82.8" fill="#fff" filter="url(#grain)" clip-path="url(#dc)" opacity="0.35"/>
<path d="M213.186,171.136 Q223.123,147.347 236.746,129.460 Q238.500,126.921 240.254,129.460 Q253.877,147.347 263.814,171.136 A27.500,27.945 0 1 1 213.186,171.136 Z" fill="none" stroke="#1e2a40" stroke-width="0.70" opacity="0.30"/>
<rect x="204.0" y="231.7" width="71.0" height="102.8" fill="#000" opacity="0.12" clip-path="url(#dc)" filter="url(#sh)"/>
<rect x="205.0" y="227.1" width="69.0" height="102.8" fill="#4a3e38" clip-path="url(#dc)"/>
<rect x="205.0" y="226.2" width="69.0" height="102.8" fill="url(#p5)" clip-path="url(#dc)"/>
<rect x="205.0" y="226.2" width="69.0" height="102.8" fill="#fff" filter="url(#grain)" clip-path="url(#dc)" opacity="0.35"/>
<path d="M207.743,280.749 Q220.209,251.214 237.299,229.005 Q239.500,225.853 241.701,229.005 Q258.791,251.214 271.257,280.749 A34.500,34.695 0 1 1 207.743,280.749 Z" fill="none" stroke="#1e2a40" stroke-width="0.70" opacity="0.30"/>
<rect x="343.0" y="180.7" width="84.0" height="122.8" fill="#000" opacity="0.12" clip-path="url(#dc)" filter="url(#sh)"/>
<rect x="344.0" y="176.5" width="82.0" height="122.8" fill="#3a2c22" clip-path="url(#dc)"/>
<rect x="344.0" y="175.2" width="82.0" height="122.8" fill="url(#p6)" clip-path="url(#dc)"/>
<rect x="344.0" y="175.2" width="82.0" height="122.8" fill="#fff" filter="url(#grain)" clip-path="url(#dc)" opacity="0.35"/>
<path d="M347.259,240.361 Q362.074,205.080 382.385,178.551 Q385.000,174.786 387.615,178.551 Q407.926,205.080 422.741,240.361 A41.000,41.445 0 1 1 347.259,240.361 Z" fill="none" stroke="#3a2c22" stroke-width="1.00" opacity="0.70"/>
<circle cx="385.0" cy="185.2" r="1.7" fill="#1a1410"/>
<rect x="441.0" y="180.7" width="85.0" height="121.8" fill="#000" opacity="0.12" clip-path="url(#dc)" filter="url(#sh)"/>
<rect x="442.0" y="176.5" width="83.0" height="121.8" fill="#3a2f2a" clip-path="url(#dc)"/>
<rect x="442.0" y="175.2" width="83.0" height="121.8" fill="url(#p7)" clip-path="url(#dc)"/>
<rect x="442.0" y="175.2" width="83.0" height="121.8" fill="#fff" filter="url(#grain)" clip-path="url(#dc)" opacity="0.35"/>
<path d="M445.299,239.831 Q460.295,204.837 480.853,178.524 Q483.500,174.789 486.147,178.524 Q506.705,204.837 521.701,239.831 A41.500,41.108 0 1 1 445.299,239.831 Z" fill="none" stroke="#2a2420" stroke-width="1.00" opacity="0.60"/>
<circle cx="483.5" cy="185.2" r="1.5" fill="#1a2438"/>
<rect x="539.0" y="181.7" width="84.0" height="121.8" fill="#000" opacity="0.12" clip-path="url(#dc)" filter="url(#sh)"/>
<rect x="540.0" y="177.4" width="82.0" height="121.8" fill="#6e6058" clip-path="url(#dc)"/>
<rect x="540.0" y="176.2" width="82.0" height="121.8" fill="url(#p8)" clip-path="url(#dc)"/>
<rect x="540.0" y="176.2" width="82.0" height="121.8" fill="#fff" filter="url(#grain)" clip-path="url(#dc)" opacity="0.35"/>
<path d="M543.259,240.831 Q558.074,205.837 578.385,179.524 Q581.000,175.789 583.615,179.524 Q603.926,205.837 618.741,240.831 A41.000,41.108 0 1 1 543.259,240.831 Z" fill="none" stroke="#3a3430" stroke-width="0.60" opacity="0.35"/>
<rect x="636.0" y="182.7" width="79.5" height="119.8" fill="#000" opacity="0.12" clip-path="url(#dc)" filter="url(#sh)"/>
<rect x="637.0" y="178.4" width="77.5" height="119.8" fill="#9aa2aa" clip-path="url(#dc)"/>
<rect x="637.0" y="177.2" width="77.5" height="119.8" fill="url(#p9)" clip-path="url(#dc)"/>
<rect x="637.0" y="177.2" width="77.5" height="119.8" fill="#fff" filter="url(#grain)" clip-path="url(#dc)" opacity="0.35"/>
<path d="M640.080,240.769 Q654.082,206.350 673.278,180.469 Q675.750,176.796 678.222,180.469 Q697.418,206.350 711.420,240.769 A38.750,40.433 0 1 1 640.080,240.769 Z" fill="none" stroke="#9aa6b4" stroke-width="1.00" opacity="0.60"/>
<circle cx="675.8" cy="187.2" r="2.0" fill="#f4f6f8"/>
<rect x="756.0" y="182.7" width="82.0" height="120.8" fill="#000" opacity="0.12" clip-path="url(#dc)" filter="url(#sh)"/>
<rect x="757.0" y="177.2" width="80.0" height="120.8" fill="#c9cbc3" filter="url(#suede)" clip-path="url(#dc)"/>
<rect x="730.0" y="183.7" width="80.0" height="117.8" fill="#000" opacity="0.12" clip-path="url(#dc)" filter="url(#sh)"/>
<rect x="731.0" y="179.5" width="78.0" height="117.8" fill="#8a8a84" clip-path="url(#dc)"/>
<rect x="731.0" y="178.2" width="78.0" height="117.8" fill="url(#p10)" clip-path="url(#dc)"/>
<rect x="731.0" y="178.2" width="78.0" height="117.8" fill="#fff" filter="url(#grain)" clip-path="url(#dc)" opacity="0.35"/>
<path d="M734.100,240.708 Q748.193,206.864 767.512,181.415 Q770.000,177.802 772.488,181.415 Q791.807,206.864 805.900,240.708 A39.000,39.758 0 1 1 734.100,240.708 Z" fill="none" stroke="#1e2a40" stroke-width="0.80" opacity="0.50"/>
<rect x="870.0" y="179.5" width="82.0" height="119.0" fill="#000" opacity="0.12" clip-path="url(#dc)" filter="url(#sh)"/>
<rect x="871.0" y="174.0" width="80.0" height="119.0" fill="#cc9a5e" filter="url(#cork)" clip-path="url(#dc)"/>
<path d="M874.180,237.145 Q888.634,202.956 908.449,177.247 Q911.000,173.598 913.551,177.247 Q933.366,202.956 947.820,237.145 A40.000,40.163 0 1 1 874.180,237.145 Z" fill="none" stroke="#a87440" stroke-width="0.80" opacity="0.50"/>
<rect x="851.5" y="180.7" width="80.0" height="120.8" fill="#000" opacity="0.12" clip-path="url(#dc)" filter="url(#sh)"/>
<rect x="852.5" y="175.2" width="78.0" height="120.8" fill="url(#p11)" clip-path="url(#dc)"/>
<rect x="852.5" y="175.2" width="78.0" height="120.8" fill="#fff" filter="url(#grain)" clip-path="url(#dc)" opacity="0.35"/>
<path d="M855.600,239.300 Q869.693,204.594 889.012,178.496 Q891.500,174.792 893.988,178.496 Q913.307,204.594 927.400,239.300 A39.000,40.770 0 1 1 855.600,239.300 Z" fill="none" stroke="#b88450" stroke-width="1.20" opacity="0.80"/>
<rect x="159.0" y="412.7" width="23.0" height="31.8" fill="#000" opacity="0.12" clip-path="url(#dc)" filter="url(#sh)"/>
<rect x="160.0" y="408.1" width="21.0" height="31.8" fill="#4a3e38" clip-path="url(#dc)"/>
<rect x="160.0" y="407.2" width="21.0" height="31.8" fill="url(#p12)" clip-path="url(#dc)"/>
<rect x="160.0" y="407.2" width="21.0" height="31.8" fill="#fff" filter="url(#grain)" clip-path="url(#dc)" opacity="0.35"/>
<path d="M160.835,424.074 Q164.629,414.938 169.830,408.068 Q170.500,407.093 171.170,408.068 Q176.371,414.938 180.165,424.074 A10.500,10.733 0 1 1 160.835,424.074 Z" fill="none" stroke="#1e2a40" stroke-width="0.70" opacity="0.30"/>
<rect x="155.0" y="461.7" width="30.0" height="41.8" fill="#000" opacity="0.12" clip-path="url(#dc)" filter="url(#sh)"/>
<rect x="156.0" y="457.1" width="28.0" height="41.8" fill="#4a3e38" clip-path="url(#dc)"/>
<rect x="156.0" y="456.2" width="28.0" height="41.8" fill="url(#p13)" clip-path="url(#dc)"/>
<rect x="156.0" y="456.2" width="28.0" height="41.8" fill="#fff" filter="url(#grain)" clip-path="url(#dc)" opacity="0.35"/>
<path d="M157.113,478.380 Q162.172,466.371 169.107,457.341 Q170.000,456.059 170.893,457.341 Q177.828,466.371 182.887,478.380 A14.000,14.107 0 1 1 157.113,478.380 Z" fill="none" stroke="#1e2a40" stroke-width="0.70" opacity="0.30"/>
<rect x="149.0" y="515.7" width="43.0" height="61.8" fill="#000" opacity="0.12" clip-path="url(#dc)" filter="url(#sh)"/>
<rect x="150.0" y="511.1" width="41.0" height="61.8" fill="#4a3e38" clip-path="url(#dc)"/>
<rect x="150.0" y="510.2" width="41.0" height="61.8" fill="url(#p14)" clip-path="url(#dc)"/>
<rect x="150.0" y="510.2" width="41.0" height="61.8" fill="#fff" filter="url(#grain)" clip-path="url(#dc)" opacity="0.35"/>
<path d="M151.630,542.993 Q159.037,525.237 169.192,511.886 Q170.500,509.991 171.808,511.886 Q181.963,525.237 189.370,542.993 A20.500,20.858 0 1 1 151.630,542.993 Z" fill="none" stroke="#1e2a40" stroke-width="0.70" opacity="0.30"/>
<rect x="210.0" y="396.7" width="57.0" height="81.8" fill="#000" opacity="0.12" clip-path="url(#dc)" filter="url(#sh)"/>
<rect x="211.0" y="392.1" width="55.0" height="81.8" fill="#4a3e38" clip-path="url(#dc)"/>
<rect x="211.0" y="391.2" width="55.0" height="81.8" fill="url(#p15)" clip-path="url(#dc)"/>
<rect x="211.0" y="391.2" width="55.0" height="81.8" fill="#fff" filter="url(#grain)" clip-path="url(#dc)" opacity="0.35"/>
<path d="M213.186,434.605 Q223.123,411.104 236.746,393.432 Q238.500,390.924 240.254,393.432 Q253.877,411.104 263.814,434.605 A27.500,27.608 0 1 1 213.186,434.605 Z" fill="none" stroke="#1e2a40" stroke-width="0.70" opacity="0.30"/>
<rect x="204.0" y="495.7" width="71.0" height="102.8" fill="#000" opacity="0.12" clip-path="url(#dc)" filter="url(#sh)"/>
<rect x="205.0" y="491.1" width="69.0" height="102.8" fill="#4a3e38" clip-path="url(#dc)"/>
<rect x="205.0" y="490.2" width="69.0" height="102.8" fill="url(#p16)" clip-path="url(#dc)"/>
<rect x="205.0" y="490.2" width="69.0" height="102.8" fill="#fff" filter="url(#grain)" clip-path="url(#dc)" opacity="0.35"/>
<path d="M207.743,544.749 Q220.209,515.214 237.299,493.005 Q239.500,489.853 241.701,493.005 Q258.791,515.214 271.257,544.749 A34.500,34.695 0 1 1 207.743,544.749 Z" fill="none" stroke="#1e2a40" stroke-width="0.70" opacity="0.30"/>
<rect x="343.0" y="422.7" width="84.0" height="121.8" fill="#000" opacity="0.12" clip-path="url(#dc)" filter="url(#sh)"/>
<rect x="344.0" y="418.5" width="82.0" height="121.8" fill="#3a2c22" clip-path="url(#dc)"/>
<rect x="344.0" y="417.2" width="82.0" height="121.8" fill="url(#p17)" clip-path="url(#dc)"/>
<rect x="344.0" y="417.2" width="82.0" height="121.8" fill="#fff" filter="url(#grain)" clip-path="url(#dc)" opacity="0.35"/>
<path d="M347.259,481.831 Q362.074,446.837 382.385,420.524 Q385.000,416.789 387.615,420.524 Q407.926,446.837 422.741,481.831 A41.000,41.108 0 1 1 347.259,481.831 Z" fill="none" stroke="#3a2c22" stroke-width="1.00" opacity="0.70"/>
<circle cx="385.0" cy="427.2" r="1.7" fill="#1a1410"/>
<rect x="441.6" y="422.7" width="83.4" height="121.4" fill="#000" opacity="0.12" clip-path="url(#dc)" filter="url(#sh)"/>
<rect x="442.6" y="418.5" width="81.4" height="121.4" fill="#3a2f2a" clip-path="url(#dc)"/>
<rect x="442.6" y="417.2" width="81.4" height="121.4" fill="url(#p18)" clip-path="url(#dc)"/>
<rect x="442.6" y="417.2" width="81.4" height="121.4" fill="#fff" filter="url(#grain)" clip-path="url(#dc)" opacity="0.35"/>
<path d="M445.835,481.618 Q460.542,446.740 480.704,420.513 Q483.300,416.790 485.896,420.513 Q506.058,446.740 520.765,481.618 A40.700,40.972 0 1 1 445.835,481.618 Z" fill="none" stroke="#2a2420" stroke-width="1.00" opacity="0.60"/>
<circle cx="483.3" cy="427.2" r="1.5" fill="#1a2438"/>
<rect x="538.6" y="423.7" width="84.4" height="120.8" fill="#000" opacity="0.12" clip-path="url(#dc)" filter="url(#sh)"/>
<rect x="539.6" y="419.4" width="82.4" height="120.8" fill="#6e6058" clip-path="url(#dc)"/>
<rect x="539.6" y="418.2" width="82.4" height="120.8" fill="url(#p19)" clip-path="url(#dc)"/>
<rect x="539.6" y="418.2" width="82.4" height="120.8" fill="#fff" filter="url(#grain)" clip-path="url(#dc)" opacity="0.35"/>
<path d="M542.875,482.300 Q557.763,447.594 578.172,421.496 Q580.800,417.792 583.428,421.496 Q603.837,447.594 618.725,482.300 A41.200,40.770 0 1 1 542.875,482.300 Z" fill="none" stroke="#3a3430" stroke-width="0.60" opacity="0.35"/>
<rect x="636.0" y="424.7" width="79.1" height="118.8" fill="#000" opacity="0.12" clip-path="url(#dc)" filter="url(#sh)"/>
<rect x="637.0" y="420.4" width="77.1" height="118.8" fill="#9aa2aa" clip-path="url(#dc)"/>
<rect x="637.0" y="419.2" width="77.1" height="118.8" fill="url(#p20)" clip-path="url(#dc)"/>
<rect x="637.0" y="419.2" width="77.1" height="118.8" fill="#fff" filter="url(#grain)" clip-path="url(#dc)" opacity="0.35"/>
<path d="M640.065,482.239 Q653.994,448.107 673.091,422.442 Q675.550,418.799 678.009,422.442 Q697.106,448.107 711.035,482.239 A38.550,40.095 0 1 1 640.065,482.239 Z" fill="none" stroke="#9aa6b4" stroke-width="1.00" opacity="0.60"/>
<circle cx="675.5" cy="429.2" r="2.0" fill="#f4f6f8"/>
<rect x="755.0" y="424.7" width="82.4" height="120.6" fill="#000" opacity="0.12" clip-path="url(#dc)" filter="url(#sh)"/>
<rect x="756.0" y="419.2" width="80.4" height="120.6" fill="#c9cbc3" filter="url(#suede)" clip-path="url(#dc)"/>
<rect x="729.5" y="426.2" width="80.4" height="119.1" fill="#000" opacity="0.12" clip-path="url(#dc)" filter="url(#sh)"/>
<rect x="730.5" y="422.0" width="78.4" height="119.1" fill="#8a8a84" clip-path="url(#dc)"/>
<rect x="730.5" y="420.7" width="78.4" height="119.1" fill="url(#p21)" clip-path="url(#dc)"/>
<rect x="730.5" y="420.7" width="78.4" height="119.1" fill="#fff" filter="url(#grain)" clip-path="url(#dc)" opacity="0.35"/>
<path d="M733.616,483.898 Q747.781,449.680 767.200,423.950 Q769.700,420.298 772.200,423.950 Q791.619,449.680 805.784,483.898 A39.200,40.196 0 1 1 733.616,483.898 Z" fill="none" stroke="#1e2a40" stroke-width="0.80" opacity="0.50"/>
<rect x="870.0" y="421.2" width="82.0" height="118.3" fill="#000" opacity="0.12" clip-path="url(#dc)" filter="url(#sh)"/>
<rect x="871.0" y="415.7" width="80.0" height="118.3" fill="#cc9a5e" filter="url(#cork)" clip-path="url(#dc)"/>
<path d="M874.180,478.473 Q888.634,444.485 908.449,418.928 Q911.000,415.301 913.551,418.928 Q933.366,444.485 947.820,478.473 A40.000,39.926 0 1 1 874.180,478.473 Z" fill="none" stroke="#a87440" stroke-width="0.80" opacity="0.50"/>
<rect x="852.0" y="423.4" width="80.8" height="120.5" fill="#000" opacity="0.12" clip-path="url(#dc)" filter="url(#sh)"/>
<rect x="853.0" y="417.9" width="78.8" height="120.5" fill="url(#p22)" clip-path="url(#dc)"/>
<rect x="853.0" y="417.9" width="78.8" height="120.5" fill="#fff" filter="url(#grain)" clip-path="url(#dc)" opacity="0.35"/>
<path d="M856.132,481.891 Q870.369,447.271 889.887,421.238 Q892.400,417.543 894.913,421.238 Q914.431,447.271 928.668,481.891 A39.400,40.669 0 1 1 856.132,481.891 Z" fill="none" stroke="#b88450" stroke-width="1.20" opacity="0.80"/>
<rect x="162.0" y="676.7" width="23.0" height="31.8" fill="#000" opacity="0.12" clip-path="url(#dc)" filter="url(#sh)"/>
<rect x="163.0" y="672.1" width="21.0" height="31.8" fill="#4a3e38" clip-path="url(#dc)"/>
<rect x="163.0" y="671.2" width="21.0" height="31.8" fill="url(#p23)" clip-path="url(#dc)"/>
<rect x="163.0" y="671.2" width="21.0" height="31.8" fill="#fff" filter="url(#grain)" clip-path="url(#dc)" opacity="0.35"/>
<path d="M163.835,688.074 Q167.629,678.938 172.830,672.068 Q173.500,671.093 174.170,672.068 Q179.371,678.938 183.165,688.074 A10.500,10.733 0 1 1 163.835,688.074 Z" fill="none" stroke="#1e2a40" stroke-width="0.70" opacity="0.30"/>
<rect x="159.0" y="725.7" width="29.5" height="41.8" fill="#000" opacity="0.12" clip-path="url(#dc)" filter="url(#sh)"/>
<rect x="160.0" y="721.1" width="27.5" height="41.8" fill="#4a3e38" clip-path="url(#dc)"/>
<rect x="160.0" y="720.2" width="27.5" height="41.8" fill="url(#p24)" clip-path="url(#dc)"/>
<rect x="160.0" y="720.2" width="27.5" height="41.8" fill="#fff" filter="url(#grain)" clip-path="url(#dc)" opacity="0.35"/>
<path d="M161.093,742.380 Q166.062,730.371 172.873,721.341 Q173.750,720.059 174.627,721.341 Q181.438,730.371 186.407,742.380 A13.750,14.107 0 1 1 161.093,742.380 Z" fill="none" stroke="#1e2a40" stroke-width="0.70" opacity="0.30"/>
<rect x="152.0" y="779.7" width="43.0" height="61.8" fill="#000" opacity="0.12" clip-path="url(#dc)" filter="url(#sh)"/>
<rect x="153.0" y="775.1" width="41.0" height="61.8" fill="#4a3e38" clip-path="url(#dc)"/>
<rect x="153.0" y="774.2" width="41.0" height="61.8" fill="url(#p25)" clip-path="url(#dc)"/>
<rect x="153.0" y="774.2" width="41.0" height="61.8" fill="#fff" filter="url(#grain)" clip-path="url(#dc)" opacity="0.35"/>
<path d="M154.630,806.993 Q162.037,789.237 172.192,775.886 Q173.500,773.991 174.808,775.886 Q184.963,789.237 192.370,806.993 A20.500,20.858 0 1 1 154.630,806.993 Z" fill="none" stroke="#1e2a40" stroke-width="0.70" opacity="0.30"/>
<rect x="213.0" y="660.7" width="57.0" height="82.8" fill="#000" opacity="0.12" clip-path="url(#dc)" filter="url(#sh)"/>
<rect x="214.0" y="656.1" width="55.0" height="82.8" fill="#4a3e38" clip-path="url(#dc)"/>
<rect x="214.0" y="655.2" width="55.0" height="82.8" fill="url(#p26)" clip-path="url(#dc)"/>
<rect x="214.0" y="655.2" width="55.0" height="82.8" fill="#fff" filter="url(#grain)" clip-path="url(#dc)" opacity="0.35"/>
<path d="M216.186,699.136 Q226.123,675.347 239.746,657.460 Q241.500,654.921 243.254,657.460 Q256.877,675.347 266.814,699.136 A27.500,27.945 0 1 1 216.186,699.136 Z" fill="none" stroke="#1e2a40" stroke-width="0.70" opacity="0.30"/>
<rect x="208.0" y="759.7" width="71.0" height="102.8" fill="#000" opacity="0.12" clip-path="url(#dc)" filter="url(#sh)"/>
<rect x="209.0" y="755.1" width="69.0" height="102.8" fill="#4a3e38" clip-path="url(#dc)"/>
<rect x="209.0" y="754.2" width="69.0" height="102.8" fill="url(#p27)" clip-path="url(#dc)"/>
<rect x="209.0" y="754.2" width="69.0" height="102.8" fill="#fff" filter="url(#grain)" clip-path="url(#dc)" opacity="0.35"/>
<path d="M211.743,808.749 Q224.209,779.214 241.299,757.005 Q243.500,753.853 245.701,757.005 Q262.791,779.214 275.257,808.749 A34.500,34.695 0 1 1 211.743,808.749 Z" fill="none" stroke="#1e2a40" stroke-width="0.70" opacity="0.30"/>
<rect x="343.0" y="709.7" width="84.0" height="121.8" fill="#000" opacity="0.12" clip-path="url(#dc)" filter="url(#sh)"/>
<rect x="344.0" y="705.5" width="82.0" height="121.8" fill="#3a2c22" clip-path="url(#dc)"/>
<rect x="344.0" y="704.2" width="82.0" height="121.8" fill="url(#p28)" clip-path="url(#dc)"/>
<rect x="344.0" y="704.2" width="82.0" height="121.8" fill="#fff" filter="url(#grain)" clip-path="url(#dc)" opacity="0.35"/>
<path d="M347.259,768.831 Q362.074,733.837 382.385,707.524 Q385.000,703.789 387.615,707.524 Q407.926,733.837 422.741,768.831 A41.000,41.108 0 1 1 347.259,768.831 Z" fill="none" stroke="#3a2c22" stroke-width="1.00" opacity="0.70"/>
<circle cx="385.0" cy="714.2" r="1.7" fill="#1a1410"/>
<rect x="441.0" y="709.7" width="84.0" height="121.8" fill="#000" opacity="0.12" clip-path="url(#dc)" filter="url(#sh)"/>
<rect x="442.0" y="705.5" width="82.0" height="121.8" fill="#3a2f2a" clip-path="url(#dc)"/>
<rect x="442.0" y="704.2" width="82.0" height="121.8" fill="url(#p29)" clip-path="url(#dc)"/>
<rect x="442.0" y="704.2" width="82.0" height="121.8" fill="#fff" filter="url(#grain)" clip-path="url(#dc)" opacity="0.35"/>
<path d="M445.259,768.831 Q460.074,733.837 480.385,707.524 Q483.000,703.789 485.615,707.524 Q505.926,733.837 520.741,768.831 A41.000,41.108 0 1 1 445.259,768.831 Z" fill="none" stroke="#2a2420" stroke-width="1.00" opacity="0.60"/>
<circle cx="483.0" cy="714.2" r="1.5" fill="#1a2438"/>
<rect x="538.6" y="710.7" width="84.4" height="121.8" fill="#000" opacity="0.12" clip-path="url(#dc)" filter="url(#sh)"/>
<rect x="539.6" y="706.4" width="82.4" height="121.8" fill="#6e6058" clip-path="url(#dc)"/>
<rect x="539.6" y="705.2" width="82.4" height="121.8" fill="url(#p30)" clip-path="url(#dc)"/>
<rect x="539.6" y="705.2" width="82.4" height="121.8" fill="#fff" filter="url(#grain)" clip-path="url(#dc)" opacity="0.35"/>
<path d="M542.875,769.831 Q557.763,734.837 578.172,708.524 Q580.800,704.789 583.428,708.524 Q603.837,734.837 618.725,769.831 A41.200,41.108 0 1 1 542.875,769.831 Z" fill="none" stroke="#3a3430" stroke-width="0.60" opacity="0.35"/>
<rect x="636.0" y="711.7" width="79.1" height="119.8" fill="#000" opacity="0.12" clip-path="url(#dc)" filter="url(#sh)"/>
<rect x="637.0" y="707.4" width="77.1" height="119.8" fill="#9aa2aa" clip-path="url(#dc)"/>
<rect x="637.0" y="706.2" width="77.1" height="119.8" fill="url(#p31)" clip-path="url(#dc)"/>
<rect x="637.0" y="706.2" width="77.1" height="119.8" fill="#fff" filter="url(#grain)" clip-path="url(#dc)" opacity="0.35"/>
<path d="M640.065,769.769 Q653.994,735.350 673.091,709.469 Q675.550,705.796 678.009,709.469 Q697.106,735.350 711.035,769.769 A38.550,40.433 0 1 1 640.065,769.769 Z" fill="none" stroke="#9aa6b4" stroke-width="1.00" opacity="0.60"/>
<circle cx="675.5" cy="716.2" r="2.0" fill="#f4f6f8"/>
<rect x="756.0" y="711.2" width="82.0" height="120.8" fill="#000" opacity="0.12" clip-path="url(#dc)" filter="url(#sh)"/>
<rect x="757.0" y="705.7" width="80.0" height="120.8" fill="#c9cbc3" filter="url(#suede)" clip-path="url(#dc)"/>
<rect x="729.0" y="712.7" width="81.0" height="119.8" fill="#000" opacity="0.12" clip-path="url(#dc)" filter="url(#sh)"/>
<rect x="730.0" y="708.5" width="79.0" height="119.8" fill="#8a8a84" clip-path="url(#dc)"/>
<rect x="730.0" y="707.2" width="79.0" height="119.8" fill="url(#p32)" clip-path="url(#dc)"/>
<rect x="730.0" y="707.2" width="79.0" height="119.8" fill="#fff" filter="url(#grain)" clip-path="url(#dc)" opacity="0.35"/>
<path d="M733.140,770.769 Q747.413,736.350 766.980,710.469 Q769.500,706.796 772.020,710.469 Q791.587,736.350 805.860,770.769 A39.500,40.433 0 1 1 733.140,770.769 Z" fill="none" stroke="#1e2a40" stroke-width="0.80" opacity="0.50"/>
<rect x="870.0" y="708.0" width="82.0" height="119.0" fill="#000" opacity="0.12" clip-path="url(#dc)" filter="url(#sh)"/>
<rect x="871.0" y="702.5" width="80.0" height="119.0" fill="#cc9a5e" filter="url(#cork)" clip-path="url(#dc)"/>
<path d="M874.180,765.645 Q888.634,731.456 908.449,705.747 Q911.000,702.098 913.551,705.747 Q933.366,731.456 947.820,765.645 A40.000,40.163 0 1 1 874.180,765.645 Z" fill="none" stroke="#a87440" stroke-width="0.80" opacity="0.50"/>
<rect x="851.3" y="710.7" width="81.5" height="120.4" fill="#000" opacity="0.12" clip-path="url(#dc)" filter="url(#sh)"/>
<rect x="852.3" y="705.2" width="79.5" height="120.4" fill="url(#p33)" clip-path="url(#dc)"/>
<rect x="852.3" y="705.2" width="79.5" height="120.4" fill="#fff" filter="url(#grain)" clip-path="url(#dc)" opacity="0.35"/>
<path d="M855.460,769.088 Q869.823,734.496 889.515,708.486 Q892.050,704.794 894.585,708.486 Q914.277,734.496 928.640,769.088 A39.750,40.635 0 1 1 855.460,769.088 Z" fill="none" stroke="#b88450" stroke-width="1.20" opacity="0.80"/>
<g filter="url(#gs)"><text x="33.00" y="68.5" font-family="Liberation Sans, sans-serif" font-size="43.50" fill="#000" font-weight="bold" textLength="162.00" lengthAdjust="spacingAndGlyphs">PATTERN</text>
<text x="209.00" y="68.5" font-family="Liberation Sans, sans-serif" font-size="43.50" fill="#000" font-weight="bold" textLength="124.00" lengthAdjust="spacingAndGlyphs">SCALE</text>
<text x="346.00" y="68.5" font-family="Liberation Sans, sans-serif" font-size="43.50" fill="#000" font-weight="bold" textLength="221.00" lengthAdjust="spacingAndGlyphs">INDICATOR</text>
<text x="11.00" y="233.0" font-family="Liberation Sans, sans-serif" font-size="29.30" fill="#111" textLength="64.00" lengthAdjust="spacingAndGlyphs" stroke="#fff" stroke-width="0.60">100%</text>
<text x="23.00" y="506.0" font-family="Liberation Sans, sans-serif" font-size="29.30" fill="#111" textLength="50.00" lengthAdjust="spacingAndGlyphs" stroke="#fff" stroke-width="0.60">75%</text>
<text x="26.00" y="770.0" font-family="Liberation Sans, sans-serif" font-size="29.30" fill="#111" textLength="50.00" lengthAdjust="spacingAndGlyphs" stroke="#fff" stroke-width="0.60">50%</text>
<text x="105.80" y="166.0" font-family="Liberation Sans, sans-serif" font-size="12.00" fill="#2a2a2a" textLength="34.00" lengthAdjust="spacingAndGlyphs">15mm</text>
<text x="104.80" y="220.0" font-family="Liberation Sans, sans-serif" font-size="12.00" fill="#2a2a2a" textLength="34.00" lengthAdjust="spacingAndGlyphs">20mm</text>
<text x="104.80" y="288.6" font-family="Liberation Sans, sans-serif" font-size="12.00" fill="#2a2a2a" textLength="34.00" lengthAdjust="spacingAndGlyphs">30mm</text>
<text x="278.00" y="203.0" font-family="Liberation Sans, sans-serif" font-size="12.00" fill="#2a2a2a" textLength="34.20" lengthAdjust="spacingAndGlyphs">40mm</text>
<text x="280.00" y="321.0" font-family="Liberation Sans, sans-serif" font-size="12.00" fill="#2a2a2a" textLength="35.00" lengthAdjust="spacingAndGlyphs">50mm</text>
<text x="952.40" y="290.4" font-family="Liberation Sans, sans-serif" font-size="12.00" fill="#2a2a2a" textLength="33.60" lengthAdjust="spacingAndGlyphs">60mm</text>
<text x="110.80" y="432.8" font-family="Liberation Sans, sans-serif" font-size="12.00" fill="#2a2a2a" textLength="34.20" lengthAdjust="spacingAndGlyphs">15mm</text>
<text x="108.40" y="487.6" font-family="Liberation Sans, sans-serif" font-size="12.00" fill="#2a2a2a" textLength="34.40" lengthAdjust="spacingAndGlyphs">20mm</text>
<text x="108.00" y="567.3" font-family="Liberation Sans, sans-serif" font-size="12.00" fill="#2a2a2a" textLength="34.80" lengthAdjust="spacingAndGlyphs">30mm</text>
<text x="278.00" y="470.4" font-family="Liberation Sans, sans-serif" font-size="12.00" fill="#2a2a2a" textLength="33.00" lengthAdjust="spacingAndGlyphs">40mm</text>
<text x="281.40" y="588.4" font-family="Liberation Sans, sans-serif" font-size="12.00" fill="#2a2a2a" textLength="33.60" lengthAdjust="spacingAndGlyphs">50mm</text>
<text x="955.00" y="534.0" font-family="Liberation Sans, sans-serif" font-size="12.00" fill="#2a2a2a" textLength="34.00" lengthAdjust="spacingAndGlyphs">60mm</text>
<text x="110.60" y="695.7" font-family="Liberation Sans, sans-serif" font-size="12.00" fill="#2a2a2a" textLength="33.60" lengthAdjust="spacingAndGlyphs">15mm</text>
<text x="110.00" y="751.5" font-family="Liberation Sans, sans-serif" font-size="12.00" fill="#2a2a2a" textLength="35.00" lengthAdjust="spacingAndGlyphs">20mm</text>
<text x="110.60" y="816.4" font-family="Liberation Sans, sans-serif" font-size="12.00" fill="#2a2a2a" textLength="35.40" lengthAdjust="spacingAndGlyphs">30mm</text>
<text x="274.60" y="736.0" font-family="Liberation Sans, sans-serif" font-size="12.00" fill="#2a2a2a" textLength="33.40" lengthAdjust="spacingAndGlyphs">40mm</text>
<text x="280.00" y="855.3" font-family="Liberation Sans, sans-serif" font-size="12.00" fill="#2a2a2a" textLength="35.80" lengthAdjust="spacingAndGlyphs">50mm</text>
<text x="951.60" y="826.5" font-family="Liberation Sans, sans-serif" font-size="12.00" fill="#2a2a2a" textLength="32.40" lengthAdjust="spacingAndGlyphs">60mm</text>
<text x="344.00" y="139.9" font-family="Liberation Sans, sans-serif" font-size="9.90" fill="#333" textLength="78.40" lengthAdjust="spacingAndGlyphs">Transparent Print</text>
<text x="350.00" y="151.8" font-family="Liberation Sans, sans-serif" font-size="9.90" fill="#333" textLength="68.40" lengthAdjust="spacingAndGlyphs">3mm Plywood</text>
<text x="460.00" y="139.9" font-family="Liberation Sans, sans-serif" font-size="9.90" fill="#333" textLength="49.00" lengthAdjust="spacingAndGlyphs">Bright Print</text>
<text x="451.00" y="151.8" font-family="Liberation Sans, sans-serif" font-size="9.90" fill="#333" textLength="69.00" lengthAdjust="spacingAndGlyphs">3mm Plywood</text>
<text x="568.00" y="138.2" font-family="Liberation Sans, sans-serif" font-size="9.90" fill="#333" textLength="26.00" lengthAdjust="spacingAndGlyphs">3mm</text>
<text x="551.00" y="150.2" font-family="Liberation Sans, sans-serif" font-size="9.90" fill="#333" textLength="63.00" lengthAdjust="spacingAndGlyphs">White Acrylic</text>
<text x="665.00" y="138.2" font-family="Liberation Sans, sans-serif" font-size="9.90" fill="#333" textLength="26.00" lengthAdjust="spacingAndGlyphs">3mm</text>
<text x="648.00" y="150.2" font-family="Liberation Sans, sans-serif" font-size="9.90" fill="#333" textLength="63.00" lengthAdjust="spacingAndGlyphs">Clear Acrylic</text>
<text x="757.00" y="140.0" font-family="Liberation Sans, sans-serif" font-size="9.90" fill="#333" textLength="50.20" lengthAdjust="spacingAndGlyphs">1.6-1.8mm</text>
<text x="764.00" y="152.0" font-family="Liberation Sans, sans-serif" font-size="9.90" fill="#333" textLength="37.80" lengthAdjust="spacingAndGlyphs">Leather</text>
<text x="887.00" y="138.0" font-family="Liberation Sans, sans-serif" font-size="9.90" fill="#333" textLength="25.00" lengthAdjust="spacingAndGlyphs">2mm</text>
<text x="855.60" y="150.3" font-family="Liberation Sans, sans-serif" font-size="9.90" fill="#333" textLength="89.60" lengthAdjust="spacingAndGlyphs">Double Sided Cork</text>
<text x="30.00" y="928.2" font-family="Liberation Sans, sans-serif" font-size="15.30" fill="#1a1a1a" font-weight="bold" textLength="43.00" lengthAdjust="spacingAndGlyphs">NOTE:</text>
<text x="78.00" y="928.2" font-family="Liberation Sans, sans-serif" font-size="15.30" fill="#1a1a1a" textLength="648.00" lengthAdjust="spacingAndGlyphs">This is a digital representation of how the patterns are printed on the different materials.</text>
<text x="30.00" y="946.8" font-family="Liberation Sans, sans-serif" font-size="15.30" fill="#1a1a1a" textLength="621.00" lengthAdjust="spacingAndGlyphs">Please be aware there are some characteristics that can’t be represented digitally.</text>
<text x="31.00" y="965.2" font-family="Liberation Sans, sans-serif" font-size="15.30" fill="#1a1a1a" textLength="467.00" lengthAdjust="spacingAndGlyphs">Also note, the placement of the pattern varies on each shape.</text></g>
</svg></body></html>
